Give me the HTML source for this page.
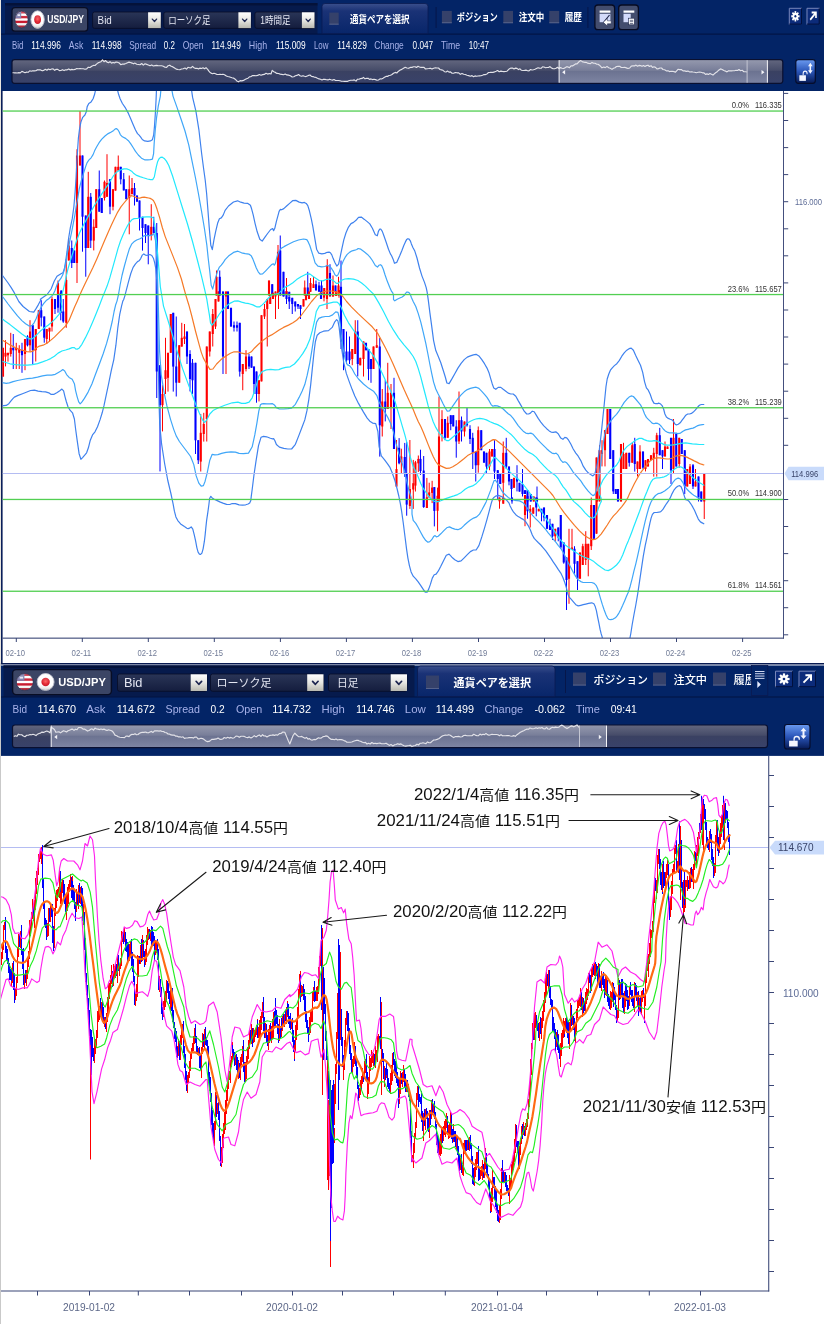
<!DOCTYPE html><html lang="ja"><head><meta charset="utf-8"><title>USD/JPY chart</title>
<style>html,body{margin:0;padding:0;background:#fff}body{width:824px;height:1324px;overflow:hidden}svg{display:block;font-family:"Liberation Sans","Noto Sans CJK JP",sans-serif}</style>
</head><body>
<svg width="824" height="1324" viewBox="0 0 824 1324">
<defs>
<linearGradient id="gNav" x1="0" y1="0" x2="0" y2="1"><stop offset="0" stop-color="#63677f"/><stop offset="0.45" stop-color="#464c69"/><stop offset="0.5" stop-color="#3a4162"/><stop offset="1" stop-color="#39426a"/></linearGradient>
<linearGradient id="gSel" x1="0" y1="0" x2="0" y2="1"><stop offset="0" stop-color="#9498ad"/><stop offset="0.45" stop-color="#787e99"/><stop offset="0.5" stop-color="#6c7391"/><stop offset="1" stop-color="#7d84a2"/></linearGradient>
<linearGradient id="gDD" x1="0" y1="0" x2="0" y2="1"><stop offset="0" stop-color="#2a3557"/><stop offset="1" stop-color="#141d3e"/></linearGradient>
<linearGradient id="gArr" x1="0" y1="0" x2="0" y2="1"><stop offset="0" stop-color="#ffffff"/><stop offset="0.5" stop-color="#e6e6e2"/><stop offset="1" stop-color="#b9b9b0"/></linearGradient>
<linearGradient id="gTab" x1="0" y1="0" x2="0" y2="1"><stop offset="0" stop-color="#3a4f8c"/><stop offset="0.25" stop-color="#1a3276"/><stop offset="1" stop-color="#08266a"/></linearGradient>
<linearGradient id="gLock" x1="0" y1="0" x2="0" y2="1"><stop offset="0" stop-color="#6a9af0"/><stop offset="0.5" stop-color="#2a55b8"/><stop offset="1" stop-color="#061a55"/></linearGradient>
<linearGradient id="gBtn" x1="0" y1="0" x2="0" y2="1"><stop offset="0" stop-color="#4a5578"/><stop offset="1" stop-color="#38425f"/></linearGradient>
<linearGradient id="gShade" x1="0" y1="0" x2="0" y2="1"><stop offset="0" stop-color="#fff" stop-opacity="0.25"/><stop offset="0.6" stop-color="#fff" stop-opacity="0"/><stop offset="1" stop-color="#444" stop-opacity="0.28"/></linearGradient>
<radialGradient id="gJP" cx="0.5" cy="0.45" r="0.5"><stop offset="0" stop-color="#ff5a5a"/><stop offset="1" stop-color="#d01020"/></radialGradient>
<clipPath id="clipTop"><rect x="2.5" y="91" width="781" height="547"/></clipPath>
<clipPath id="clipBot"><rect x="1" y="756" width="767.5" height="535"/></clipPath>
</defs>
<rect width="824" height="1324" fill="#fff"/>
<g id="top-header">
<rect x="0" y="0" width="1" height="663" fill="#e9e6df"/>
<rect x="1" y="0" width="823" height="91" fill="#032466"/>
<rect x="1" y="91" width="1.6" height="572" fill="#0a1f5a"/>
<rect x="5" y="3" width="312.5" height="31" fill="#061a4c"/>
<rect x="5" y="3" width="312.5" height="2.5" fill="#04123a"/>
<rect x="1" y="33.6" width="823" height="1" fill="#021240"/>
<rect x="12" y="7.6" width="75.7" height="23.6" rx="3" fill="#3b4565" stroke="#080d24" stroke-width="1.2"/>
<clipPath id="cfu1"><ellipse cx="21.5" cy="19.5" rx="6.6" ry="8.4"/></clipPath>
<g clip-path="url(#cfu1)">
<rect x="14.9" y="11.1" width="13.2" height="16.8" fill="#fff"/>
<rect x="14.9" y="11.10" width="13.2" height="2.40" fill="#c8152a"/>
<rect x="14.9" y="15.90" width="13.2" height="2.40" fill="#c8152a"/>
<rect x="14.9" y="20.70" width="13.2" height="2.40" fill="#c8152a"/>
<rect x="14.9" y="25.50" width="13.2" height="2.40" fill="#c8152a"/>
<rect x="14.9" y="11.1" width="6.3" height="7.2" fill="#7474a6"/>
<rect x="17.5" y="14.3" width="2.6" height="1.8" fill="#e8e8f4"/>
<rect x="14.9" y="11.1" width="13.2" height="16.8" fill="url(#gShade)"/>
</g>
<ellipse cx="21.5" cy="19.5" rx="6.6" ry="8.4" fill="none" stroke="#2a3150" stroke-width="0.8"/>
<ellipse cx="37.6" cy="19.6" rx="6.7" ry="8.8" fill="#fff" stroke="#b9bccb" stroke-width="0.9"/>
<ellipse cx="37.6" cy="19.6" rx="3.4" ry="4.4" fill="url(#gJP)"/>
<ellipse cx="37.6" cy="19.6" rx="6.7" ry="8.8" fill="url(#gShade)"/>
<text x="47.3" y="23.3" font-size="10.6" fill="#fff" font-weight="bold" text-anchor="start" textLength="36.6" lengthAdjust="spacingAndGlyphs" >USD/JPY</text>
<rect x="92.6" y="12.0" width="68.2" height="16.4" rx="2" fill="url(#gDD)" stroke="#070d26" stroke-width="0.8"/>
<rect x="148.1" y="12.3" width="12.7" height="15.8" fill="url(#gArr)"/>
<path d="M152.3 19.1 L154.5 21.5 L156.6 19.1" fill="none" stroke="#1c2550" stroke-width="1.3" stroke-linecap="round" stroke-linejoin="round"/>
<text x="97.6" y="24.4" font-size="11.6" fill="#e4e6f2" font-weight="normal" text-anchor="start" textLength="14.2" lengthAdjust="spacingAndGlyphs" >Bid</text>
<rect x="163.8" y="12.0" width="87.1" height="16.4" rx="2" fill="url(#gDD)" stroke="#070d26" stroke-width="0.8"/>
<rect x="238.4" y="12.3" width="12.5" height="15.8" fill="url(#gArr)"/>
<path d="M242.5 19.1 L244.7 21.5 L246.8 19.1" fill="none" stroke="#1c2550" stroke-width="1.3" stroke-linecap="round" stroke-linejoin="round"/>
<text x="168.2" y="23.9" font-size="10.4" fill="#e4e6f2" font-weight="normal" text-anchor="start" textLength="42.3" lengthAdjust="spacingAndGlyphs" >ローソク足</text>
<rect x="254.9" y="12.0" width="59.6" height="16.4" rx="2" fill="url(#gDD)" stroke="#070d26" stroke-width="0.8"/>
<rect x="301.9" y="12.3" width="12.6" height="15.8" fill="url(#gArr)"/>
<path d="M306.1 19.1 L308.2 21.5 L310.3 19.1" fill="none" stroke="#1c2550" stroke-width="1.3" stroke-linecap="round" stroke-linejoin="round"/>
<text x="260.2" y="23.9" font-size="10.4" fill="#e4e6f2" font-weight="normal" text-anchor="start" textLength="30.3" lengthAdjust="spacingAndGlyphs" >1時間足</text>
<path d="M322 33.6 V6.5 Q322 3.5 325 3.5 H425 Q428 3.5 428 6.5 V33.6 Z" fill="url(#gTab)" stroke="#0a1a50" stroke-width="0.8"/>
<rect x="329.3" y="12.6" width="9.4" height="12.0" fill="#35416a"/>
<rect x="329.3" y="23.7" width="9.4" height="0.9" fill="#5a678f"/>
<text x="350.1" y="22.5" font-size="10.4" fill="#fff" font-weight="bold" text-anchor="start" textLength="59.3" lengthAdjust="spacingAndGlyphs" >通貨ペアを選択</text>
<rect x="435.6" y="7" width="1" height="21" fill="#06164a"/>
<rect x="441.9" y="10.9" width="9.9" height="12.3" fill="#35416a"/>
<rect x="441.9" y="22.3" width="9.9" height="0.9" fill="#5a678f"/>
<text x="456.8" y="21.0" font-size="10.4" fill="#fff" font-weight="bold" text-anchor="start" textLength="41.0" lengthAdjust="spacingAndGlyphs" >ポジション</text>
<rect x="503.3" y="10.9" width="9.7" height="12.3" fill="#35416a"/>
<rect x="503.3" y="22.3" width="9.7" height="0.9" fill="#5a678f"/>
<text x="518.8" y="21.0" font-size="10.4" fill="#fff" font-weight="bold" text-anchor="start" textLength="25.5" lengthAdjust="spacingAndGlyphs" >注文中</text>
<rect x="549.3" y="10.9" width="9.9" height="12.3" fill="#35416a"/>
<rect x="549.3" y="22.3" width="9.9" height="0.9" fill="#5a678f"/>
<text x="564.7" y="21.0" font-size="10.4" fill="#fff" font-weight="bold" text-anchor="start" textLength="17.2" lengthAdjust="spacingAndGlyphs" >履歴</text>
<rect x="587.4" y="7" width="1" height="21" fill="#06164a"/>
<rect x="594.9" y="5" width="19.7" height="24.7" rx="3" fill="#434d6e" stroke="#070b22" stroke-width="1.3"/>
<rect x="618.7" y="5" width="19.7" height="24.7" rx="3" fill="#434d6e" stroke="#070b22" stroke-width="1.3"/>
<rect x="599.6" y="10.5" width="10.8" height="2.2" fill="#fff"/>
<rect x="599.6" y="13.8" width="10.8" height="8.4" fill="#d3dafa"/>
<path d="M609.5 15 L603.5 22.5" stroke="#1b2348" stroke-width="1.2"/>
<path d="M603.2 22.3 l4.2 -3.8 v2.3 h3.8 v3 h-3.8 v2.3 Z" fill="#fff" stroke="#1b2348" stroke-width="0.5"/>
<rect x="623.5" y="10.5" width="10.8" height="2.2" fill="#fff"/>
<rect x="623.5" y="13.8" width="7.2" height="8.4" fill="#d3dafa"/>
<rect x="628.6" y="18.2" width="5.8" height="6.6" fill="#fff" stroke="#1b2348" stroke-width="0.6"/>
<rect x="629.8" y="19.9" width="3.4" height="0.6" fill="#1b2348"/>
<rect x="629.8" y="21.5" width="3.4" height="0.6" fill="#1b2348"/>
<rect x="629.8" y="23.1" width="3.4" height="0.6" fill="#1b2348"/>
<rect x="788.8" y="7.8" width="13.2" height="16.8" fill="#0c2b7a"/>
<path d="M789.3 24.6 v-16.3 h12.7" fill="none" stroke="#7786b8" stroke-width="1"/>
<path d="M801.5 8.3 v15.8 h-12.2" fill="none" stroke="#02103c" stroke-width="1"/>
<g transform="translate(795.4 16.3) scale(0.8 1)">
<g fill="#fff">
<rect x="-1.04" y="-5.20" width="2.08" height="10.40" transform="rotate(0 0.00 0.00)"/>
<rect x="-1.04" y="-5.20" width="2.08" height="10.40" transform="rotate(45 0.00 0.00)"/>
<rect x="-1.04" y="-5.20" width="2.08" height="10.40" transform="rotate(90 0.00 0.00)"/>
<rect x="-1.04" y="-5.20" width="2.08" height="10.40" transform="rotate(135 0.00 0.00)"/>
<circle cx="0.00" cy="0.00" r="3.43"/>
<circle cx="0.00" cy="0.00" r="1.25" fill="#0b2a78"/>
</g>
</g>
<rect x="806.5" y="7.8" width="13.2" height="16.8" fill="#0c2b7a"/>
<path d="M807.0 24.6 v-16.3 h12.7" fill="none" stroke="#7786b8" stroke-width="1"/>
<path d="M819.2 8.3 v15.8 h-12.2" fill="none" stroke="#02103c" stroke-width="1"/>
<g transform="translate(813.1 16.2) scale(0.8 1)">
<path d="M-3.6 3.6 L2.9 -2.9 M-1.8 -3.6 h5.4 v5.4" fill="none" stroke="#fff" stroke-width="2.0"/>
</g>
<text x="12.0" y="49.2" font-size="10.3" fill="#a8b2ea" font-weight="normal" text-anchor="start" textLength="11.4" lengthAdjust="spacingAndGlyphs" >Bid</text>
<text x="31.3" y="49.2" font-size="10.3" fill="#fff" font-weight="normal" text-anchor="start" textLength="29.6" lengthAdjust="spacingAndGlyphs" >114.996</text>
<text x="68.8" y="49.2" font-size="10.3" fill="#a8b2ea" font-weight="normal" text-anchor="start" textLength="14.5" lengthAdjust="spacingAndGlyphs" >Ask</text>
<text x="91.8" y="49.2" font-size="10.3" fill="#fff" font-weight="normal" text-anchor="start" textLength="29.8" lengthAdjust="spacingAndGlyphs" >114.998</text>
<text x="129.2" y="49.2" font-size="10.3" fill="#a8b2ea" font-weight="normal" text-anchor="start" textLength="27.0" lengthAdjust="spacingAndGlyphs" >Spread</text>
<text x="163.8" y="49.2" font-size="10.3" fill="#fff" font-weight="normal" text-anchor="start" textLength="11.1" lengthAdjust="spacingAndGlyphs" >0.2</text>
<text x="182.7" y="49.2" font-size="10.3" fill="#a8b2ea" font-weight="normal" text-anchor="start" textLength="20.9" lengthAdjust="spacingAndGlyphs" >Open</text>
<text x="211.5" y="49.2" font-size="10.3" fill="#fff" font-weight="normal" text-anchor="start" textLength="29.3" lengthAdjust="spacingAndGlyphs" >114.949</text>
<text x="248.8" y="49.2" font-size="10.3" fill="#a8b2ea" font-weight="normal" text-anchor="start" textLength="18.3" lengthAdjust="spacingAndGlyphs" >High</text>
<text x="276.0" y="49.2" font-size="10.3" fill="#fff" font-weight="normal" text-anchor="start" textLength="29.7" lengthAdjust="spacingAndGlyphs" >115.009</text>
<text x="313.9" y="49.2" font-size="10.3" fill="#a8b2ea" font-weight="normal" text-anchor="start" textLength="14.5" lengthAdjust="spacingAndGlyphs" >Low</text>
<text x="337.2" y="49.2" font-size="10.3" fill="#fff" font-weight="normal" text-anchor="start" textLength="29.6" lengthAdjust="spacingAndGlyphs" >114.829</text>
<text x="374.3" y="49.2" font-size="10.3" fill="#a8b2ea" font-weight="normal" text-anchor="start" textLength="29.5" lengthAdjust="spacingAndGlyphs" >Change</text>
<text x="412.6" y="49.2" font-size="10.3" fill="#fff" font-weight="normal" text-anchor="start" textLength="20.5" lengthAdjust="spacingAndGlyphs" >0.047</text>
<text x="441.0" y="49.2" font-size="10.3" fill="#a8b2ea" font-weight="normal" text-anchor="start" textLength="19.0" lengthAdjust="spacingAndGlyphs" >Time</text>
<text x="468.8" y="49.2" font-size="10.3" fill="#fff" font-weight="normal" text-anchor="start" textLength="20.2" lengthAdjust="spacingAndGlyphs" >10:47</text>
<rect x="12.0" y="59.6" width="770.8" height="23.7" rx="2.5" fill="url(#gNav)" stroke="#0a1030" stroke-width="1.2"/>
<rect x="559.1" y="60.2" width="208.3" height="22.5" fill="url(#gSel)"/>
<path d="M12.5 72.7 L14.1 72.8 L15.6 72.8 L17.2 73.0 L18.8 72.6 L20.3 72.9 L21.9 71.4 L23.4 72.0 L25.0 72.7 L26.6 72.1 L28.1 72.3 L29.7 70.8 L31.2 71.2 L32.8 70.7 L34.4 70.9 L35.9 70.8 L37.5 69.7 L39.1 69.9 L40.6 69.9 L42.2 70.8 L43.8 70.4 L45.3 69.3 L46.9 70.2 L48.4 69.0 L50.0 69.7 L51.6 69.0 L53.1 68.8 L54.7 70.3 L56.2 69.3 L57.8 69.4 L59.4 70.6 L60.9 70.5 L62.5 69.7 L64.1 70.6 L65.6 69.8 L67.2 69.8 L68.8 68.9 L70.3 69.9 L71.9 69.4 L73.4 69.7 L75.0 69.4 L76.7 68.6 L78.3 68.8 L80.0 68.6 L81.7 68.7 L83.3 68.7 L85.0 69.2 L86.7 68.9 L88.3 67.2 L90.0 67.5 L91.7 66.2 L93.3 65.4 L95.0 65.5 L96.5 64.1 L98.0 62.9 L99.5 62.3 L101.0 61.7 L102.5 59.8 L104.0 61.7 L105.5 60.5 L107.0 62.1 L108.5 62.7 L110.0 61.7 L111.5 63.1 L113.0 62.5 L114.5 62.9 L116.0 62.1 L117.5 62.3 L119.2 63.0 L120.8 64.7 L122.5 64.0 L124.2 64.1 L125.8 63.5 L127.5 62.7 L129.0 62.1 L130.5 62.5 L132.0 63.1 L133.5 63.8 L135.0 63.1 L136.7 64.3 L138.3 64.5 L140.0 64.7 L141.7 63.5 L143.3 65.1 L145.0 63.8 L146.7 64.4 L148.3 65.0 L150.0 65.7 L151.7 64.9 L153.3 66.0 L155.0 65.6 L156.7 65.4 L158.3 65.7 L160.0 65.7 L161.7 65.8 L163.3 66.2 L165.0 67.3 L166.6 67.4 L168.1 65.7 L169.7 65.2 L171.2 66.3 L172.9 66.9 L174.6 68.0 L176.2 69.1 L178.0 69.5 L179.8 69.7 L181.5 69.0 L183.2 68.8 L185.0 68.0 L186.5 69.1 L188.0 67.3 L189.5 67.7 L191.0 67.9 L192.5 66.4 L194.0 67.7 L195.5 68.4 L197.0 68.3 L198.5 68.9 L200.0 68.1 L201.5 68.5 L203.0 67.8 L204.5 68.7 L206.0 67.7 L207.7 69.4 L209.3 71.8 L211.0 73.1 L212.5 73.7 L214.0 73.2 L215.5 73.7 L217.0 74.5 L218.5 74.5 L220.0 74.3 L221.5 74.5 L223.0 74.2 L224.5 74.7 L226.0 75.8 L227.5 76.5 L229.0 76.7 L230.5 77.2 L232.0 77.7 L233.5 78.1 L235.2 79.2 L236.8 80.9 L238.5 81.8 L240.2 80.6 L241.8 80.9 L243.5 80.4 L245.0 79.6 L246.5 78.8 L248.0 78.2 L249.5 76.8 L251.0 76.6 L252.7 75.6 L254.3 75.6 L256.0 75.8 L257.7 75.4 L259.3 74.5 L261.0 75.2 L262.7 74.6 L264.3 74.4 L266.0 73.3 L267.7 74.1 L269.3 73.5 L271.0 74.0 L272.2 70.4 L273.8 71.8 L275.4 72.4 L276.9 73.4 L278.5 73.5 L280.2 74.1 L281.8 74.4 L283.5 74.7 L285.2 74.0 L286.8 74.9 L288.5 75.1 L290.4 75.7 L292.2 77.0 L293.8 76.7 L295.4 75.7 L296.9 75.4 L298.5 74.5 L300.0 75.8 L301.5 76.2 L303.0 75.7 L304.5 76.3 L306.0 76.6 L308.5 75.4 L310.0 75.0 L311.5 76.4 L313.0 76.6 L314.5 77.3 L316.0 77.4 L317.5 78.2 L319.0 78.9 L320.5 79.2 L322.0 79.9 L323.5 79.2 L325.0 79.4 L326.5 79.7 L328.0 79.9 L329.5 79.2 L331.0 79.8 L332.5 80.1 L334.0 79.5 L335.5 80.5 L337.0 80.5 L338.5 80.5 L340.0 80.8 L341.5 81.3 L343.0 81.2 L344.5 81.4 L346.0 81.3 L347.7 81.3 L349.3 80.5 L351.0 80.2 L352.7 80.3 L354.3 79.9 L356.0 81.1 L357.5 79.2 L359.0 79.3 L360.5 78.6 L362.0 78.4 L363.5 77.4 L365.0 78.8 L366.5 78.4 L368.0 78.2 L369.5 79.4 L371.0 78.9 L372.5 79.6 L374.0 79.2 L375.5 79.6 L377.0 80.2 L378.5 80.0 L380.0 78.9 L381.5 79.0 L383.0 78.2 L384.5 77.3 L386.0 76.4 L387.5 76.4 L389.0 75.5 L390.5 75.3 L392.0 74.5 L393.5 73.2 L395.2 72.4 L396.8 73.0 L398.5 71.2 L400.2 70.0 L401.8 69.4 L403.5 68.2 L405.2 67.3 L406.9 68.0 L408.6 68.3 L410.3 67.4 L412.0 67.4 L413.5 66.8 L415.0 66.7 L416.5 67.5 L418.0 66.3 L419.5 67.0 L421.0 67.4 L422.5 67.4 L424.0 67.4 L425.5 69.0 L427.0 68.7 L428.7 68.5 L430.3 68.2 L432.0 69.1 L433.7 68.2 L435.3 67.8 L437.0 68.0 L438.5 68.0 L440.0 69.5 L441.5 69.9 L443.0 70.3 L444.5 71.7 L446.0 72.0 L447.5 71.0 L449.0 72.1 L450.5 71.9 L452.0 73.2 L453.7 73.2 L455.3 72.5 L457.0 72.8 L458.7 72.8 L460.3 74.3 L462.0 73.4 L463.7 74.3 L465.3 74.5 L467.0 75.2 L468.7 75.6 L470.3 76.2 L472.0 75.6 L473.5 76.7 L475.0 75.9 L476.5 76.3 L478.0 76.0 L479.5 75.9 L481.0 75.8 L482.5 75.2 L484.0 74.5 L485.5 74.6 L487.0 73.9 L488.5 72.5 L490.0 72.4 L491.5 72.2 L493.0 72.4 L494.5 71.9 L496.1 71.3 L497.6 70.5 L499.2 71.7 L500.8 71.1 L502.3 71.4 L503.9 71.6 L505.4 71.5 L507.0 71.2 L509.5 68.7 L511.0 68.0 L512.5 68.1 L514.0 69.0 L515.5 68.1 L517.0 68.4 L518.5 69.6 L520.0 68.8 L521.5 70.3 L523.0 70.5 L524.5 70.4 L526.0 70.1 L527.5 70.7 L529.0 70.9 L530.5 69.5 L532.0 70.0 L533.5 69.7 L535.0 69.2 L536.5 68.5 L538.0 67.8 L539.5 68.1 L541.0 68.3 L542.5 66.9 L544.0 67.0 L545.5 67.7 L547.0 67.5 L548.5 67.5 L550.0 66.6 L551.5 68.0 L553.0 68.6 L554.5 68.8 L556.0 68.3 L557.5 67.3 L559.0 68.5 L560.5 67.6 L562.0 68.2 L563.5 68.5 L565.0 67.9 L566.5 66.8 L568.0 66.9 L569.5 67.7 L571.0 65.8 L572.5 65.9 L574.0 64.9 L575.5 63.9 L577.0 63.9 L578.9 61.8 L580.8 60.6 L582.6 61.9 L584.5 62.3 L586.0 62.3 L587.5 63.1 L589.0 63.4 L590.5 63.6 L592.0 62.4 L593.5 63.2 L595.0 63.3 L596.5 64.1 L598.0 64.2 L599.5 65.2 L602.0 67.8 L603.7 67.0 L605.3 67.6 L607.0 66.4 L608.7 67.8 L610.3 68.2 L612.0 69.4 L613.5 68.2 L615.0 67.7 L616.5 66.5 L618.0 66.3 L619.7 66.3 L621.3 67.5 L623.0 67.5 L624.7 67.3 L626.3 67.9 L628.0 68.5 L629.7 68.0 L631.3 66.1 L633.0 65.8 L634.5 65.9 L636.0 65.1 L637.5 66.2 L639.0 65.4 L640.5 65.6 L642.0 66.3 L643.5 65.5 L645.0 66.4 L646.5 65.6 L648.0 65.2 L649.5 66.5 L651.0 65.7 L652.5 67.4 L654.0 66.8 L655.5 67.4 L657.0 68.9 L658.5 68.6 L660.0 68.0 L661.5 68.0 L663.0 69.5 L664.7 69.8 L666.3 70.9 L668.0 70.7 L669.5 71.6 L671.0 71.3 L672.5 71.3 L674.0 71.6 L675.5 72.2 L678.0 69.3 L679.7 69.6 L681.3 69.5 L683.0 70.9 L684.7 70.9 L686.3 71.4 L688.0 71.1 L689.7 72.0 L691.3 71.7 L693.0 72.0 L694.7 72.2 L696.3 72.7 L698.0 72.3 L699.5 72.1 L701.0 72.3 L702.5 72.8 L704.0 72.8 L705.5 74.4 L707.0 73.9 L708.5 74.5 L710.0 73.4 L711.5 74.3 L713.0 75.1 L714.5 73.7 L716.0 72.4 L717.5 71.4 L719.0 69.9 L720.5 68.9 L722.2 69.5 L723.8 70.5 L725.5 71.1 L727.0 71.9 L728.5 70.7 L730.0 70.9 L731.5 70.9 L733.0 70.7 L734.5 70.7 L736.0 70.3 L737.5 70.5 L739.0 69.5 L740.5 70.7 L742.2 70.3 L743.9 71.7 L745.6 71.8 L747.2 72.0" fill="none" stroke="#e2e2e8" stroke-width="1.15" stroke-linejoin="round"/>
<rect x="558.6" y="60.2" width="1" height="22.5" fill="#f4f4f8"/>
<rect x="766.9" y="60.2" width="1" height="22.5" fill="#f4f4f8"/>
<rect x="746.6" y="60.2" width="1" height="22.5" fill="#c4c6d2"/>
<path d="M562.1 72.2 L565.1 69.9 L565.1 74.5 Z" fill="#f4f4f8"/>
<path d="M764.5 72.2 L761.5 69.9 L761.5 74.5 Z" fill="#f4f4f8"/>
<rect x="795.8" y="59.6" width="19.5" height="23.7" rx="2.5" fill="url(#gLock)" stroke="#050d2c" stroke-width="1.2"/>
<g transform="translate(795.80 59.60) scale(0.765 0.967)">
<rect x="4.6" y="16.2" width="8.6" height="5.8" fill="#f4f6ff"/>
<path d="M9.6 16.2 v-1.6 a2.6 2.6 0 0 1 5.2 0 v0.6" fill="none" stroke="#f4f6ff" stroke-width="1.3"/>
<path d="M19 3.2 l3 3.6 h-2 v4.2 h2 l-3 3.6 l-3 -3.6 h2 v-4.2 h-2 Z" fill="#f4f6ff"/>
</g>
</g>
<g id="top-chart">
<g clip-path="url(#clipTop)">
<rect x="2.50" y="347.8" width="1" height="28.8" fill="#ff0000"/>
<rect x="1.95" y="347.8" width="2.1" height="28.8" fill="#ff0000"/>
<rect x="5.00" y="340.2" width="1" height="26.2" fill="#ff0000"/>
<rect x="4.45" y="352.8" width="2.1" height="3.8" fill="#ff0000"/>
<rect x="7.50" y="352.8" width="1" height="8.8" fill="#ff0000"/>
<rect x="6.95" y="352.8" width="2.1" height="2.5" fill="#ff0000"/>
<rect x="10.25" y="332.8" width="1" height="23.8" fill="#ff0000"/>
<rect x="9.70" y="347.8" width="2.1" height="6.2" fill="#ff0000"/>
<rect x="12.75" y="334.0" width="1" height="35.0" fill="#0000ff"/>
<rect x="12.20" y="347.8" width="2.1" height="2.5" fill="#0000ff"/>
<rect x="15.75" y="342.8" width="1" height="26.2" fill="#ff0000"/>
<rect x="15.20" y="347.8" width="2.1" height="2.5" fill="#ff0000"/>
<rect x="18.75" y="345.2" width="1" height="23.8" fill="#ff0000"/>
<rect x="18.20" y="349.0" width="2.1" height="3.8" fill="#ff0000"/>
<rect x="21.50" y="342.8" width="1" height="30.0" fill="#0000ff"/>
<rect x="20.95" y="350.2" width="2.1" height="5.0" fill="#0000ff"/>
<rect x="24.50" y="339.0" width="1" height="31.2" fill="#ff0000"/>
<rect x="23.95" y="339.0" width="2.1" height="15.0" fill="#ff0000"/>
<rect x="27.00" y="335.2" width="1" height="11.2" fill="#0000ff"/>
<rect x="26.45" y="336.5" width="2.1" height="8.8" fill="#0000ff"/>
<rect x="29.50" y="320.2" width="1" height="31.2" fill="#ff0000"/>
<rect x="28.95" y="331.5" width="2.1" height="13.8" fill="#ff0000"/>
<rect x="32.25" y="325.2" width="1" height="38.8" fill="#0000ff"/>
<rect x="31.70" y="325.2" width="2.1" height="25.0" fill="#0000ff"/>
<rect x="35.25" y="329.0" width="1" height="32.5" fill="#ff0000"/>
<rect x="34.70" y="329.0" width="2.1" height="21.2" fill="#ff0000"/>
<rect x="38.25" y="310.2" width="1" height="18.8" fill="#ff0000"/>
<rect x="37.70" y="310.2" width="2.1" height="18.8" fill="#ff0000"/>
<rect x="40.75" y="300.2" width="1" height="26.2" fill="#0000ff"/>
<rect x="40.20" y="310.2" width="2.1" height="7.5" fill="#0000ff"/>
<rect x="43.75" y="316.5" width="1" height="26.2" fill="#0000ff"/>
<rect x="43.20" y="316.5" width="2.1" height="21.2" fill="#0000ff"/>
<rect x="46.25" y="329.0" width="1" height="15.0" fill="#ff0000"/>
<rect x="45.70" y="329.0" width="2.1" height="10.0" fill="#ff0000"/>
<rect x="49.00" y="327.8" width="1" height="13.8" fill="#ff0000"/>
<rect x="48.45" y="327.8" width="2.1" height="3.8" fill="#ff0000"/>
<rect x="51.50" y="296.5" width="1" height="35.0" fill="#ff0000"/>
<rect x="50.95" y="299.0" width="2.1" height="27.5" fill="#ff0000"/>
<rect x="54.50" y="299.0" width="1" height="15.0" fill="#0000ff"/>
<rect x="53.95" y="299.0" width="2.1" height="10.0" fill="#0000ff"/>
<rect x="57.50" y="291.5" width="1" height="21.2" fill="#0000ff"/>
<rect x="56.95" y="291.5" width="2.1" height="16.2" fill="#0000ff"/>
<rect x="57.50" y="280.5" width="1" height="13.5" fill="#ff0000"/>
<rect x="56.95" y="283.0" width="2.1" height="11.0" fill="#ff0000"/>
<rect x="60.25" y="292.8" width="1" height="27.5" fill="#0000ff"/>
<rect x="59.70" y="292.8" width="2.1" height="20.0" fill="#0000ff"/>
<rect x="60.75" y="290.5" width="1" height="5.0" fill="#0000ff"/>
<rect x="60.20" y="290.5" width="2.1" height="5.0" fill="#0000ff"/>
<rect x="62.75" y="299.0" width="1" height="23.8" fill="#0000ff"/>
<rect x="62.20" y="311.5" width="2.1" height="10.0" fill="#0000ff"/>
<rect x="65.75" y="259.0" width="1" height="68.8" fill="#ff0000"/>
<rect x="65.20" y="280.0" width="2.1" height="42.8" fill="#ff0000"/>
<rect x="68.25" y="238.0" width="1" height="22.5" fill="#ff0000"/>
<rect x="67.70" y="245.5" width="2.1" height="15.0" fill="#ff0000"/>
<rect x="71.25" y="240.5" width="1" height="27.5" fill="#0000ff"/>
<rect x="70.70" y="248.0" width="2.1" height="15.0" fill="#0000ff"/>
<rect x="73.75" y="250.5" width="1" height="12.5" fill="#0000ff"/>
<rect x="73.20" y="250.5" width="2.1" height="12.5" fill="#0000ff"/>
<rect x="76.50" y="149.2" width="1" height="133.8" fill="#ff0000"/>
<rect x="75.95" y="155.5" width="2.1" height="107.5" fill="#ff0000"/>
<rect x="79.50" y="111.0" width="1" height="54.5" fill="#ff0000"/>
<rect x="78.95" y="155.5" width="2.1" height="10.0" fill="#ff0000"/>
<rect x="82.00" y="155.5" width="1" height="96.2" fill="#0000ff"/>
<rect x="81.45" y="155.5" width="2.1" height="61.2" fill="#0000ff"/>
<rect x="85.25" y="215.5" width="1" height="61.2" fill="#0000ff"/>
<rect x="84.70" y="215.5" width="2.1" height="32.5" fill="#0000ff"/>
<rect x="87.75" y="171.8" width="1" height="76.2" fill="#ff0000"/>
<rect x="87.20" y="196.8" width="2.1" height="51.2" fill="#ff0000"/>
<rect x="90.25" y="193.0" width="1" height="55.0" fill="#0000ff"/>
<rect x="89.70" y="196.8" width="2.1" height="43.8" fill="#0000ff"/>
<rect x="93.25" y="219.2" width="1" height="31.2" fill="#ff0000"/>
<rect x="92.70" y="226.8" width="2.1" height="13.8" fill="#ff0000"/>
<rect x="95.75" y="189.2" width="1" height="38.8" fill="#ff0000"/>
<rect x="95.20" y="189.2" width="2.1" height="38.8" fill="#ff0000"/>
<rect x="98.75" y="170.5" width="1" height="41.2" fill="#0000ff"/>
<rect x="98.20" y="189.2" width="2.1" height="22.5" fill="#0000ff"/>
<rect x="101.25" y="198.0" width="1" height="15.0" fill="#0000ff"/>
<rect x="100.70" y="198.0" width="2.1" height="15.0" fill="#0000ff"/>
<rect x="104.00" y="180.5" width="1" height="20.0" fill="#ff0000"/>
<rect x="103.45" y="181.8" width="2.1" height="16.2" fill="#ff0000"/>
<rect x="106.50" y="154.2" width="1" height="42.5" fill="#ff0000"/>
<rect x="105.95" y="183.0" width="2.1" height="13.8" fill="#ff0000"/>
<rect x="109.50" y="179.2" width="1" height="35.0" fill="#0000ff"/>
<rect x="108.95" y="179.2" width="2.1" height="27.5" fill="#0000ff"/>
<rect x="112.50" y="189.2" width="1" height="21.2" fill="#ff0000"/>
<rect x="111.95" y="189.2" width="2.1" height="17.5" fill="#ff0000"/>
<rect x="115.00" y="166.8" width="1" height="23.8" fill="#ff0000"/>
<rect x="114.45" y="166.8" width="2.1" height="23.8" fill="#ff0000"/>
<rect x="117.75" y="155.5" width="1" height="15.0" fill="#ff0000"/>
<rect x="117.20" y="166.8" width="2.1" height="3.8" fill="#ff0000"/>
<rect x="120.25" y="166.8" width="1" height="17.5" fill="#0000ff"/>
<rect x="119.70" y="166.8" width="2.1" height="12.5" fill="#0000ff"/>
<rect x="123.25" y="173.0" width="1" height="17.5" fill="#0000ff"/>
<rect x="122.70" y="179.2" width="2.1" height="11.2" fill="#0000ff"/>
<rect x="125.75" y="189.2" width="1" height="10.0" fill="#0000ff"/>
<rect x="125.20" y="189.2" width="2.1" height="10.0" fill="#0000ff"/>
<rect x="128.75" y="175.5" width="1" height="58.8" fill="#ff0000"/>
<rect x="128.20" y="189.2" width="2.1" height="8.8" fill="#ff0000"/>
<rect x="131.50" y="178.0" width="1" height="16.2" fill="#ff0000"/>
<rect x="130.95" y="188.0" width="2.1" height="6.2" fill="#ff0000"/>
<rect x="134.00" y="183.0" width="1" height="22.5" fill="#0000ff"/>
<rect x="133.45" y="188.0" width="2.1" height="7.5" fill="#0000ff"/>
<rect x="136.50" y="195.5" width="1" height="6.2" fill="#0000ff"/>
<rect x="135.95" y="195.5" width="2.1" height="6.2" fill="#0000ff"/>
<rect x="139.00" y="200.5" width="1" height="30.0" fill="#0000ff"/>
<rect x="138.45" y="200.5" width="2.1" height="17.5" fill="#0000ff"/>
<rect x="142.00" y="216.8" width="1" height="33.8" fill="#0000ff"/>
<rect x="141.45" y="216.8" width="2.1" height="11.2" fill="#0000ff"/>
<rect x="145.00" y="224.2" width="1" height="18.8" fill="#0000ff"/>
<rect x="144.45" y="224.2" width="2.1" height="8.8" fill="#0000ff"/>
<rect x="147.75" y="225.5" width="1" height="38.8" fill="#0000ff"/>
<rect x="147.20" y="225.5" width="2.1" height="10.0" fill="#0000ff"/>
<rect x="150.75" y="204.2" width="1" height="36.2" fill="#ff0000"/>
<rect x="150.20" y="226.8" width="2.1" height="8.8" fill="#ff0000"/>
<rect x="153.25" y="216.8" width="1" height="16.2" fill="#0000ff"/>
<rect x="152.70" y="226.8" width="2.1" height="6.2" fill="#0000ff"/>
<rect x="156.25" y="223.0" width="1" height="175.0" fill="#0000ff"/>
<rect x="155.70" y="233.0" width="2.1" height="138.5" fill="#0000ff"/>
<rect x="159.50" y="365.2" width="1" height="106.2" fill="#0000ff"/>
<rect x="158.95" y="365.2" width="2.1" height="40.0" fill="#0000ff"/>
<rect x="162.00" y="385.2" width="1" height="46.2" fill="#ff0000"/>
<rect x="161.45" y="394.0" width="2.1" height="11.2" fill="#ff0000"/>
<rect x="165.00" y="337.8" width="1" height="56.2" fill="#ff0000"/>
<rect x="164.45" y="370.2" width="2.1" height="8.8" fill="#ff0000"/>
<rect x="167.50" y="352.8" width="1" height="38.8" fill="#ff0000"/>
<rect x="166.95" y="352.8" width="2.1" height="25.0" fill="#ff0000"/>
<rect x="170.25" y="314.0" width="1" height="38.8" fill="#ff0000"/>
<rect x="169.70" y="314.0" width="2.1" height="38.8" fill="#ff0000"/>
<rect x="172.75" y="312.8" width="1" height="78.8" fill="#0000ff"/>
<rect x="172.20" y="312.8" width="2.1" height="53.8" fill="#0000ff"/>
<rect x="175.75" y="316.5" width="1" height="80.0" fill="#0000ff"/>
<rect x="175.20" y="366.5" width="2.1" height="16.2" fill="#0000ff"/>
<rect x="178.75" y="345.2" width="1" height="37.5" fill="#ff0000"/>
<rect x="178.20" y="345.2" width="2.1" height="37.5" fill="#ff0000"/>
<rect x="181.25" y="322.8" width="1" height="23.8" fill="#ff0000"/>
<rect x="180.70" y="337.8" width="2.1" height="8.8" fill="#ff0000"/>
<rect x="184.00" y="324.0" width="1" height="20.0" fill="#ff0000"/>
<rect x="183.45" y="336.5" width="2.1" height="2.5" fill="#ff0000"/>
<rect x="186.50" y="331.5" width="1" height="32.5" fill="#0000ff"/>
<rect x="185.95" y="331.5" width="2.1" height="25.0" fill="#0000ff"/>
<rect x="189.50" y="350.2" width="1" height="41.2" fill="#0000ff"/>
<rect x="188.95" y="354.0" width="2.1" height="25.0" fill="#0000ff"/>
<rect x="192.00" y="359.0" width="1" height="35.0" fill="#0000ff"/>
<rect x="191.45" y="362.8" width="2.1" height="17.5" fill="#0000ff"/>
<rect x="195.00" y="362.8" width="1" height="91.2" fill="#0000ff"/>
<rect x="194.45" y="362.8" width="2.1" height="77.5" fill="#0000ff"/>
<rect x="197.75" y="440.2" width="1" height="23.8" fill="#0000ff"/>
<rect x="197.20" y="440.2" width="2.1" height="20.0" fill="#0000ff"/>
<rect x="200.25" y="414.0" width="1" height="57.5" fill="#ff0000"/>
<rect x="199.70" y="432.8" width="2.1" height="28.8" fill="#ff0000"/>
<rect x="203.25" y="412.8" width="1" height="28.8" fill="#ff0000"/>
<rect x="202.70" y="424.0" width="2.1" height="10.0" fill="#ff0000"/>
<rect x="206.25" y="346.5" width="1" height="95.0" fill="#ff0000"/>
<rect x="205.70" y="346.5" width="2.1" height="72.5" fill="#ff0000"/>
<rect x="209.25" y="331.5" width="1" height="25.0" fill="#ff0000"/>
<rect x="208.70" y="331.5" width="2.1" height="20.0" fill="#ff0000"/>
<rect x="212.25" y="309.0" width="1" height="37.5" fill="#ff0000"/>
<rect x="211.70" y="314.0" width="2.1" height="20.0" fill="#ff0000"/>
<rect x="215.00" y="299.0" width="1" height="30.0" fill="#ff0000"/>
<rect x="214.45" y="299.0" width="2.1" height="27.5" fill="#ff0000"/>
<rect x="216.00" y="270.5" width="1" height="25.0" fill="#ff0000"/>
<rect x="215.45" y="276.8" width="2.1" height="18.8" fill="#ff0000"/>
<rect x="218.00" y="291.5" width="1" height="10.0" fill="#ff0000"/>
<rect x="217.45" y="291.5" width="2.1" height="10.0" fill="#ff0000"/>
<rect x="219.25" y="270.5" width="1" height="25.0" fill="#0000ff"/>
<rect x="218.70" y="276.8" width="2.1" height="18.8" fill="#0000ff"/>
<rect x="222.50" y="291.5" width="1" height="82.5" fill="#0000ff"/>
<rect x="221.95" y="291.5" width="2.1" height="65.0" fill="#0000ff"/>
<rect x="225.50" y="291.5" width="1" height="82.5" fill="#ff0000"/>
<rect x="224.95" y="291.5" width="2.1" height="5.0" fill="#ff0000"/>
<rect x="225.50" y="292.5" width="1" height="1.5" fill="#ff0000"/>
<rect x="224.95" y="292.5" width="2.1" height="1.5" fill="#ff0000"/>
<rect x="227.50" y="291.5" width="1" height="17.5" fill="#0000ff"/>
<rect x="226.95" y="291.5" width="2.1" height="17.5" fill="#0000ff"/>
<rect x="230.50" y="307.8" width="1" height="18.8" fill="#0000ff"/>
<rect x="229.95" y="307.8" width="2.1" height="18.8" fill="#0000ff"/>
<rect x="233.50" y="321.5" width="1" height="10.0" fill="#0000ff"/>
<rect x="232.95" y="325.2" width="2.1" height="2.5" fill="#0000ff"/>
<rect x="236.50" y="321.5" width="1" height="10.0" fill="#0000ff"/>
<rect x="235.95" y="325.2" width="2.1" height="2.5" fill="#0000ff"/>
<rect x="239.25" y="322.8" width="1" height="53.8" fill="#0000ff"/>
<rect x="238.70" y="322.8" width="2.1" height="48.8" fill="#0000ff"/>
<rect x="242.25" y="364.0" width="1" height="26.2" fill="#ff0000"/>
<rect x="241.70" y="364.0" width="2.1" height="10.0" fill="#ff0000"/>
<rect x="245.50" y="350.2" width="1" height="21.2" fill="#ff0000"/>
<rect x="244.95" y="356.5" width="2.1" height="12.5" fill="#ff0000"/>
<rect x="248.50" y="354.0" width="1" height="15.0" fill="#0000ff"/>
<rect x="247.95" y="356.5" width="2.1" height="10.0" fill="#0000ff"/>
<rect x="251.00" y="356.5" width="1" height="11.2" fill="#0000ff"/>
<rect x="250.45" y="356.5" width="2.1" height="11.2" fill="#0000ff"/>
<rect x="253.50" y="366.5" width="1" height="27.5" fill="#0000ff"/>
<rect x="252.95" y="366.5" width="2.1" height="17.5" fill="#0000ff"/>
<rect x="256.00" y="371.5" width="1" height="31.2" fill="#0000ff"/>
<rect x="255.45" y="371.5" width="2.1" height="22.5" fill="#0000ff"/>
<rect x="258.50" y="380.2" width="1" height="21.2" fill="#ff0000"/>
<rect x="257.95" y="380.2" width="2.1" height="13.8" fill="#ff0000"/>
<rect x="261.00" y="315.2" width="1" height="66.2" fill="#ff0000"/>
<rect x="260.45" y="315.2" width="2.1" height="66.2" fill="#ff0000"/>
<rect x="264.00" y="304.0" width="1" height="15.0" fill="#ff0000"/>
<rect x="263.45" y="309.0" width="2.1" height="7.5" fill="#ff0000"/>
<rect x="266.75" y="299.0" width="1" height="47.5" fill="#ff0000"/>
<rect x="266.20" y="299.0" width="2.1" height="10.0" fill="#ff0000"/>
<rect x="268.50" y="280.5" width="1" height="15.0" fill="#ff0000"/>
<rect x="267.95" y="280.5" width="2.1" height="15.0" fill="#ff0000"/>
<rect x="269.75" y="294.0" width="1" height="10.0" fill="#ff0000"/>
<rect x="269.20" y="294.0" width="2.1" height="10.0" fill="#ff0000"/>
<rect x="271.75" y="284.2" width="1" height="11.2" fill="#0000ff"/>
<rect x="271.20" y="284.2" width="2.1" height="11.2" fill="#0000ff"/>
<rect x="272.50" y="292.8" width="1" height="6.2" fill="#ff0000"/>
<rect x="271.95" y="292.8" width="2.1" height="6.2" fill="#ff0000"/>
<rect x="275.00" y="291.5" width="1" height="27.5" fill="#ff0000"/>
<rect x="274.45" y="291.5" width="2.1" height="5.0" fill="#ff0000"/>
<rect x="277.50" y="245.0" width="1" height="49.0" fill="#ff0000"/>
<rect x="276.95" y="251.8" width="2.1" height="42.2" fill="#ff0000"/>
<rect x="278.00" y="289.0" width="1" height="20.0" fill="#ff0000"/>
<rect x="277.45" y="289.0" width="2.1" height="5.0" fill="#ff0000"/>
<rect x="279.75" y="235.5" width="1" height="60.0" fill="#0000ff"/>
<rect x="279.20" y="250.5" width="2.1" height="45.0" fill="#0000ff"/>
<rect x="283.00" y="291.5" width="1" height="5.0" fill="#0000ff"/>
<rect x="282.45" y="291.5" width="2.1" height="5.0" fill="#0000ff"/>
<rect x="283.00" y="271.8" width="1" height="23.8" fill="#0000ff"/>
<rect x="282.45" y="271.8" width="2.1" height="23.8" fill="#0000ff"/>
<rect x="286.00" y="291.5" width="1" height="12.5" fill="#0000ff"/>
<rect x="285.45" y="291.5" width="2.1" height="7.5" fill="#0000ff"/>
<rect x="286.00" y="278.0" width="1" height="16.0" fill="#ff0000"/>
<rect x="285.45" y="291.0" width="2.1" height="3.0" fill="#ff0000"/>
<rect x="288.75" y="296.5" width="1" height="12.5" fill="#0000ff"/>
<rect x="288.20" y="296.5" width="2.1" height="5.0" fill="#0000ff"/>
<rect x="288.75" y="291.8" width="1" height="3.8" fill="#0000ff"/>
<rect x="288.20" y="291.8" width="2.1" height="3.8" fill="#0000ff"/>
<rect x="291.75" y="297.8" width="1" height="16.2" fill="#0000ff"/>
<rect x="291.20" y="297.8" width="2.1" height="6.2" fill="#0000ff"/>
<rect x="294.75" y="301.5" width="1" height="10.0" fill="#0000ff"/>
<rect x="294.20" y="301.5" width="2.1" height="5.0" fill="#0000ff"/>
<rect x="297.50" y="304.0" width="1" height="5.0" fill="#0000ff"/>
<rect x="296.95" y="304.0" width="2.1" height="2.5" fill="#0000ff"/>
<rect x="300.00" y="305.2" width="1" height="13.8" fill="#0000ff"/>
<rect x="299.45" y="305.2" width="2.1" height="3.8" fill="#0000ff"/>
<rect x="303.00" y="299.0" width="1" height="7.5" fill="#ff0000"/>
<rect x="302.45" y="299.0" width="2.1" height="7.5" fill="#ff0000"/>
<rect x="304.25" y="280.5" width="1" height="15.0" fill="#ff0000"/>
<rect x="303.70" y="287.5" width="2.1" height="8.0" fill="#ff0000"/>
<rect x="305.50" y="294.0" width="1" height="6.2" fill="#ff0000"/>
<rect x="304.95" y="294.0" width="2.1" height="6.2" fill="#ff0000"/>
<rect x="307.25" y="271.8" width="1" height="23.8" fill="#0000ff"/>
<rect x="306.70" y="287.5" width="2.1" height="8.0" fill="#0000ff"/>
<rect x="308.50" y="291.5" width="1" height="7.5" fill="#ff0000"/>
<rect x="307.95" y="291.5" width="2.1" height="7.5" fill="#ff0000"/>
<rect x="310.00" y="278.0" width="1" height="13.8" fill="#ff0000"/>
<rect x="309.45" y="283.0" width="2.1" height="8.8" fill="#ff0000"/>
<rect x="313.00" y="276.8" width="1" height="11.2" fill="#ff0000"/>
<rect x="312.45" y="284.2" width="2.1" height="3.8" fill="#ff0000"/>
<rect x="315.50" y="280.5" width="1" height="10.0" fill="#0000ff"/>
<rect x="314.95" y="284.2" width="2.1" height="6.2" fill="#0000ff"/>
<rect x="318.50" y="281.8" width="1" height="10.0" fill="#0000ff"/>
<rect x="317.95" y="285.5" width="2.1" height="6.2" fill="#0000ff"/>
<rect x="320.50" y="291.5" width="1" height="7.5" fill="#0000ff"/>
<rect x="319.95" y="291.5" width="2.1" height="7.5" fill="#0000ff"/>
<rect x="321.00" y="280.5" width="1" height="13.5" fill="#0000ff"/>
<rect x="320.45" y="285.5" width="2.1" height="8.5" fill="#0000ff"/>
<rect x="323.50" y="295.2" width="1" height="6.2" fill="#ff0000"/>
<rect x="322.95" y="295.2" width="2.1" height="2.5" fill="#ff0000"/>
<rect x="323.75" y="288.0" width="1" height="7.5" fill="#ff0000"/>
<rect x="323.20" y="288.0" width="2.1" height="7.5" fill="#ff0000"/>
<rect x="326.50" y="292.8" width="1" height="16.2" fill="#ff0000"/>
<rect x="325.95" y="292.8" width="2.1" height="6.2" fill="#ff0000"/>
<rect x="326.75" y="259.2" width="1" height="34.8" fill="#ff0000"/>
<rect x="326.20" y="265.5" width="2.1" height="28.5" fill="#ff0000"/>
<rect x="329.50" y="294.0" width="1" height="2.5" fill="#ff0000"/>
<rect x="328.95" y="294.0" width="2.1" height="2.5" fill="#ff0000"/>
<rect x="329.50" y="264.2" width="1" height="31.2" fill="#0000ff"/>
<rect x="328.95" y="273.0" width="2.1" height="22.5" fill="#0000ff"/>
<rect x="332.50" y="292.8" width="1" height="3.8" fill="#ff0000"/>
<rect x="331.95" y="292.8" width="2.1" height="3.8" fill="#ff0000"/>
<rect x="332.50" y="275.5" width="1" height="20.0" fill="#ff0000"/>
<rect x="331.95" y="285.5" width="2.1" height="10.0" fill="#ff0000"/>
<rect x="335.00" y="285.5" width="1" height="6.2" fill="#0000ff"/>
<rect x="334.45" y="285.5" width="2.1" height="6.2" fill="#0000ff"/>
<rect x="335.50" y="291.5" width="1" height="4.5" fill="#ff0000"/>
<rect x="334.95" y="291.5" width="2.1" height="4.5" fill="#ff0000"/>
<rect x="338.00" y="276.8" width="1" height="18.8" fill="#ff0000"/>
<rect x="337.45" y="285.5" width="2.1" height="10.0" fill="#ff0000"/>
<rect x="338.50" y="290.2" width="1" height="7.5" fill="#ff0000"/>
<rect x="337.95" y="290.2" width="2.1" height="3.8" fill="#ff0000"/>
<rect x="340.50" y="294.0" width="1" height="55.0" fill="#0000ff"/>
<rect x="339.95" y="294.0" width="2.1" height="47.5" fill="#0000ff"/>
<rect x="340.50" y="260.5" width="1" height="35.0" fill="#0000ff"/>
<rect x="339.95" y="286.8" width="2.1" height="8.8" fill="#0000ff"/>
<rect x="343.00" y="329.0" width="1" height="41.2" fill="#0000ff"/>
<rect x="342.45" y="329.0" width="2.1" height="25.0" fill="#0000ff"/>
<rect x="346.00" y="331.5" width="1" height="32.5" fill="#0000ff"/>
<rect x="345.45" y="351.5" width="2.1" height="8.8" fill="#0000ff"/>
<rect x="349.00" y="336.5" width="1" height="27.5" fill="#0000ff"/>
<rect x="348.45" y="351.5" width="2.1" height="8.8" fill="#0000ff"/>
<rect x="351.75" y="349.0" width="1" height="16.2" fill="#ff0000"/>
<rect x="351.20" y="349.0" width="2.1" height="10.0" fill="#ff0000"/>
<rect x="354.75" y="320.2" width="1" height="33.8" fill="#ff0000"/>
<rect x="354.20" y="331.5" width="2.1" height="22.5" fill="#ff0000"/>
<rect x="357.25" y="320.2" width="1" height="56.2" fill="#0000ff"/>
<rect x="356.70" y="331.5" width="2.1" height="32.5" fill="#0000ff"/>
<rect x="359.75" y="357.8" width="1" height="7.5" fill="#ff0000"/>
<rect x="359.20" y="357.8" width="2.1" height="7.5" fill="#ff0000"/>
<rect x="363.00" y="341.5" width="1" height="35.0" fill="#ff0000"/>
<rect x="362.45" y="341.5" width="2.1" height="17.5" fill="#ff0000"/>
<rect x="365.50" y="342.8" width="1" height="7.5" fill="#0000ff"/>
<rect x="364.95" y="342.8" width="2.1" height="7.5" fill="#0000ff"/>
<rect x="368.00" y="349.0" width="1" height="31.2" fill="#0000ff"/>
<rect x="367.45" y="349.0" width="2.1" height="20.0" fill="#0000ff"/>
<rect x="370.50" y="359.0" width="1" height="23.8" fill="#0000ff"/>
<rect x="369.95" y="359.0" width="2.1" height="10.0" fill="#0000ff"/>
<rect x="373.00" y="346.5" width="1" height="22.5" fill="#ff0000"/>
<rect x="372.45" y="346.5" width="2.1" height="22.5" fill="#ff0000"/>
<rect x="376.25" y="329.0" width="1" height="18.8" fill="#ff0000"/>
<rect x="375.70" y="345.2" width="2.1" height="2.5" fill="#ff0000"/>
<rect x="379.25" y="337.8" width="1" height="118.8" fill="#0000ff"/>
<rect x="378.70" y="346.5" width="2.1" height="78.8" fill="#0000ff"/>
<rect x="381.75" y="389.0" width="1" height="47.5" fill="#ff0000"/>
<rect x="381.20" y="401.5" width="2.1" height="25.0" fill="#ff0000"/>
<rect x="384.75" y="380.2" width="1" height="41.2" fill="#0000ff"/>
<rect x="384.20" y="401.5" width="2.1" height="7.5" fill="#0000ff"/>
<rect x="387.25" y="362.8" width="1" height="46.2" fill="#ff0000"/>
<rect x="386.70" y="392.8" width="2.1" height="16.2" fill="#ff0000"/>
<rect x="390.50" y="384.0" width="1" height="45.0" fill="#ff0000"/>
<rect x="389.95" y="392.8" width="2.1" height="15.0" fill="#ff0000"/>
<rect x="393.50" y="377.8" width="1" height="71.2" fill="#0000ff"/>
<rect x="392.95" y="392.8" width="2.1" height="56.2" fill="#0000ff"/>
<rect x="395.99" y="440.0" width="1" height="46.6" fill="#ff0000"/>
<rect x="395.44" y="469.1" width="2.1" height="17.5" fill="#ff0000"/>
<rect x="398.61" y="438.1" width="1" height="26.2" fill="#0000ff"/>
<rect x="398.06" y="447.8" width="2.1" height="15.5" fill="#0000ff"/>
<rect x="400.84" y="448.7" width="1" height="24.3" fill="#ff0000"/>
<rect x="400.29" y="456.5" width="2.1" height="5.8" fill="#ff0000"/>
<rect x="404.24" y="442.9" width="1" height="34.0" fill="#0000ff"/>
<rect x="403.69" y="457.0" width="2.1" height="16.0" fill="#0000ff"/>
<rect x="406.18" y="441.9" width="1" height="73.8" fill="#0000ff"/>
<rect x="405.63" y="473.0" width="2.1" height="31.6" fill="#0000ff"/>
<rect x="409.38" y="440.0" width="1" height="68.9" fill="#ff0000"/>
<rect x="408.83" y="489.0" width="2.1" height="17.0" fill="#ff0000"/>
<rect x="412.78" y="459.9" width="1" height="49.0" fill="#ff0000"/>
<rect x="412.23" y="483.2" width="2.1" height="6.3" fill="#ff0000"/>
<rect x="414.92" y="460.9" width="1" height="30.6" fill="#ff0000"/>
<rect x="414.37" y="462.3" width="2.1" height="23.3" fill="#ff0000"/>
<rect x="417.83" y="455.5" width="1" height="16.5" fill="#ff0000"/>
<rect x="417.28" y="458.9" width="2.1" height="4.4" fill="#ff0000"/>
<rect x="419.97" y="449.7" width="1" height="25.2" fill="#0000ff"/>
<rect x="419.42" y="458.9" width="2.1" height="12.1" fill="#0000ff"/>
<rect x="423.17" y="456.0" width="1" height="51.9" fill="#0000ff"/>
<rect x="422.62" y="470.6" width="2.1" height="36.4" fill="#0000ff"/>
<rect x="426.37" y="477.9" width="1" height="30.1" fill="#ff0000"/>
<rect x="425.82" y="497.3" width="2.1" height="10.7" fill="#ff0000"/>
<rect x="428.70" y="482.7" width="1" height="15.5" fill="#ff0000"/>
<rect x="428.15" y="492.4" width="2.1" height="4.9" fill="#ff0000"/>
<rect x="431.62" y="480.8" width="1" height="22.3" fill="#ff0000"/>
<rect x="431.07" y="487.6" width="2.1" height="5.3" fill="#ff0000"/>
<rect x="433.85" y="487.1" width="1" height="39.3" fill="#0000ff"/>
<rect x="433.30" y="487.1" width="2.1" height="23.8" fill="#0000ff"/>
<rect x="437.05" y="487.6" width="1" height="43.7" fill="#ff0000"/>
<rect x="436.50" y="495.8" width="2.1" height="15.0" fill="#ff0000"/>
<rect x="438.50" y="396.5" width="1" height="105.0" fill="#ff0000"/>
<rect x="437.95" y="436.5" width="2.1" height="65.0" fill="#ff0000"/>
<rect x="441.50" y="410.2" width="1" height="31.2" fill="#ff0000"/>
<rect x="440.95" y="419.0" width="2.1" height="15.0" fill="#ff0000"/>
<rect x="444.50" y="419.0" width="1" height="21.2" fill="#0000ff"/>
<rect x="443.95" y="419.0" width="2.1" height="18.8" fill="#0000ff"/>
<rect x="447.25" y="416.5" width="1" height="21.2" fill="#ff0000"/>
<rect x="446.70" y="422.8" width="2.1" height="15.0" fill="#ff0000"/>
<rect x="450.25" y="415.2" width="1" height="15.0" fill="#0000ff"/>
<rect x="449.70" y="415.2" width="2.1" height="8.8" fill="#0000ff"/>
<rect x="452.75" y="415.2" width="1" height="11.2" fill="#0000ff"/>
<rect x="452.20" y="415.2" width="2.1" height="11.2" fill="#0000ff"/>
<rect x="455.75" y="420.2" width="1" height="37.5" fill="#0000ff"/>
<rect x="455.20" y="426.5" width="2.1" height="15.0" fill="#0000ff"/>
<rect x="458.50" y="391.5" width="1" height="52.5" fill="#ff0000"/>
<rect x="457.95" y="420.2" width="2.1" height="21.2" fill="#ff0000"/>
<rect x="461.00" y="416.5" width="1" height="25.0" fill="#0000ff"/>
<rect x="460.45" y="420.2" width="2.1" height="11.2" fill="#0000ff"/>
<rect x="464.00" y="421.5" width="1" height="15.0" fill="#ff0000"/>
<rect x="463.45" y="421.5" width="2.1" height="10.0" fill="#ff0000"/>
<rect x="466.50" y="407.8" width="1" height="18.8" fill="#0000ff"/>
<rect x="465.95" y="422.8" width="2.1" height="2.5" fill="#0000ff"/>
<rect x="469.50" y="425.2" width="1" height="18.8" fill="#0000ff"/>
<rect x="468.95" y="429.0" width="2.1" height="10.0" fill="#0000ff"/>
<rect x="472.25" y="432.8" width="1" height="36.2" fill="#0000ff"/>
<rect x="471.70" y="437.8" width="2.1" height="15.0" fill="#0000ff"/>
<rect x="475.25" y="451.5" width="1" height="30.0" fill="#0000ff"/>
<rect x="474.70" y="451.5" width="2.1" height="13.8" fill="#0000ff"/>
<rect x="477.75" y="426.5" width="1" height="46.2" fill="#ff0000"/>
<rect x="477.20" y="430.2" width="2.1" height="35.0" fill="#ff0000"/>
<rect x="480.75" y="430.2" width="1" height="20.0" fill="#0000ff"/>
<rect x="480.20" y="430.2" width="2.1" height="20.0" fill="#0000ff"/>
<rect x="483.50" y="451.5" width="1" height="11.2" fill="#0000ff"/>
<rect x="482.95" y="451.5" width="2.1" height="11.2" fill="#0000ff"/>
<rect x="486.00" y="452.8" width="1" height="20.0" fill="#0000ff"/>
<rect x="485.45" y="452.8" width="2.1" height="13.8" fill="#0000ff"/>
<rect x="489.00" y="449.0" width="1" height="21.2" fill="#ff0000"/>
<rect x="488.45" y="451.5" width="2.1" height="15.0" fill="#ff0000"/>
<rect x="491.50" y="449.0" width="1" height="7.5" fill="#ff0000"/>
<rect x="490.95" y="449.0" width="2.1" height="7.5" fill="#ff0000"/>
<rect x="494.00" y="440.2" width="1" height="38.8" fill="#0000ff"/>
<rect x="493.45" y="449.0" width="2.1" height="22.5" fill="#0000ff"/>
<rect x="497.25" y="470.2" width="1" height="29.8" fill="#0000ff"/>
<rect x="496.70" y="470.2" width="2.1" height="8.8" fill="#0000ff"/>
<rect x="499.00" y="497.5" width="1" height="11.2" fill="#ff0000"/>
<rect x="498.45" y="497.5" width="2.1" height="3.8" fill="#ff0000"/>
<rect x="499.75" y="474.0" width="1" height="10.0" fill="#0000ff"/>
<rect x="499.20" y="474.0" width="2.1" height="10.0" fill="#0000ff"/>
<rect x="502.75" y="441.5" width="1" height="58.5" fill="#ff0000"/>
<rect x="502.20" y="452.8" width="2.1" height="30.0" fill="#ff0000"/>
<rect x="502.75" y="497.5" width="1" height="6.2" fill="#ff0000"/>
<rect x="502.20" y="497.5" width="2.1" height="6.2" fill="#ff0000"/>
<rect x="505.75" y="437.8" width="1" height="31.2" fill="#0000ff"/>
<rect x="505.20" y="452.8" width="2.1" height="13.8" fill="#0000ff"/>
<rect x="508.50" y="466.5" width="1" height="18.8" fill="#0000ff"/>
<rect x="507.95" y="466.5" width="2.1" height="15.0" fill="#0000ff"/>
<rect x="511.00" y="479.0" width="1" height="21.0" fill="#0000ff"/>
<rect x="510.45" y="479.0" width="2.1" height="10.0" fill="#0000ff"/>
<rect x="511.50" y="497.5" width="1" height="6.2" fill="#0000ff"/>
<rect x="510.95" y="497.5" width="2.1" height="3.8" fill="#0000ff"/>
<rect x="513.50" y="477.8" width="1" height="10.0" fill="#ff0000"/>
<rect x="512.95" y="477.8" width="2.1" height="10.0" fill="#ff0000"/>
<rect x="516.50" y="465.2" width="1" height="26.2" fill="#0000ff"/>
<rect x="515.95" y="477.8" width="2.1" height="3.8" fill="#0000ff"/>
<rect x="519.00" y="482.8" width="1" height="8.8" fill="#0000ff"/>
<rect x="518.45" y="482.8" width="2.1" height="8.8" fill="#0000ff"/>
<rect x="522.00" y="469.0" width="1" height="27.5" fill="#0000ff"/>
<rect x="521.45" y="484.0" width="2.1" height="10.0" fill="#0000ff"/>
<rect x="524.50" y="490.2" width="1" height="3.8" fill="#0000ff"/>
<rect x="523.95" y="490.2" width="2.1" height="3.8" fill="#0000ff"/>
<rect x="524.50" y="495.0" width="1" height="31.2" fill="#ff0000"/>
<rect x="523.95" y="495.0" width="2.1" height="20.0" fill="#ff0000"/>
<rect x="527.00" y="490.2" width="1" height="11.2" fill="#0000ff"/>
<rect x="526.45" y="490.2" width="2.1" height="11.2" fill="#0000ff"/>
<rect x="527.00" y="496.2" width="1" height="22.5" fill="#0000ff"/>
<rect x="526.45" y="496.2" width="2.1" height="15.0" fill="#0000ff"/>
<rect x="529.75" y="505.0" width="1" height="22.5" fill="#ff0000"/>
<rect x="529.20" y="508.8" width="2.1" height="3.8" fill="#ff0000"/>
<rect x="530.25" y="494.0" width="1" height="7.5" fill="#0000ff"/>
<rect x="529.70" y="494.0" width="2.1" height="7.5" fill="#0000ff"/>
<rect x="532.75" y="507.5" width="1" height="6.2" fill="#ff0000"/>
<rect x="532.20" y="507.5" width="2.1" height="6.2" fill="#ff0000"/>
<rect x="533.25" y="496.5" width="1" height="5.0" fill="#ff0000"/>
<rect x="532.70" y="496.5" width="2.1" height="5.0" fill="#ff0000"/>
<rect x="535.75" y="497.5" width="1" height="18.8" fill="#0000ff"/>
<rect x="535.20" y="497.5" width="2.1" height="10.0" fill="#0000ff"/>
<rect x="536.50" y="486.5" width="1" height="15.0" fill="#0000ff"/>
<rect x="535.95" y="497.8" width="2.1" height="3.8" fill="#0000ff"/>
<rect x="538.25" y="508.8" width="1" height="2.5" fill="#ff0000"/>
<rect x="537.70" y="508.8" width="2.1" height="2.5" fill="#ff0000"/>
<rect x="541.00" y="508.8" width="1" height="12.5" fill="#0000ff"/>
<rect x="540.45" y="508.8" width="2.1" height="3.8" fill="#0000ff"/>
<rect x="543.50" y="507.5" width="1" height="13.8" fill="#0000ff"/>
<rect x="542.95" y="507.5" width="2.1" height="10.0" fill="#0000ff"/>
<rect x="546.50" y="515.0" width="1" height="13.8" fill="#0000ff"/>
<rect x="545.95" y="515.0" width="2.1" height="13.8" fill="#0000ff"/>
<rect x="549.50" y="518.8" width="1" height="11.2" fill="#0000ff"/>
<rect x="548.95" y="523.8" width="2.1" height="6.2" fill="#0000ff"/>
<rect x="552.00" y="523.8" width="1" height="16.2" fill="#0000ff"/>
<rect x="551.45" y="523.8" width="2.1" height="12.5" fill="#0000ff"/>
<rect x="554.75" y="528.8" width="1" height="12.5" fill="#ff0000"/>
<rect x="554.20" y="528.8" width="2.1" height="7.5" fill="#ff0000"/>
<rect x="557.75" y="527.5" width="1" height="13.8" fill="#0000ff"/>
<rect x="557.20" y="527.5" width="2.1" height="10.0" fill="#0000ff"/>
<rect x="560.25" y="515.0" width="1" height="33.8" fill="#0000ff"/>
<rect x="559.70" y="515.0" width="2.1" height="32.5" fill="#0000ff"/>
<rect x="563.25" y="542.5" width="1" height="21.2" fill="#0000ff"/>
<rect x="562.70" y="542.5" width="2.1" height="20.0" fill="#0000ff"/>
<rect x="566.00" y="557.5" width="1" height="52.5" fill="#0000ff"/>
<rect x="565.45" y="557.5" width="2.1" height="22.5" fill="#0000ff"/>
<rect x="568.50" y="528.8" width="1" height="75.0" fill="#ff0000"/>
<rect x="567.95" y="548.8" width="2.1" height="30.0" fill="#ff0000"/>
<rect x="571.50" y="528.8" width="1" height="21.2" fill="#ff0000"/>
<rect x="570.95" y="547.5" width="2.1" height="2.5" fill="#ff0000"/>
<rect x="574.00" y="546.2" width="1" height="27.5" fill="#0000ff"/>
<rect x="573.45" y="548.8" width="2.1" height="15.0" fill="#0000ff"/>
<rect x="577.00" y="561.2" width="1" height="28.8" fill="#0000ff"/>
<rect x="576.45" y="561.2" width="2.1" height="17.5" fill="#0000ff"/>
<rect x="579.50" y="552.5" width="1" height="26.2" fill="#ff0000"/>
<rect x="578.95" y="552.5" width="2.1" height="26.2" fill="#ff0000"/>
<rect x="582.25" y="543.8" width="1" height="21.2" fill="#ff0000"/>
<rect x="581.70" y="546.2" width="2.1" height="18.8" fill="#ff0000"/>
<rect x="585.25" y="531.2" width="1" height="33.8" fill="#ff0000"/>
<rect x="584.70" y="543.8" width="2.1" height="16.2" fill="#ff0000"/>
<rect x="587.75" y="543.8" width="1" height="32.5" fill="#ff0000"/>
<rect x="587.20" y="543.8" width="2.1" height="15.0" fill="#ff0000"/>
<rect x="590.75" y="497.5" width="1" height="52.5" fill="#ff0000"/>
<rect x="590.20" y="505.0" width="2.1" height="41.2" fill="#ff0000"/>
<rect x="593.50" y="505.0" width="1" height="33.8" fill="#0000ff"/>
<rect x="592.95" y="505.0" width="2.1" height="33.8" fill="#0000ff"/>
<rect x="596.00" y="457.5" width="1" height="76.2" fill="#ff0000"/>
<rect x="595.45" y="457.5" width="2.1" height="76.2" fill="#ff0000"/>
<rect x="596.50" y="491.5" width="1" height="10.0" fill="#ff0000"/>
<rect x="595.95" y="491.5" width="2.1" height="10.0" fill="#ff0000"/>
<rect x="599.00" y="445.2" width="1" height="56.2" fill="#ff0000"/>
<rect x="598.45" y="450.2" width="2.1" height="51.2" fill="#ff0000"/>
<rect x="601.50" y="440.2" width="1" height="26.2" fill="#ff0000"/>
<rect x="600.95" y="450.2" width="2.1" height="3.8" fill="#ff0000"/>
<rect x="604.50" y="430.2" width="1" height="36.2" fill="#ff0000"/>
<rect x="603.95" y="430.2" width="2.1" height="20.0" fill="#ff0000"/>
<rect x="607.00" y="409.0" width="1" height="25.0" fill="#ff0000"/>
<rect x="606.45" y="409.0" width="2.1" height="25.0" fill="#ff0000"/>
<rect x="609.75" y="409.0" width="1" height="50.0" fill="#0000ff"/>
<rect x="609.20" y="409.0" width="2.1" height="50.0" fill="#0000ff"/>
<rect x="612.75" y="450.2" width="1" height="43.8" fill="#0000ff"/>
<rect x="612.20" y="450.2" width="2.1" height="41.2" fill="#0000ff"/>
<rect x="615.25" y="489.0" width="1" height="5.0" fill="#0000ff"/>
<rect x="614.70" y="489.0" width="2.1" height="5.0" fill="#0000ff"/>
<rect x="617.50" y="489.0" width="1" height="12.5" fill="#0000ff"/>
<rect x="616.95" y="489.0" width="2.1" height="12.5" fill="#0000ff"/>
<rect x="620.50" y="444.0" width="1" height="57.5" fill="#ff0000"/>
<rect x="619.95" y="444.0" width="2.1" height="57.5" fill="#ff0000"/>
<rect x="623.00" y="442.8" width="1" height="26.2" fill="#ff0000"/>
<rect x="622.45" y="454.0" width="2.1" height="15.0" fill="#ff0000"/>
<rect x="625.75" y="452.8" width="1" height="16.2" fill="#ff0000"/>
<rect x="625.20" y="452.8" width="2.1" height="16.2" fill="#ff0000"/>
<rect x="628.75" y="452.8" width="1" height="13.8" fill="#0000ff"/>
<rect x="628.20" y="452.8" width="2.1" height="10.0" fill="#0000ff"/>
<rect x="631.75" y="442.8" width="1" height="20.0" fill="#ff0000"/>
<rect x="631.20" y="445.2" width="2.1" height="17.5" fill="#ff0000"/>
<rect x="634.25" y="437.8" width="1" height="33.8" fill="#0000ff"/>
<rect x="633.70" y="444.0" width="2.1" height="20.0" fill="#0000ff"/>
<rect x="637.00" y="461.5" width="1" height="15.0" fill="#ff0000"/>
<rect x="636.45" y="461.5" width="2.1" height="7.5" fill="#ff0000"/>
<rect x="639.50" y="445.2" width="1" height="23.8" fill="#ff0000"/>
<rect x="638.95" y="451.5" width="2.1" height="17.5" fill="#ff0000"/>
<rect x="642.50" y="451.5" width="1" height="17.5" fill="#0000ff"/>
<rect x="641.95" y="451.5" width="2.1" height="16.2" fill="#0000ff"/>
<rect x="645.00" y="460.2" width="1" height="11.2" fill="#ff0000"/>
<rect x="644.45" y="460.2" width="2.1" height="8.8" fill="#ff0000"/>
<rect x="647.50" y="459.0" width="1" height="7.5" fill="#ff0000"/>
<rect x="646.95" y="459.0" width="2.1" height="7.5" fill="#ff0000"/>
<rect x="650.50" y="455.2" width="1" height="5.0" fill="#ff0000"/>
<rect x="649.95" y="455.2" width="2.1" height="5.0" fill="#ff0000"/>
<rect x="653.25" y="447.8" width="1" height="28.8" fill="#ff0000"/>
<rect x="652.70" y="452.8" width="2.1" height="6.2" fill="#ff0000"/>
<rect x="656.25" y="432.8" width="1" height="43.8" fill="#ff0000"/>
<rect x="655.70" y="435.2" width="2.1" height="18.8" fill="#ff0000"/>
<rect x="659.25" y="427.8" width="1" height="27.5" fill="#0000ff"/>
<rect x="658.70" y="435.2" width="2.1" height="20.0" fill="#0000ff"/>
<rect x="662.00" y="450.2" width="1" height="18.8" fill="#0000ff"/>
<rect x="661.45" y="450.2" width="2.1" height="6.2" fill="#0000ff"/>
<rect x="664.50" y="441.5" width="1" height="15.0" fill="#ff0000"/>
<rect x="663.95" y="446.5" width="2.1" height="10.0" fill="#ff0000"/>
<rect x="667.00" y="446.5" width="1" height="2.5" fill="#ff0000"/>
<rect x="666.45" y="446.5" width="2.1" height="2.5" fill="#ff0000"/>
<rect x="670.50" y="437.8" width="1" height="46.2" fill="#0000ff"/>
<rect x="669.95" y="437.8" width="2.1" height="32.5" fill="#0000ff"/>
<rect x="673.00" y="419.0" width="1" height="55.0" fill="#ff0000"/>
<rect x="672.45" y="437.8" width="2.1" height="31.2" fill="#ff0000"/>
<rect x="675.75" y="432.8" width="1" height="33.8" fill="#0000ff"/>
<rect x="675.20" y="434.0" width="2.1" height="32.5" fill="#0000ff"/>
<rect x="678.75" y="437.8" width="1" height="30.0" fill="#ff0000"/>
<rect x="678.20" y="437.8" width="2.1" height="26.2" fill="#ff0000"/>
<rect x="681.25" y="439.0" width="1" height="15.0" fill="#0000ff"/>
<rect x="680.70" y="439.0" width="2.1" height="15.0" fill="#0000ff"/>
<rect x="684.25" y="450.2" width="1" height="43.8" fill="#0000ff"/>
<rect x="683.70" y="450.2" width="2.1" height="36.2" fill="#0000ff"/>
<rect x="686.75" y="469.0" width="1" height="17.5" fill="#ff0000"/>
<rect x="686.20" y="469.0" width="2.1" height="17.5" fill="#ff0000"/>
<rect x="689.50" y="464.0" width="1" height="20.0" fill="#ff0000"/>
<rect x="688.95" y="466.5" width="2.1" height="17.5" fill="#ff0000"/>
<rect x="692.50" y="464.0" width="1" height="25.0" fill="#0000ff"/>
<rect x="691.95" y="465.2" width="2.1" height="21.2" fill="#0000ff"/>
<rect x="695.00" y="469.0" width="1" height="17.5" fill="#ff0000"/>
<rect x="694.45" y="481.5" width="2.1" height="5.0" fill="#ff0000"/>
<rect x="698.00" y="476.5" width="1" height="25.0" fill="#0000ff"/>
<rect x="697.45" y="476.5" width="2.1" height="21.2" fill="#0000ff"/>
<rect x="700.75" y="491.5" width="1" height="10.0" fill="#0000ff"/>
<rect x="700.20" y="491.5" width="2.1" height="10.0" fill="#0000ff"/>
<rect x="703.75" y="474.0" width="1" height="45.0" fill="#ff0000"/>
<rect x="703.20" y="474.0" width="2.1" height="27.5" fill="#ff0000"/>
<path d="M2.5 275.5 L4.4 278.0 L8.1 283.0 L11.2 287.6 L13.8 291.9 L16.2 296.5 L18.8 301.5 L23.1 306.5 L29.4 311.5 L33.8 312.1 L36.2 308.4 L38.4 304.6 L40.3 300.9 L40.9 299.1 L40.3 299.2 L42.4 297.7 L47.1 294.5 L51.1 289.0 L54.3 281.0 L57.0 276.3 L59.4 274.7 L61.4 273.5 L63.0 272.7 L64.4 268.8 L65.6 261.6 L67.0 251.7 L68.5 239.0 L70.3 227.9 L72.3 218.4 L73.9 206.5 L75.1 192.3 L76.1 177.2 L76.9 161.3 L77.7 148.3 L78.4 138.0 L79.5 129.2 L80.9 122.1 L82.7 117.3 L84.9 115.0 L86.4 111.4 L87.2 106.6 L88.8 103.5 L91.1 101.9 L93.1 98.7 L94.7 94.0 L96.1 87.4 L97.4 79.1 L99.5 71.8 L102.5 65.2 L105.5 62.0 L108.5 62.0 L111.0 65.2 L113.0 71.8 L114.9 79.1 L116.8 87.4 L118.5 94.0 L120.1 98.7 L122.4 103.5 L125.6 108.2 L128.4 113.4 L130.8 118.9 L133.1 124.5 L135.5 130.0 L137.5 133.6 L139.1 135.2 L140.7 137.2 L142.3 139.5 L144.6 140.9 L147.8 141.3 L150.4 140.9 L152.4 139.7 L153.7 134.8 L154.5 126.1 L155.3 114.2 L156.1 99.1 L156.9 78.7 L157.6 52.9 L162.2 35.0 L170.8 25.0 L178.2 27.5 L184.8 42.5 L188.8 60.1 L190.2 80.4 L192.6 97.4 L195.9 111.1 L198.9 129.8 L201.6 153.2 L203.8 170.0 L205.2 180.0 L206.6 193.2 L207.9 209.8 L209.2 227.1 L210.8 245.2 L212.3 249.6 L213.9 240.2 L215.7 231.4 L217.6 223.3 L219.4 218.8 L221.3 217.9 L223.2 215.1 L225.1 210.4 L228.5 206.0 L233.5 202.0 L237.6 200.8 L240.7 202.2 L244.1 203.1 L247.9 203.4 L250.4 205.2 L251.6 208.8 L253.2 214.9 L255.1 223.6 L257.2 231.8 L259.8 239.2 L262.2 241.1 L264.8 237.4 L267.6 233.5 L270.7 229.5 L272.7 228.6 L273.6 230.7 L274.8 228.3 L276.4 221.4 L277.9 215.8 L279.1 211.4 L280.4 209.4 L281.6 209.8 L283.8 208.6 L286.9 205.7 L289.9 203.1 L292.6 200.7 L295.8 200.4 L299.2 202.1 L302.1 202.8 L304.4 202.4 L306.2 203.4 L307.8 205.6 L309.4 210.8 L311.3 218.9 L312.9 226.8 L314.1 234.2 L315.4 241.8 L316.6 249.2 L318.8 253.2 L321.9 253.8 L324.8 253.4 L327.2 252.3 L329.1 252.1 L330.4 252.7 L331.8 254.9 L333.2 258.6 L334.9 262.4 L336.8 266.1 L338.6 264.2 L340.2 256.8 L341.9 248.6 L343.8 239.9 L346.0 232.7 L348.5 227.1 L351.0 223.6 L353.5 222.4 L356.0 220.3 L358.5 217.4 L361.3 217.1 L364.4 219.4 L367.2 221.6 L369.8 223.9 L372.4 228.2 L375.3 234.8 L377.3 235.8 L378.4 231.4 L379.6 229.2 L380.9 229.2 L382.3 231.4 L383.9 235.8 L386.0 241.8 L388.5 249.2 L390.4 253.9 L391.6 255.8 L393.0 258.9 L394.5 263.3 L396.7 262.4 L399.6 256.1 L401.9 250.5 L403.8 245.5 L405.4 241.9 L406.6 239.6 L407.9 238.7 L409.1 239.1 L410.3 240.8 L411.4 243.9 L412.9 247.4 L414.8 251.1 L417.0 258.0 L419.5 268.0 L422.0 276.1 L424.5 282.4 L426.2 287.6 L427.1 291.9 L428.3 300.2 L429.9 312.8 L431.7 326.2 L433.6 340.6 L435.8 350.6 L438.2 356.2 L440.8 362.8 L443.2 370.2 L445.3 377.0 L446.9 383.0 L449.1 383.6 L451.9 378.9 L454.8 373.7 L457.9 368.1 L461.1 363.4 L464.2 359.6 L467.3 357.1 L470.4 355.9 L473.4 354.9 L476.1 354.3 L478.9 355.9 L481.8 359.6 L484.5 363.7 L487.0 368.1 L489.1 373.1 L490.7 378.7 L492.2 383.7 L493.8 388.1 L495.8 389.3 L498.2 387.4 L500.8 387.4 L503.2 389.3 L505.8 391.2 L508.2 393.1 L510.8 394.0 L513.2 394.0 L515.8 396.2 L518.2 400.6 L521.1 405.6 L524.2 411.2 L526.7 414.0 L528.6 414.0 L530.4 413.1 L532.3 411.2 L534.2 411.8 L536.1 414.9 L538.2 418.4 L540.8 422.1 L543.6 425.6 L546.7 428.7 L549.2 430.9 L551.1 432.1 L553.2 432.4 L555.8 431.8 L558.2 433.7 L560.8 438.1 L562.9 439.3 L564.8 437.4 L566.7 437.8 L568.6 440.2 L570.8 444.0 L573.2 449.0 L575.8 453.1 L578.2 456.2 L580.8 460.6 L583.2 466.2 L585.8 470.2 L588.2 472.8 L590.6 474.6 L592.9 475.9 L594.8 474.0 L596.2 469.0 L597.6 462.1 L598.9 453.4 L600.1 443.4 L601.4 432.1 L602.6 420.2 L603.9 407.8 L605.0 396.5 L606.0 386.5 L607.2 379.0 L608.8 374.0 L610.4 370.2 L612.3 367.8 L614.4 365.6 L616.8 363.7 L619.2 360.6 L621.8 356.2 L624.2 352.8 L626.8 350.2 L629.1 348.7 L631.2 348.1 L633.4 350.2 L635.6 355.2 L638.0 360.2 L640.5 365.2 L642.7 372.4 L644.6 381.8 L646.4 387.8 L648.3 390.2 L650.2 394.3 L652.1 399.9 L653.9 403.1 L655.8 403.7 L657.4 403.7 L658.6 403.1 L660.2 403.7 L662.1 405.6 L663.6 409.0 L664.9 414.0 L666.4 417.1 L668.3 418.4 L670.2 419.3 L672.1 419.9 L673.6 421.5 L674.9 424.0 L676.4 424.9 L678.3 424.3 L680.2 422.8 L682.1 420.2 L683.9 417.8 L685.8 415.2 L687.7 414.0 L689.6 414.0 L691.4 413.4 L693.3 412.1 L695.2 410.2 L697.1 407.8 L698.6 406.0 L699.9 405.0 L701.3 404.5 L702.9 404.5 L703.8 404.5" fill="none" stroke="#3f82ee" stroke-width="1.2" stroke-linejoin="round" stroke-linecap="round" />
<path d="M2.5 405.8 L3.8 405.6 L6.2 405.4 L8.8 403.7 L11.2 400.6 L13.1 398.4 L14.4 397.1 L17.5 395.6 L22.5 393.7 L26.9 392.0 L30.6 390.5 L34.4 390.2 L38.1 391.1 L41.9 391.6 L45.6 391.9 L48.8 392.8 L51.2 394.4 L54.1 394.3 L57.2 392.4 L59.8 390.7 L61.9 389.1 L63.6 390.9 L64.9 396.3 L66.3 401.5 L67.9 406.5 L70.0 410.2 L72.5 412.8 L74.4 419.0 L75.6 429.0 L77.2 440.6 L79.1 453.7 L80.9 459.3 L82.8 457.4 L84.7 455.2 L86.6 452.8 L88.4 447.8 L90.3 440.2 L92.5 434.9 L95.0 431.8 L97.5 426.8 L100.0 419.9 L102.2 412.8 L104.1 405.2 L106.2 395.2 L108.8 382.8 L111.2 370.9 L113.8 359.6 L115.9 345.2 L117.8 327.8 L119.7 314.6 L121.6 305.9 L122.9 300.9 L123.6 299.8 L124.8 296.1 L126.4 289.8 L128.4 282.2 L130.8 273.5 L133.1 267.4 L135.5 263.8 L137.5 261.6 L139.1 260.8 L140.7 258.6 L142.3 255.1 L143.8 253.9 L145.4 255.1 L147.4 255.3 L149.8 254.5 L151.8 255.5 L153.4 258.2 L154.7 262.8 L155.9 269.1 L156.7 279.1 L157.1 292.5 L157.7 323.0 L158.4 370.3 L159.1 404.0 L159.7 424.0 L161.6 444.0 L164.7 464.0 L167.8 480.5 L170.9 493.5 L173.1 503.8 L174.4 511.2 L175.9 516.9 L177.8 520.6 L180.6 523.9 L184.4 526.6 L186.9 528.2 L188.1 528.6 L189.6 528.1 L191.2 526.9 L192.8 529.1 L194.2 534.7 L195.6 540.9 L196.9 547.8 L198.1 552.2 L199.4 554.1 L200.6 554.4 L201.9 553.1 L203.1 548.8 L204.4 541.2 L205.2 534.4 L205.8 528.1 L206.6 520.6 L207.9 511.9 L208.9 504.5 L209.6 498.5 L210.8 496.3 L212.2 497.9 L213.8 499.1 L215.2 499.7 L217.2 500.6 L219.8 501.9 L222.9 503.1 L226.6 504.4 L229.8 504.5 L232.2 503.5 L235.4 503.6 L239.1 504.9 L242.6 505.2 L245.7 504.8 L248.1 504.0 L249.7 503.0 L250.8 500.6 L251.2 496.9 L252.3 488.5 L253.9 475.5 L256.0 461.2 L258.5 445.6 L261.0 437.3 L263.5 436.4 L266.6 436.8 L270.4 438.2 L272.7 438.9 L273.6 438.6 L274.8 440.5 L276.4 444.5 L279.4 447.1 L283.8 448.4 L287.9 449.0 L291.6 449.0 L295.4 444.3 L299.1 434.9 L302.2 426.8 L304.8 419.9 L306.9 410.9 L308.8 399.6 L310.7 384.6 L312.6 365.9 L314.1 351.5 L315.4 341.5 L317.2 335.2 L319.8 332.8 L323.5 331.2 L328.5 330.6 L332.2 327.4 L334.8 321.8 L336.6 319.6 L337.9 320.9 L339.1 327.1 L340.4 338.4 L341.9 350.2 L343.8 362.8 L346.3 373.4 L349.4 382.1 L352.2 389.6 L354.8 395.9 L358.5 403.4 L363.5 412.1 L367.2 418.1 L369.8 421.2 L372.6 423.1 L375.7 423.7 L377.9 431.5 L379.1 446.5 L381.3 455.9 L384.4 459.6 L387.2 463.4 L389.8 467.1 L392.2 472.8 L394.8 480.2 L396.9 488.0 L398.8 496.0 L400.4 503.8 L401.6 511.2 L403.2 522.5 L405.1 537.5 L406.6 549.4 L407.9 558.1 L409.4 565.6 L411.1 571.9 L413.2 576.2 L415.8 578.8 L418.2 581.9 L420.8 585.6 L423.1 589.1 L425.2 592.2 L427.1 592.2 L428.7 589.1 L430.4 584.4 L432.3 578.1 L434.2 574.7 L436.1 574.1 L438.2 571.2 L440.8 566.2 L443.4 560.9 L446.3 555.3 L449.1 554.1 L451.9 557.2 L454.8 559.7 L457.9 561.6 L461.1 560.9 L464.2 557.8 L467.3 554.7 L470.4 551.6 L473.4 550.0 L476.1 550.0 L478.9 545.6 L481.8 536.9 L484.5 528.1 L487.0 519.4 L489.2 511.2 L491.1 503.8 L492.6 499.1 L493.9 497.4 L495.8 496.1 L498.2 495.4 L501.7 496.6 L506.1 499.7 L508.9 502.8 L510.1 505.9 L511.7 509.1 L513.6 512.2 L515.8 514.7 L518.2 516.6 L520.8 518.1 L523.2 519.4 L525.8 521.9 L528.2 525.6 L530.4 530.0 L532.3 535.0 L534.2 538.4 L536.1 540.3 L538.2 542.5 L540.8 545.0 L543.2 547.8 L545.8 550.9 L548.2 554.4 L550.8 558.1 L553.2 561.9 L555.8 565.6 L558.2 569.4 L560.8 573.1 L562.9 577.5 L564.8 582.5 L566.4 587.8 L567.6 593.4 L569.2 597.2 L571.1 599.1 L573.2 601.6 L575.8 604.7 L578.2 605.9 L580.8 605.3 L583.2 604.7 L585.8 604.1 L588.6 603.4 L591.7 602.8 L593.9 603.8 L595.1 606.2 L596.4 610.6 L597.6 616.9 L598.9 623.1 L600.1 629.4 L601.2 633.9 L602.1 636.6 L603.3 643.5 L604.9 654.5 L606.7 663.8 L608.6 671.2 L610.8 675.0 L613.2 675.0 L617.2 671.2 L622.8 663.8 L626.6 654.5 L628.9 643.5 L630.8 633.5 L632.2 624.5 L633.9 615.0 L635.8 605.0 L637.7 593.8 L639.6 581.2 L641.4 568.8 L643.3 556.2 L645.2 545.6 L647.1 536.9 L648.6 529.4 L649.9 523.1 L651.1 518.1 L652.4 514.4 L654.2 512.5 L656.8 512.5 L658.9 512.2 L660.8 511.6 L662.7 509.7 L664.6 506.6 L666.4 503.8 L668.3 501.2 L670.2 497.9 L672.1 493.6 L673.9 490.2 L675.8 487.8 L677.7 486.2 L679.6 485.6 L681.1 486.8 L682.4 489.9 L683.6 493.6 L684.9 497.9 L686.1 500.0 L687.4 500.0 L688.9 501.2 L690.8 503.8 L692.7 506.9 L694.6 510.6 L696.4 514.7 L698.3 519.1 L700.4 521.9 L702.6 523.1 L703.8 523.8" fill="none" stroke="#3f82ee" stroke-width="1.2" stroke-linejoin="round" stroke-linecap="round" />
<path d="M2.5 296.5 L4.4 299.0 L8.1 304.0 L12.5 309.6 L17.5 315.9 L21.9 320.6 L25.6 323.7 L28.4 325.6 L30.3 326.2 L32.2 325.2 L34.1 322.8 L36.2 318.4 L38.8 312.1 L41.2 307.1 L43.8 303.4 L46.2 300.6 L48.8 298.7 L50.9 296.8 L52.8 294.9 L54.8 291.0 L56.9 285.0 L59.0 280.8 L61.0 278.2 L62.8 274.8 L64.2 270.2 L65.8 263.5 L67.2 254.5 L68.8 246.2 L70.2 238.8 L71.8 231.2 L73.2 223.8 L74.8 215.5 L76.2 206.5 L77.8 197.8 L79.2 189.2 L81.3 180.7 L83.9 172.0 L85.8 166.1 L87.0 162.9 L88.8 160.2 L91.1 157.8 L93.1 154.6 L94.7 150.6 L96.7 146.7 L99.1 142.7 L101.8 139.1 L105.0 136.0 L108.2 133.6 L111.3 132.0 L113.7 130.4 L115.3 128.8 L116.7 128.6 L117.9 129.8 L119.1 131.8 L120.3 134.6 L122.4 136.8 L125.6 138.4 L128.4 140.7 L130.8 143.9 L133.1 147.5 L135.5 151.4 L138.3 155.0 L141.5 158.2 L144.6 159.8 L147.8 159.8 L150.4 159.6 L152.4 159.2 L153.6 153.6 L154.2 142.9 L155.2 130.8 L156.6 117.3 L158.3 105.9 L160.3 96.3 L161.7 81.2 L162.6 60.4 L164.0 47.5 L166.0 42.5 L167.5 45.0 L168.5 55.0 L169.5 67.6 L170.5 82.9 L173.0 96.1 L177.0 107.4 L181.0 119.0 L185.0 131.0 L188.8 145.2 L192.2 161.8 L195.5 178.0 L198.5 194.0 L201.5 211.0 L204.5 229.0 L206.8 244.8 L208.2 258.2 L209.8 271.8 L211.2 285.2 L212.7 289.1 L214.1 283.4 L215.7 277.4 L217.6 271.1 L219.4 267.1 L221.3 265.2 L223.2 262.7 L225.1 259.6 L228.5 256.1 L233.5 252.4 L237.9 251.2 L241.6 252.8 L245.2 253.7 L248.8 254.1 L251.2 255.8 L252.8 258.9 L254.4 263.0 L256.3 268.0 L258.2 271.8 L260.1 274.2 L262.6 273.9 L265.7 270.8 L268.7 267.7 L271.6 264.6 L273.4 263.8 L274.3 265.2 L275.4 263.4 L276.6 258.1 L277.9 253.9 L279.1 250.8 L281.3 248.3 L284.4 246.4 L288.5 244.2 L293.5 241.8 L298.5 240.0 L303.5 239.0 L306.8 239.6 L308.2 241.9 L309.8 245.5 L311.4 250.5 L313.2 256.2 L315.1 262.8 L317.9 266.2 L321.6 266.8 L324.8 266.5 L327.2 265.5 L329.4 266.1 L331.3 268.2 L333.2 271.1 L335.1 274.9 L336.6 276.1 L337.9 274.9 L339.4 271.4 L341.3 265.8 L343.2 261.1 L345.1 257.4 L347.2 254.4 L349.8 252.1 L352.2 250.8 L354.8 250.2 L356.8 249.5 L358.2 248.5 L360.8 249.2 L364.2 251.8 L367.2 254.2 L369.8 256.8 L372.4 260.5 L375.3 265.5 L377.5 267.1 L379.0 265.2 L380.4 264.7 L381.6 265.6 L383.2 269.0 L385.1 275.0 L387.2 281.1 L389.8 287.4 L391.6 291.4 L392.9 293.1 L393.5 295.9 L393.5 299.6 L394.8 300.8 L397.2 299.2 L399.8 298.0 L402.2 297.0 L404.1 295.6 L405.4 293.7 L406.3 292.5 L406.9 292.0 L407.9 292.1 L409.1 292.7 L410.3 294.5 L411.4 297.5 L413.2 301.5 L415.8 306.5 L418.2 313.4 L420.8 322.1 L423.2 332.1 L425.8 343.4 L427.9 354.0 L429.8 364.0 L431.7 373.4 L433.6 382.1 L435.8 389.0 L438.2 394.0 L440.8 399.0 L443.2 404.0 L445.4 408.1 L447.3 411.2 L449.5 410.9 L452.0 407.1 L454.8 403.1 L457.9 398.7 L461.1 394.9 L464.2 391.8 L467.3 389.6 L470.4 388.4 L473.4 387.6 L476.1 387.2 L478.9 388.4 L481.8 391.3 L484.5 394.3 L487.0 397.4 L489.2 400.9 L491.1 404.6 L492.9 406.2 L494.8 405.6 L497.3 405.9 L500.4 407.1 L503.2 409.0 L505.8 411.5 L508.2 413.7 L510.8 415.6 L513.2 418.4 L515.8 422.1 L518.2 425.6 L520.8 428.7 L523.2 431.2 L525.8 433.1 L528.2 433.7 L530.8 433.1 L533.2 434.3 L535.8 437.4 L538.2 440.2 L540.8 442.8 L543.6 445.6 L546.7 448.7 L549.5 451.2 L552.0 453.1 L554.2 453.7 L556.1 453.1 L558.2 455.2 L560.8 460.2 L562.9 462.4 L564.8 461.8 L566.7 462.8 L568.6 465.2 L570.8 468.4 L573.2 472.1 L575.8 475.2 L578.2 477.8 L580.8 480.9 L583.2 484.6 L585.8 488.1 L588.2 491.2 L590.6 493.7 L592.9 495.6 L594.8 494.6 L596.2 490.9 L597.6 485.2 L598.9 477.8 L600.1 469.0 L601.4 459.0 L602.6 449.0 L603.9 439.0 L605.1 432.1 L606.4 428.4 L608.2 424.6 L610.8 420.9 L613.5 417.4 L616.5 414.3 L619.2 410.6 L621.8 406.2 L624.2 402.4 L626.8 399.3 L629.1 397.1 L631.2 395.9 L633.4 396.5 L635.6 399.0 L638.0 401.8 L640.5 404.9 L642.7 409.0 L644.6 414.0 L646.4 417.4 L648.3 419.3 L650.2 421.2 L652.1 423.1 L653.9 423.7 L655.8 423.1 L657.7 423.4 L659.6 424.6 L661.4 426.5 L663.3 429.0 L665.2 430.9 L667.1 432.1 L669.6 432.8 L672.7 432.8 L675.5 433.1 L678.0 433.7 L680.5 433.1 L683.0 431.2 L685.5 429.9 L688.0 429.3 L690.5 428.7 L693.0 428.1 L695.2 427.1 L697.1 425.9 L699.4 425.1 L702.3 424.7 L703.8 424.5" fill="none" stroke="#3fa6f8" stroke-width="1.2" stroke-linejoin="round" stroke-linecap="round" />
<path d="M2.5 382.8 L3.8 382.9 L6.2 383.3 L9.4 382.9 L13.1 381.6 L17.5 380.5 L22.5 379.5 L27.5 378.7 L32.5 378.1 L37.5 377.1 L42.5 375.9 L47.2 375.2 L51.6 375.2 L55.3 374.3 L58.4 372.4 L60.9 370.9 L62.8 369.6 L64.7 370.9 L66.6 374.6 L69.1 377.4 L72.2 379.3 L74.4 383.7 L75.6 390.6 L77.1 396.6 L78.7 401.9 L80.2 403.8 L81.8 402.2 L84.4 398.4 L88.1 392.1 L91.9 384.0 L95.6 374.0 L99.4 364.0 L103.1 354.0 L106.6 343.4 L109.7 332.1 L112.2 321.5 L114.1 311.5 L115.7 304.7 L117.0 301.1 L118.5 294.5 L120.1 285.0 L122.0 275.5 L124.4 266.0 L126.8 257.3 L129.2 249.3 L131.6 244.2 L133.9 241.8 L136.7 240.0 L139.9 238.8 L142.3 237.4 L143.8 235.9 L146.2 235.3 L149.4 235.7 L152.0 235.1 L153.9 233.5 L155.5 240.6 L156.7 256.5 L157.5 273.1 L157.9 290.5 L158.6 316.1 L159.5 349.7 L161.2 374.6 L163.8 390.9 L166.9 405.9 L170.6 419.6 L173.8 429.6 L176.2 435.9 L179.4 441.5 L183.1 446.5 L186.9 451.5 L190.6 456.5 L193.8 464.6 L196.2 475.9 L198.8 483.1 L201.2 486.2 L203.4 485.6 L205.1 481.2 L207.2 472.8 L209.8 460.2 L212.2 454.3 L214.8 454.9 L217.9 454.6 L221.6 453.4 L226.0 452.4 L231.0 451.8 L235.4 452.1 L239.1 453.4 L243.5 453.7 L248.5 453.1 L252.2 446.8 L254.8 434.9 L256.9 423.1 L258.8 411.2 L260.4 404.8 L261.6 403.9 L263.8 403.6 L266.9 403.9 L269.8 403.9 L272.2 403.6 L274.4 404.9 L276.3 407.6 L279.4 409.0 L283.8 409.0 L287.9 408.7 L291.6 408.1 L295.4 404.3 L299.1 397.4 L302.2 390.9 L304.8 384.6 L307.2 375.2 L309.8 362.8 L311.9 350.2 L313.8 337.8 L315.4 328.4 L316.6 322.1 L318.8 318.4 L321.9 317.1 L325.4 316.5 L329.1 316.5 L332.6 314.9 L335.7 311.8 L337.9 312.4 L339.1 316.8 L340.4 325.2 L341.6 337.8 L343.2 349.0 L345.1 359.0 L347.2 364.6 L349.8 365.9 L352.2 369.0 L354.8 374.0 L358.5 379.0 L363.5 384.0 L368.5 388.1 L373.5 391.2 L376.9 395.6 L378.8 401.2 L381.3 406.5 L384.4 411.5 L387.6 417.1 L390.7 423.4 L393.5 432.1 L396.0 443.4 L398.8 453.4 L401.9 462.1 L404.8 472.1 L407.2 483.4 L409.4 491.8 L411.1 497.2 L412.0 504.7 L412.0 514.1 L413.2 520.3 L415.8 523.4 L418.2 527.5 L420.8 532.5 L423.2 536.9 L425.8 540.6 L427.9 542.2 L429.8 541.6 L431.7 539.7 L433.6 536.6 L435.1 535.6 L436.4 536.9 L438.2 536.2 L440.8 533.8 L443.6 530.9 L446.7 527.8 L449.5 526.9 L452.0 528.1 L454.8 529.1 L457.9 529.7 L461.1 528.4 L464.2 525.3 L467.3 522.5 L470.4 520.0 L473.6 518.1 L476.7 516.9 L479.5 514.1 L482.0 509.7 L484.2 505.6 L486.1 501.9 L488.2 496.6 L490.8 489.9 L492.6 484.6 L493.9 480.9 L495.4 480.2 L497.3 482.8 L499.2 485.9 L501.1 489.6 L503.2 492.8 L505.8 495.2 L508.2 497.4 L510.8 499.1 L514.5 500.3 L519.5 500.9 L523.2 502.8 L525.8 505.9 L528.2 509.4 L530.8 513.1 L533.2 516.2 L535.8 518.8 L538.2 521.2 L540.8 523.8 L543.2 526.6 L545.8 529.7 L548.2 532.8 L550.8 535.9 L553.2 539.1 L555.8 542.2 L558.2 545.3 L560.8 548.4 L563.2 552.5 L565.8 557.5 L568.2 562.5 L570.8 567.5 L573.2 572.2 L575.8 576.6 L578.2 579.7 L580.8 581.6 L583.2 582.5 L585.8 582.5 L588.6 582.5 L591.7 582.5 L594.2 583.4 L596.1 585.3 L597.6 588.4 L598.9 592.8 L600.4 598.1 L602.3 604.4 L604.2 610.0 L606.1 615.0 L607.6 618.1 L608.9 619.4 L610.8 619.7 L613.2 619.1 L615.4 617.8 L617.1 615.9 L618.9 613.1 L620.8 609.4 L622.7 605.3 L624.6 600.9 L626.4 596.6 L628.3 592.2 L630.2 586.2 L632.1 578.8 L633.9 571.2 L635.8 563.8 L637.7 555.6 L639.6 546.9 L641.4 538.1 L643.3 529.4 L645.2 521.2 L647.1 513.8 L648.9 507.5 L650.8 502.5 L653.0 498.5 L655.5 495.5 L658.0 493.7 L660.5 493.1 L662.7 492.1 L664.6 490.9 L666.8 489.3 L669.2 487.4 L671.4 484.9 L673.3 481.8 L675.2 479.6 L677.1 478.4 L678.6 478.1 L679.9 478.7 L681.1 479.9 L682.4 481.8 L683.6 484.0 L684.9 486.5 L686.8 489.0 L689.2 491.5 L691.8 493.7 L694.2 495.6 L696.8 497.1 L699.2 498.4 L700.5 499.0" fill="none" stroke="#3fa6f8" stroke-width="1.2" stroke-linejoin="round" stroke-linecap="round" />
<path d="M2.5 319.0 L5.0 320.9 L10.0 324.6 L15.6 329.0 L21.9 334.0 L26.6 337.3 L29.7 338.9 L32.2 338.9 L34.1 337.3 L36.9 334.6 L40.6 330.9 L44.4 327.8 L48.1 325.2 L51.9 322.1 L55.6 318.4 L58.8 314.6 L61.2 310.9 L62.0 306.6 L61.1 301.7 L61.4 296.5 L63.0 290.9 L64.6 284.2 L66.2 276.3 L68.1 268.4 L70.5 260.4 L73.3 251.3 L76.5 241.0 L79.6 232.7 L82.8 226.3 L86.0 220.4 L89.1 214.8 L92.3 209.3 L95.5 203.8 L98.7 198.6 L101.8 193.8 L105.0 189.1 L108.2 184.3 L110.9 180.0 L113.3 176.0 L115.7 173.0 L118.1 171.1 L120.9 169.7 L124.0 168.9 L126.8 168.9 L129.2 169.7 L131.6 171.2 L133.9 173.6 L136.7 175.4 L139.9 176.6 L143.4 177.8 L147.4 179.0 L150.5 179.6 L152.7 179.6 L154.3 177.0 L155.3 171.8 L156.3 166.9 L157.5 162.1 L158.9 159.0 L160.5 157.4 L162.3 157.2 L164.2 158.4 L166.4 161.1 L168.8 165.5 L172.5 175.8 L177.5 191.9 L182.5 208.0 L187.5 224.0 L192.5 241.5 L197.5 260.5 L201.5 276.2 L204.5 288.8 L206.8 299.2 L208.2 307.8 L209.5 315.6 L210.5 322.9 L211.9 325.2 L213.8 322.8 L216.3 319.0 L219.4 314.0 L222.9 309.6 L226.6 305.9 L230.4 303.1 L234.1 301.2 L237.9 300.9 L241.6 302.1 L245.4 303.1 L249.1 303.7 L252.9 304.9 L256.6 306.8 L259.8 306.8 L262.2 304.9 L264.8 302.4 L267.2 299.3 L269.8 296.8 L272.2 294.9 L274.8 294.0 L277.2 294.0 L279.8 292.5 L282.2 289.5 L285.4 287.1 L289.1 285.2 L292.9 282.7 L296.6 279.6 L301.0 276.8 L306.0 274.2 L309.8 273.9 L312.2 275.8 L315.4 278.0 L319.1 280.5 L322.9 280.9 L326.6 279.3 L329.8 279.0 L332.2 280.0 L334.4 281.4 L336.3 283.3 L338.2 283.3 L340.1 281.4 L342.2 280.0 L344.8 279.0 L348.5 278.7 L353.5 279.1 L357.9 280.5 L361.6 283.0 L365.4 286.1 L369.1 289.9 L371.6 292.3 L372.9 293.4 L375.4 297.1 L379.1 303.4 L383.5 311.5 L388.5 321.5 L393.5 330.2 L398.5 337.8 L403.8 344.6 L409.2 350.9 L413.2 356.5 L415.8 361.5 L418.2 368.4 L420.8 377.1 L423.2 386.5 L425.8 396.5 L428.2 405.9 L430.8 414.6 L433.2 421.8 L435.8 427.4 L438.6 432.1 L441.7 435.9 L444.4 438.7 L446.6 440.6 L448.8 440.6 L450.9 438.7 L453.9 436.2 L457.6 433.1 L461.1 429.6 L464.2 425.9 L467.3 423.1 L470.4 421.2 L473.6 419.8 L476.7 418.8 L479.8 418.4 L482.9 418.8 L486.4 419.9 L490.1 421.8 L493.9 423.4 L497.6 424.6 L501.4 426.7 L505.1 429.6 L508.2 432.1 L510.8 434.2 L513.9 437.4 L517.6 441.8 L521.4 445.9 L525.1 449.6 L528.9 452.4 L532.6 454.3 L536.4 457.4 L540.1 461.8 L543.9 465.9 L547.6 469.6 L551.4 472.8 L555.1 475.2 L558.2 478.7 L560.8 483.1 L563.2 486.8 L565.8 489.9 L568.2 493.6 L570.8 497.9 L573.9 501.6 L577.6 504.7 L581.4 508.4 L585.1 512.8 L588.2 515.9 L590.8 517.8 L592.9 518.1 L594.8 516.9 L596.7 513.4 L598.6 507.8 L600.1 503.8 L601.4 501.2 L601.1 497.9 L599.2 493.6 L599.2 489.0 L601.1 484.0 L603.2 479.6 L605.8 475.9 L608.2 472.8 L610.8 470.2 L613.5 467.8 L616.5 465.2 L618.9 461.5 L620.8 456.5 L622.7 452.4 L624.6 449.3 L626.8 446.8 L629.2 444.9 L631.8 443.1 L634.2 441.2 L636.8 439.6 L639.2 438.4 L641.8 438.4 L644.2 439.6 L646.8 440.6 L649.2 441.2 L651.8 441.2 L654.2 440.6 L656.8 440.9 L659.2 442.1 L661.8 443.4 L664.2 444.6 L667.1 445.2 L670.2 445.2 L673.3 444.9 L676.4 444.3 L679.6 443.7 L682.7 443.1 L685.8 442.9 L688.9 443.3 L692.4 443.8 L696.1 444.2 L699.4 444.5 L702.3 444.5 L703.8 444.5" fill="none" stroke="#22e8fc" stroke-width="1.2" stroke-linejoin="round" stroke-linecap="round" />
<path d="M2.5 361.5 L5.0 362.2 L10.0 363.8 L15.6 364.7 L21.9 365.1 L27.5 365.1 L32.5 364.7 L37.5 363.6 L42.5 361.9 L46.9 360.2 L50.6 358.6 L54.4 356.2 L58.1 353.1 L61.9 351.0 L65.6 350.0 L69.1 348.9 L72.2 347.6 L74.4 347.6 L75.6 348.9 L77.2 349.1 L79.1 348.2 L81.9 344.3 L85.6 337.4 L89.4 329.6 L93.1 320.9 L96.2 313.4 L98.8 307.1 L100.9 301.5 L102.8 296.5 L104.9 291.4 L107.1 286.1 L109.8 277.9 L112.9 266.8 L115.7 256.9 L118.1 248.1 L120.5 241.0 L122.8 235.5 L125.2 230.3 L127.6 225.5 L129.8 222.1 L131.8 219.8 L134.1 218.6 L136.9 218.5 L139.9 218.0 L143.0 217.2 L146.2 216.8 L149.4 216.8 L151.8 217.2 L153.4 218.0 L154.9 225.9 L156.5 241.0 L158.3 261.2 L160.3 286.6 L163.5 306.1 L167.8 319.7 L172.5 335.2 L177.5 352.8 L182.5 368.4 L187.5 382.1 L191.9 394.0 L195.6 404.0 L199.1 412.4 L202.2 419.3 L204.3 422.4 L205.4 421.8 L207.2 419.0 L209.8 414.0 L213.5 410.2 L218.5 407.8 L224.8 405.2 L232.2 402.8 L237.9 402.1 L241.6 403.4 L245.4 403.4 L249.1 402.1 L252.2 397.8 L254.8 390.2 L256.9 383.1 L258.8 376.2 L261.9 371.8 L266.3 369.9 L270.7 369.3 L275.1 369.9 L278.8 369.6 L281.9 368.4 L285.7 367.4 L290.1 366.8 L294.4 364.0 L298.8 359.0 L302.9 353.4 L306.6 347.1 L309.8 339.6 L312.2 330.9 L314.4 321.5 L316.3 311.5 L319.4 305.9 L323.8 304.6 L328.5 303.4 L333.5 302.1 L336.9 302.1 L338.8 303.4 L341.3 307.8 L344.4 315.2 L348.5 322.8 L353.5 330.2 L358.5 337.1 L363.5 343.4 L368.5 349.6 L373.5 355.9 L377.9 363.4 L381.6 372.1 L386.0 381.5 L391.0 391.5 L395.4 402.8 L399.1 415.2 L402.2 425.9 L404.8 434.6 L407.5 445.2 L410.5 457.8 L413.2 466.5 L415.8 471.5 L418.2 477.1 L420.8 483.4 L423.2 488.4 L425.8 492.1 L428.2 495.5 L430.8 498.5 L432.9 500.5 L434.8 501.5 L436.7 501.8 L438.6 501.4 L440.8 500.7 L443.2 499.6 L446.4 498.4 L450.1 497.1 L453.9 495.9 L457.6 494.6 L461.4 492.4 L465.1 489.3 L468.9 487.1 L472.6 485.9 L476.4 483.4 L480.1 479.6 L483.2 475.6 L485.8 471.2 L488.2 467.1 L490.8 463.4 L492.6 460.2 L493.9 457.8 L495.4 457.4 L497.3 459.3 L499.8 461.8 L502.9 464.9 L506.4 468.4 L510.1 472.1 L513.9 475.6 L517.6 478.7 L521.4 482.4 L525.1 486.8 L528.2 490.9 L530.8 494.6 L532.9 497.4 L534.8 499.1 L537.3 503.1 L540.4 509.4 L544.5 516.2 L549.5 523.8 L554.5 531.2 L559.5 538.8 L564.5 544.4 L569.5 548.1 L574.5 551.6 L579.5 554.7 L584.5 557.2 L589.5 559.1 L593.9 561.6 L597.6 564.7 L601.4 567.5 L605.1 570.0 L608.2 570.6 L610.8 569.4 L613.5 567.5 L616.5 565.0 L618.9 562.2 L620.8 559.1 L622.7 555.0 L624.6 550.0 L626.4 545.3 L628.3 540.9 L630.2 536.2 L632.1 531.2 L633.9 526.2 L635.8 521.2 L637.7 516.2 L639.6 511.2 L641.2 506.6 L642.8 502.2 L644.6 497.2 L646.9 491.8 L648.9 486.8 L650.8 482.4 L652.7 479.6 L654.6 478.4 L656.8 477.8 L659.2 477.8 L661.8 477.4 L664.2 476.8 L666.8 475.6 L669.2 473.7 L671.4 471.8 L673.3 469.9 L675.5 468.4 L678.0 467.1 L680.2 466.8 L682.1 467.4 L683.9 468.7 L685.8 470.6 L688.3 473.1 L691.4 476.2 L694.2 478.7 L696.8 480.6 L699.4 482.4 L702.3 484.3 L703.8 485.2" fill="none" stroke="#22e8fc" stroke-width="1.2" stroke-linejoin="round" stroke-linecap="round" />
<path d="M2.5 340.2 L5.0 341.8 L10.0 344.9 L15.6 347.8 L21.9 350.2 L26.9 351.6 L30.6 351.9 L33.8 350.6 L36.2 347.9 L39.4 346.1 L43.1 345.2 L46.9 343.3 L50.6 340.4 L54.4 337.1 L58.1 333.4 L61.9 329.6 L65.6 325.9 L69.1 320.2 L72.2 312.8 L74.8 306.6 L77.0 301.7 L79.2 296.5 L81.6 290.9 L84.8 284.2 L88.7 276.3 L92.7 268.0 L96.7 259.2 L100.6 250.1 L104.6 240.6 L108.2 232.3 L111.3 225.2 L114.5 218.4 L117.7 212.1 L120.9 206.9 L124.0 203.0 L126.8 199.6 L129.2 196.8 L131.2 195.6 L132.7 196.0 L134.7 196.8 L137.1 198.0 L139.5 198.2 L141.9 197.4 L144.2 197.2 L146.6 197.6 L148.6 198.0 L150.2 198.4 L151.8 199.2 L153.4 200.4 L155.1 203.8 L157.1 209.3 L159.5 217.2 L162.3 227.5 L165.2 236.6 L168.4 244.6 L172.5 254.9 L177.5 267.6 L181.4 279.0 L184.1 289.0 L186.6 297.8 L188.9 305.2 L191.9 316.5 L195.6 331.5 L198.8 343.4 L201.2 352.1 L203.4 358.1 L205.1 361.2 L207.2 364.9 L209.8 369.3 L212.9 369.0 L216.6 364.0 L221.0 359.6 L226.0 355.9 L230.4 353.2 L234.1 351.8 L237.9 351.8 L241.6 353.2 L245.1 353.9 L248.2 353.6 L251.3 351.8 L254.4 348.2 L258.5 344.3 L263.5 339.9 L267.9 336.8 L271.6 334.9 L275.4 332.6 L279.1 329.9 L283.5 327.4 L288.5 325.1 L292.9 322.8 L296.6 320.2 L300.4 316.5 L304.1 311.5 L307.9 306.5 L311.6 301.5 L314.8 297.8 L317.2 295.2 L320.1 293.2 L323.2 291.8 L326.9 291.0 L331.3 291.0 L335.4 291.8 L339.1 293.2 L342.9 296.5 L346.6 301.5 L351.6 307.1 L357.9 313.4 L364.8 319.9 L372.2 326.8 L377.9 333.7 L381.6 340.6 L385.4 347.8 L389.1 355.2 L392.9 363.4 L396.6 372.1 L400.4 380.9 L404.1 389.6 L407.5 397.1 L410.5 403.4 L413.2 409.6 L415.8 415.9 L418.2 421.5 L420.8 426.5 L423.2 432.1 L425.8 438.4 L428.2 444.6 L430.8 450.9 L433.2 456.5 L435.8 461.5 L438.2 464.6 L440.8 465.9 L443.4 467.1 L446.3 468.4 L449.4 468.2 L452.8 466.8 L456.4 464.6 L460.1 461.7 L463.9 458.7 L467.6 455.6 L471.4 453.4 L475.1 452.1 L478.9 449.9 L482.6 446.8 L485.8 444.3 L488.2 442.4 L490.8 440.9 L493.2 439.6 L495.8 439.9 L498.2 441.8 L501.4 444.3 L505.1 447.4 L508.9 450.9 L512.6 454.6 L516.4 458.4 L520.1 462.1 L523.9 465.9 L527.6 469.6 L531.4 473.4 L535.1 477.1 L538.9 480.9 L542.6 484.6 L546.4 488.4 L550.1 492.1 L552.9 495.5 L554.8 498.5 L557.3 502.5 L560.4 507.5 L564.5 513.1 L569.5 519.4 L574.5 525.3 L579.5 530.9 L583.9 535.0 L587.6 537.5 L590.8 539.1 L593.2 539.7 L595.8 539.1 L598.2 537.2 L601.1 534.1 L604.2 529.7 L607.3 525.0 L610.4 520.0 L613.5 515.9 L616.5 512.8 L619.2 509.7 L621.8 506.6 L623.9 503.8 L625.8 501.2 L627.7 497.9 L629.6 493.6 L631.8 489.0 L634.2 484.0 L636.8 479.3 L639.2 474.9 L641.8 471.2 L644.2 468.1 L646.8 464.9 L649.2 461.8 L651.8 459.6 L654.2 458.4 L656.8 457.8 L659.2 457.8 L661.8 458.1 L664.2 458.7 L666.8 459.0 L669.2 459.0 L671.8 458.2 L674.2 456.8 L676.8 455.8 L679.2 455.4 L681.8 455.6 L684.2 456.2 L686.8 457.1 L689.2 458.4 L691.8 459.6 L694.2 460.9 L696.8 462.1 L699.2 463.4 L701.3 464.2 L702.9 464.6 L703.8 464.8" fill="none" stroke="#f57a28" stroke-width="1.2" stroke-linejoin="round" stroke-linecap="round" />
<rect x="2.5" y="110.4" width="781" height="1.3" fill="#52cf52"/>
<rect x="2.5" y="293.9" width="781" height="1.3" fill="#52cf52"/>
<rect x="2.5" y="407.1" width="781" height="1.3" fill="#52cf52"/>
<rect x="2.5" y="498.8" width="781" height="1.3" fill="#52cf52"/>
<rect x="2.5" y="590.6" width="781" height="1.3" fill="#52cf52"/>
<rect x="2.5" y="473" width="781" height="1" fill="#b4bcf2"/>
</g>
<text x="731.7" y="107.9" font-size="8.7" fill="#333" font-weight="normal" text-anchor="start" textLength="17.5" lengthAdjust="spacingAndGlyphs" >0.0%</text>
<text x="755.0" y="107.9" font-size="8.7" fill="#333" font-weight="normal" text-anchor="start" textLength="26.8" lengthAdjust="spacingAndGlyphs" >116.335</text>
<text x="727.7" y="291.5" font-size="8.7" fill="#333" font-weight="normal" text-anchor="start" textLength="21.5" lengthAdjust="spacingAndGlyphs" >23.6%</text>
<text x="755.0" y="291.5" font-size="8.7" fill="#333" font-weight="normal" text-anchor="start" textLength="26.8" lengthAdjust="spacingAndGlyphs" >115.657</text>
<text x="727.7" y="404.6" font-size="8.7" fill="#333" font-weight="normal" text-anchor="start" textLength="21.5" lengthAdjust="spacingAndGlyphs" >38.2%</text>
<text x="755.0" y="404.6" font-size="8.7" fill="#333" font-weight="normal" text-anchor="start" textLength="26.8" lengthAdjust="spacingAndGlyphs" >115.239</text>
<text x="727.7" y="496.4" font-size="8.7" fill="#333" font-weight="normal" text-anchor="start" textLength="21.5" lengthAdjust="spacingAndGlyphs" >50.0%</text>
<text x="755.0" y="496.4" font-size="8.7" fill="#333" font-weight="normal" text-anchor="start" textLength="26.8" lengthAdjust="spacingAndGlyphs" >114.900</text>
<text x="727.7" y="588.1" font-size="8.7" fill="#333" font-weight="normal" text-anchor="start" textLength="21.5" lengthAdjust="spacingAndGlyphs" >61.8%</text>
<text x="755.0" y="588.1" font-size="8.7" fill="#333" font-weight="normal" text-anchor="start" textLength="26.8" lengthAdjust="spacingAndGlyphs" >114.561</text>
<rect x="783.05" y="91" width="0.95" height="547.5" fill="#3a4676"/>
<rect x="2.5" y="637.6" width="781.5" height="1.1" fill="#3a4676"/>
<rect x="784" y="92.9" width="4.2" height="1" fill="#3a4676"/>
<rect x="784" y="120.0" width="4.2" height="1" fill="#3a4676"/>
<rect x="784" y="147.1" width="4.2" height="1" fill="#3a4676"/>
<rect x="784" y="174.1" width="4.2" height="1" fill="#3a4676"/>
<rect x="784" y="201.2" width="4.2" height="1" fill="#3a4676"/>
<rect x="784" y="228.3" width="4.2" height="1" fill="#3a4676"/>
<rect x="784" y="255.3" width="4.2" height="1" fill="#3a4676"/>
<rect x="784" y="282.4" width="4.2" height="1" fill="#3a4676"/>
<rect x="784" y="309.5" width="4.2" height="1" fill="#3a4676"/>
<rect x="784" y="336.5" width="4.2" height="1" fill="#3a4676"/>
<rect x="784" y="363.6" width="4.2" height="1" fill="#3a4676"/>
<rect x="784" y="390.7" width="4.2" height="1" fill="#3a4676"/>
<rect x="784" y="417.8" width="4.2" height="1" fill="#3a4676"/>
<rect x="784" y="444.8" width="4.2" height="1" fill="#3a4676"/>
<rect x="784" y="499.0" width="4.2" height="1" fill="#3a4676"/>
<rect x="784" y="526.0" width="4.2" height="1" fill="#3a4676"/>
<rect x="784" y="553.1" width="4.2" height="1" fill="#3a4676"/>
<rect x="784" y="580.2" width="4.2" height="1" fill="#3a4676"/>
<rect x="784" y="607.2" width="4.2" height="1" fill="#3a4676"/>
<rect x="784" y="634.3" width="4.2" height="1" fill="#3a4676"/>
<text x="795.0" y="205.0" font-size="8.7" fill="#5c6b96" font-weight="normal" text-anchor="start" textLength="27.0" lengthAdjust="spacingAndGlyphs" >116.000</text>
<rect x="15.8" y="638" width="1" height="4" fill="#3a4676"/>
<text x="5.6" y="656.3" font-size="8.7" fill="#6f7a96" font-weight="normal" text-anchor="start" textLength="19.5" lengthAdjust="spacingAndGlyphs" >02-10</text>
<rect x="81.8" y="638" width="1" height="4" fill="#3a4676"/>
<text x="71.6" y="656.3" font-size="8.7" fill="#6f7a96" font-weight="normal" text-anchor="start" textLength="19.5" lengthAdjust="spacingAndGlyphs" >02-11</text>
<rect x="147.8" y="638" width="1" height="4" fill="#3a4676"/>
<text x="137.6" y="656.3" font-size="8.7" fill="#6f7a96" font-weight="normal" text-anchor="start" textLength="19.5" lengthAdjust="spacingAndGlyphs" >02-12</text>
<rect x="213.8" y="638" width="1" height="4" fill="#3a4676"/>
<text x="203.6" y="656.3" font-size="8.7" fill="#6f7a96" font-weight="normal" text-anchor="start" textLength="19.5" lengthAdjust="spacingAndGlyphs" >02-15</text>
<rect x="279.9" y="638" width="1" height="4" fill="#3a4676"/>
<text x="269.7" y="656.3" font-size="8.7" fill="#6f7a96" font-weight="normal" text-anchor="start" textLength="19.5" lengthAdjust="spacingAndGlyphs" >02-16</text>
<rect x="345.9" y="638" width="1" height="4" fill="#3a4676"/>
<text x="335.7" y="656.3" font-size="8.7" fill="#6f7a96" font-weight="normal" text-anchor="start" textLength="19.5" lengthAdjust="spacingAndGlyphs" >02-17</text>
<rect x="411.9" y="638" width="1" height="4" fill="#3a4676"/>
<text x="401.7" y="656.3" font-size="8.7" fill="#6f7a96" font-weight="normal" text-anchor="start" textLength="19.5" lengthAdjust="spacingAndGlyphs" >02-18</text>
<rect x="478.0" y="638" width="1" height="4" fill="#3a4676"/>
<text x="467.8" y="656.3" font-size="8.7" fill="#6f7a96" font-weight="normal" text-anchor="start" textLength="19.5" lengthAdjust="spacingAndGlyphs" >02-19</text>
<rect x="544.0" y="638" width="1" height="4" fill="#3a4676"/>
<text x="533.8" y="656.3" font-size="8.7" fill="#6f7a96" font-weight="normal" text-anchor="start" textLength="19.5" lengthAdjust="spacingAndGlyphs" >02-22</text>
<rect x="610.0" y="638" width="1" height="4" fill="#3a4676"/>
<text x="599.8" y="656.3" font-size="8.7" fill="#6f7a96" font-weight="normal" text-anchor="start" textLength="19.5" lengthAdjust="spacingAndGlyphs" >02-23</text>
<rect x="676.0" y="638" width="1" height="4" fill="#3a4676"/>
<text x="665.8" y="656.3" font-size="8.7" fill="#6f7a96" font-weight="normal" text-anchor="start" textLength="19.5" lengthAdjust="spacingAndGlyphs" >02-24</text>
<rect x="742.1" y="638" width="1" height="4" fill="#3a4676"/>
<text x="731.9" y="656.3" font-size="8.7" fill="#6f7a96" font-weight="normal" text-anchor="start" textLength="19.5" lengthAdjust="spacingAndGlyphs" >02-25</text>
<path d="M784.5 473.5 L788.5 466.8 H824 V480.2 H788.5 Z" fill="#c9dbfb"/>
<text x="791.2" y="476.7" font-size="8.8" fill="#39446a" font-weight="normal" text-anchor="start" textLength="27.0" lengthAdjust="spacingAndGlyphs" >114.996</text>
</g>
<g id="bot-header">
<rect x="0" y="663" width="1" height="661" fill="#c9c9c9"/>
<rect x="1" y="663" width="823" height="1.7" fill="#081a52"/>
<rect x="1" y="664.7" width="823" height="0.9" fill="#dfe3f2"/>
<rect x="1" y="665.5" width="823" height="90.4" fill="#032466"/>
<rect x="3.5" y="665.5" width="411" height="31.5" fill="#061a4c"/>
<rect x="3.5" y="665.5" width="411" height="2.5" fill="#04123a"/>
<rect x="1" y="696.5" width="823" height="1" fill="#021240"/>
<rect x="12.6" y="669.6" width="98.8" height="25" rx="3.5" fill="#3b4565" stroke="#080d24" stroke-width="1.4"/>
<clipPath id="cfu2"><ellipse cx="24.8" cy="682.0" rx="8.5" ry="8.5"/></clipPath>
<g clip-path="url(#cfu2)">
<rect x="16.3" y="673.5" width="17.0" height="17.0" fill="#fff"/>
<rect x="16.3" y="673.50" width="17.0" height="2.43" fill="#c8152a"/>
<rect x="16.3" y="678.36" width="17.0" height="2.43" fill="#c8152a"/>
<rect x="16.3" y="683.21" width="17.0" height="2.43" fill="#c8152a"/>
<rect x="16.3" y="688.07" width="17.0" height="2.43" fill="#c8152a"/>
<rect x="16.3" y="673.5" width="8.1" height="7.3" fill="#7474a6"/>
<rect x="19.7" y="676.7" width="3.4" height="1.9" fill="#e8e8f4"/>
<rect x="16.3" y="673.5" width="17.0" height="17.0" fill="url(#gShade)"/>
</g>
<ellipse cx="24.8" cy="682.0" rx="8.5" ry="8.5" fill="none" stroke="#2a3150" stroke-width="0.8"/>
<ellipse cx="45.6" cy="682.0" rx="8.5" ry="8.5" fill="#fff" stroke="#b9bccb" stroke-width="0.9"/>
<ellipse cx="45.6" cy="682.0" rx="4.2" ry="4.2" fill="url(#gJP)"/>
<ellipse cx="45.6" cy="682.0" rx="8.5" ry="8.5" fill="url(#gShade)"/>
<text x="58.3" y="686.3" font-size="11.2" fill="#fff" font-weight="bold" text-anchor="start" textLength="47.6" lengthAdjust="spacingAndGlyphs" >USD/JPY</text>
<rect x="117.5" y="674.0" width="89.5" height="17.3" rx="2" fill="url(#gDD)" stroke="#070d26" stroke-width="0.8"/>
<rect x="190.7" y="674.3" width="16.3" height="16.7" fill="url(#gArr)"/>
<path d="M196.1 681.3 L198.8 684.3 L201.6 681.3" fill="none" stroke="#1c2550" stroke-width="1.7" stroke-linecap="round" stroke-linejoin="round"/>
<text x="124.0" y="687.0" font-size="12.2" fill="#e4e6f2" font-weight="normal" text-anchor="start" textLength="18.5" lengthAdjust="spacingAndGlyphs" >Bid</text>
<rect x="210.5" y="674.0" width="113.0" height="17.3" rx="2" fill="url(#gDD)" stroke="#070d26" stroke-width="0.8"/>
<rect x="307.2" y="674.3" width="16.3" height="16.7" fill="url(#gArr)"/>
<path d="M312.6 681.3 L315.4 684.3 L318.1 681.3" fill="none" stroke="#1c2550" stroke-width="1.7" stroke-linecap="round" stroke-linejoin="round"/>
<text x="216.5" y="686.6" font-size="11" fill="#e4e6f2" font-weight="normal" text-anchor="start" textLength="55.0" lengthAdjust="spacingAndGlyphs" >ローソク足</text>
<rect x="328.5" y="674.0" width="78.5" height="17.3" rx="2" fill="url(#gDD)" stroke="#070d26" stroke-width="0.8"/>
<rect x="390.7" y="674.3" width="16.3" height="16.7" fill="url(#gArr)"/>
<path d="M396.1 681.3 L398.9 684.3 L401.6 681.3" fill="none" stroke="#1c2550" stroke-width="1.7" stroke-linecap="round" stroke-linejoin="round"/>
<text x="337.0" y="686.6" font-size="11" fill="#e4e6f2" font-weight="normal" text-anchor="start" textLength="21.5" lengthAdjust="spacingAndGlyphs" >日足</text>
<path d="M417.5 696.5 V669 Q417.5 666 420.5 666 H552 Q555 666 555 669 V696.5 Z" fill="url(#gTab)" stroke="#0a1a50" stroke-width="0.8"/>
<rect x="426.0" y="675.5" width="13.0" height="13.5" fill="#35416a"/>
<rect x="426.0" y="688.1" width="13.0" height="0.9" fill="#5a678f"/>
<text x="453.5" y="686.5" font-size="11" fill="#fff" font-weight="bold" text-anchor="start" textLength="77.5" lengthAdjust="spacingAndGlyphs" >通貨ペアを選択</text>
<rect x="565" y="670" width="1" height="23" fill="#06164a"/>
<rect x="573.0" y="672.5" width="13.0" height="13.0" fill="#35416a"/>
<rect x="573.0" y="684.6" width="13.0" height="0.9" fill="#5a678f"/>
<text x="593.5" y="684.3" font-size="11" fill="#fff" font-weight="500" text-anchor="start" textLength="54.5" lengthAdjust="spacingAndGlyphs" >ポジション</text>
<rect x="653.0" y="672.5" width="13.0" height="13.0" fill="#35416a"/>
<rect x="653.0" y="684.6" width="13.0" height="0.9" fill="#5a678f"/>
<text x="673.5" y="684.3" font-size="11" fill="#fff" font-weight="500" text-anchor="start" textLength="33.5" lengthAdjust="spacingAndGlyphs" >注文中</text>
<rect x="713.0" y="672.5" width="13.0" height="13.0" fill="#35416a"/>
<rect x="713.0" y="684.6" width="13.0" height="0.9" fill="#5a678f"/>
<text x="733.5" y="684.3" font-size="11" fill="#fff" font-weight="500" text-anchor="start" textLength="22.5" lengthAdjust="spacingAndGlyphs" >履歴</text>
<rect x="751.5" y="665.5" width="16.3" height="30" fill="#032466" stroke="#0a1a50" stroke-width="0.8"/>
<rect x="755" y="671.0" width="9.5" height="0.9" fill="#e8ecff"/>
<rect x="755" y="673.3" width="9.5" height="0.9" fill="#e8ecff"/>
<rect x="755" y="675.6" width="9.5" height="0.9" fill="#e8ecff"/>
<rect x="755" y="677.9" width="9.5" height="0.9" fill="#e8ecff"/>
<path d="M757.3 681 v7 l3.6 -3.5 Z" fill="#e8ecff"/>
<rect x="775.0" y="670.7" width="18.0" height="16.5" fill="#0c2b7a"/>
<path d="M775.5 687.2 v-16.0 h17.5" fill="none" stroke="#7786b8" stroke-width="1"/>
<path d="M792.5 671.2 v15.5 h-17.0" fill="none" stroke="#02103c" stroke-width="1"/>
<g fill="#fff">
<rect x="782.88" y="673.40" width="2.24" height="11.20" transform="rotate(0 784.00 679.00)"/>
<rect x="782.88" y="673.40" width="2.24" height="11.20" transform="rotate(45 784.00 679.00)"/>
<rect x="782.88" y="673.40" width="2.24" height="11.20" transform="rotate(90 784.00 679.00)"/>
<rect x="782.88" y="673.40" width="2.24" height="11.20" transform="rotate(135 784.00 679.00)"/>
<circle cx="784.00" cy="679.00" r="3.70"/>
<circle cx="784.00" cy="679.00" r="1.34" fill="#0b2a78"/>
</g>
<rect x="798.5" y="670.7" width="17.5" height="16.5" fill="#0c2b7a"/>
<path d="M799.0 687.2 v-16.0 h17.0" fill="none" stroke="#7786b8" stroke-width="1"/>
<path d="M815.5 671.2 v15.5 h-16.5" fill="none" stroke="#02103c" stroke-width="1"/>
<path d="M803.5 682.6 L810.2 675.9 M805.4 675.2 h5.6 v5.6" fill="none" stroke="#fff" stroke-width="2.0"/>
<text x="12.5" y="713.0" font-size="10.8" fill="#a8b2ea" font-weight="normal" text-anchor="start" textLength="14.5" lengthAdjust="spacingAndGlyphs" >Bid</text>
<text x="37.5" y="713.0" font-size="10.8" fill="#fff" font-weight="normal" text-anchor="start" textLength="38.7" lengthAdjust="spacingAndGlyphs" >114.670</text>
<text x="86.3" y="713.0" font-size="10.8" fill="#a8b2ea" font-weight="normal" text-anchor="start" textLength="19.2" lengthAdjust="spacingAndGlyphs" >Ask</text>
<text x="116.7" y="713.0" font-size="10.8" fill="#fff" font-weight="normal" text-anchor="start" textLength="38.3" lengthAdjust="spacingAndGlyphs" >114.672</text>
<text x="165.5" y="713.0" font-size="10.8" fill="#a8b2ea" font-weight="normal" text-anchor="start" textLength="34.5" lengthAdjust="spacingAndGlyphs" >Spread</text>
<text x="210.5" y="713.0" font-size="10.8" fill="#fff" font-weight="normal" text-anchor="start" textLength="14.2" lengthAdjust="spacingAndGlyphs" >0.2</text>
<text x="236.0" y="713.0" font-size="10.8" fill="#a8b2ea" font-weight="normal" text-anchor="start" textLength="26.3" lengthAdjust="spacingAndGlyphs" >Open</text>
<text x="272.3" y="713.0" font-size="10.8" fill="#fff" font-weight="normal" text-anchor="start" textLength="38.7" lengthAdjust="spacingAndGlyphs" >114.732</text>
<text x="321.5" y="713.0" font-size="10.8" fill="#a8b2ea" font-weight="normal" text-anchor="start" textLength="23.3" lengthAdjust="spacingAndGlyphs" >High</text>
<text x="356.0" y="713.0" font-size="10.8" fill="#fff" font-weight="normal" text-anchor="start" textLength="38.7" lengthAdjust="spacingAndGlyphs" >114.746</text>
<text x="404.8" y="713.0" font-size="10.8" fill="#a8b2ea" font-weight="normal" text-anchor="start" textLength="21.0" lengthAdjust="spacingAndGlyphs" >Low</text>
<text x="435.8" y="713.0" font-size="10.8" fill="#fff" font-weight="normal" text-anchor="start" textLength="38.2" lengthAdjust="spacingAndGlyphs" >114.499</text>
<text x="484.5" y="713.0" font-size="10.8" fill="#a8b2ea" font-weight="normal" text-anchor="start" textLength="38.7" lengthAdjust="spacingAndGlyphs" >Change</text>
<text x="534.5" y="713.0" font-size="10.8" fill="#fff" font-weight="normal" text-anchor="start" textLength="30.5" lengthAdjust="spacingAndGlyphs" >-0.062</text>
<text x="575.8" y="713.0" font-size="10.8" fill="#a8b2ea" font-weight="normal" text-anchor="start" textLength="24.2" lengthAdjust="spacingAndGlyphs" >Time</text>
<text x="610.8" y="713.0" font-size="10.8" fill="#fff" font-weight="normal" text-anchor="start" textLength="26.0" lengthAdjust="spacingAndGlyphs" >09:41</text>
<rect x="12.5" y="725.0" width="755.0" height="22.6" rx="2.5" fill="url(#gNav)" stroke="#0a1030" stroke-width="1.2"/>
<rect x="51.2" y="725.6" width="555.3" height="21.4" fill="url(#gSel)"/>
<path d="M13.8 736.6 L15.3 735.8 L16.9 736.3 L18.4 734.2 L20.0 734.8 L21.7 734.7 L23.3 736.0 L25.0 736.7 L26.7 735.3 L28.3 735.2 L30.0 734.5 L31.5 734.8 L33.0 734.3 L34.5 734.7 L36.0 735.6 L37.5 734.2 L39.0 733.5 L40.5 733.1 L42.0 732.1 L43.5 732.4 L45.0 731.7 L46.7 731.0 L48.3 731.6 L50.0 732.8 L51.2 727.1 L52.8 728.2 L54.4 729.5 L55.9 732.3 L57.5 732.0 L59.0 731.8 L60.5 732.9 L62.0 731.8 L63.5 730.7 L65.0 731.3 L66.5 732.0 L68.0 730.8 L69.5 730.2 L71.0 729.4 L72.5 729.1 L74.0 730.4 L75.5 729.2 L77.0 729.7 L78.5 727.5 L80.0 727.5 L81.5 727.8 L83.0 729.1 L84.5 729.1 L86.0 730.1 L87.5 731.1 L89.0 730.4 L90.5 729.4 L92.0 728.8 L93.5 730.2 L95.0 728.1 L96.5 729.0 L98.0 729.1 L99.5 729.6 L101.0 728.9 L102.5 729.6 L104.0 729.1 L105.5 729.9 L107.0 730.5 L108.5 729.8 L110.0 730.2 L111.7 730.8 L113.3 732.2 L115.0 735.1 L116.7 735.8 L118.3 736.8 L120.0 737.3 L121.5 737.5 L123.0 737.5 L124.5 737.6 L126.0 736.1 L127.5 736.1 L129.0 736.6 L130.5 735.0 L132.0 734.4 L133.5 734.5 L135.0 733.7 L136.5 734.7 L138.0 734.5 L139.5 733.2 L141.0 732.6 L142.5 732.2 L144.0 732.4 L145.5 732.0 L147.0 732.6 L148.5 732.8 L150.0 732.0 L151.5 731.4 L153.0 732.4 L154.5 730.8 L156.0 730.9 L157.5 730.8 L159.0 731.1 L160.5 730.7 L162.0 731.5 L163.5 731.5 L165.0 732.5 L166.5 732.7 L168.0 734.0 L169.5 734.1 L171.0 734.9 L172.5 735.1 L174.0 735.1 L175.5 736.1 L177.0 736.1 L178.5 736.9 L180.0 736.7 L181.5 737.2 L183.0 736.8 L184.5 738.4 L186.0 738.0 L187.5 738.0 L189.0 737.6 L190.5 737.6 L192.0 737.5 L193.5 738.1 L195.0 737.1 L196.5 737.0 L198.0 738.8 L199.5 738.8 L201.0 738.2 L202.5 738.6 L204.2 739.6 L206.0 741.0 L207.5 741.6 L209.0 741.4 L210.5 740.4 L212.0 739.3 L213.5 739.4 L215.0 739.1 L216.5 738.9 L218.0 738.1 L219.5 739.1 L221.0 739.4 L222.7 739.0 L224.3 737.5 L226.0 738.2 L227.7 737.3 L229.3 738.1 L231.0 737.4 L232.7 738.2 L234.3 737.7 L236.0 736.1 L237.7 736.3 L239.3 737.3 L241.0 736.2 L242.7 736.2 L244.3 736.4 L246.0 737.2 L247.7 737.6 L249.3 736.9 L251.0 737.9 L252.7 736.9 L254.3 735.7 L256.0 736.9 L257.7 735.8 L259.3 734.9 L261.0 736.5 L262.5 734.7 L264.0 736.0 L265.5 735.9 L267.0 736.9 L268.5 736.0 L270.0 735.4 L271.5 735.3 L273.0 734.9 L274.5 735.4 L276.0 734.7 L277.7 735.1 L279.3 733.6 L281.0 733.5 L282.9 732.0 L284.8 732.2 L286.4 736.1 L288.1 740.3 L289.8 744.0 L291.4 739.8 L293.1 735.5 L294.8 733.2 L296.6 735.0 L298.5 736.6 L300.2 736.7 L301.8 736.4 L303.5 737.4 L305.0 738.3 L306.5 737.4 L308.0 739.1 L309.5 738.6 L311.0 739.9 L312.5 740.1 L314.0 739.4 L315.5 739.7 L317.0 738.7 L318.5 737.8 L320.0 738.3 L321.5 737.9 L323.0 736.6 L324.5 736.5 L326.0 735.9 L327.7 736.4 L329.3 738.0 L331.0 739.3 L332.7 739.3 L334.3 739.7 L336.0 738.9 L337.7 740.0 L339.3 739.5 L341.0 739.6 L342.5 739.9 L344.0 740.6 L345.5 741.1 L347.0 742.3 L348.5 742.2 L350.2 742.3 L351.8 742.0 L353.5 741.3 L355.0 740.8 L356.5 740.4 L358.0 740.4 L359.5 741.0 L361.0 741.4 L362.5 742.3 L364.0 742.7 L365.5 742.4 L367.0 744.1 L368.5 743.3 L370.2 744.0 L371.8 742.5 L373.5 743.6 L375.2 743.3 L376.8 743.6 L378.5 743.3 L380.0 743.1 L381.5 743.7 L383.0 743.7 L384.5 743.7 L386.0 743.2 L387.7 744.2 L389.3 745.4 L391.0 744.5 L392.7 745.9 L394.3 744.9 L396.0 744.5 L397.7 743.7 L399.3 744.4 L401.0 743.9 L402.6 745.1 L404.1 745.8 L405.7 746.1 L407.3 745.7 L408.9 745.5 L410.4 745.2 L412.0 746.6 L413.7 745.8 L415.3 745.5 L417.0 744.2 L418.5 745.0 L420.0 743.3 L421.5 743.2 L423.0 742.8 L424.5 743.2 L426.0 743.6 L427.5 741.9 L429.0 742.7 L430.5 742.7 L432.0 741.4 L433.7 740.0 L435.3 740.0 L437.0 739.4 L438.7 738.7 L440.3 737.5 L442.0 736.1 L443.7 735.5 L445.3 735.1 L447.0 735.3 L448.7 734.7 L450.3 735.2 L452.0 736.5 L453.7 737.6 L455.3 736.5 L457.0 736.6 L458.7 736.4 L460.3 737.0 L462.0 736.7 L463.7 735.5 L465.3 735.2 L467.0 735.7 L468.7 735.7 L470.3 735.7 L472.0 735.7 L473.7 734.3 L475.3 735.1 L477.0 735.7 L478.5 735.7 L480.0 734.1 L481.5 735.0 L483.0 734.3 L484.5 734.6 L486.0 733.5 L487.5 734.6 L489.0 735.2 L490.5 734.7 L492.0 734.2 L493.5 734.5 L495.0 734.5 L496.5 734.5 L498.0 734.7 L499.5 735.7 L501.0 734.6 L502.5 735.8 L504.0 735.7 L505.5 735.7 L507.0 735.6 L508.7 735.5 L510.3 736.0 L512.0 736.2 L513.7 735.6 L515.3 736.3 L517.0 734.7 L518.7 733.5 L520.3 732.3 L522.0 731.4 L523.7 730.7 L525.3 729.8 L527.0 729.1 L528.5 729.2 L530.0 727.9 L531.5 728.6 L533.0 728.8 L534.5 728.5 L536.0 727.7 L537.5 728.4 L539.0 727.7 L540.5 728.1 L542.0 727.5 L543.5 728.7 L545.0 728.9 L546.5 727.4 L548.0 729.0 L549.5 729.2 L551.0 728.0 L552.5 727.3 L554.0 727.7 L555.5 727.1 L557.0 727.5 L558.7 727.3 L560.3 725.8 L562.0 725.1 L563.7 726.3 L565.3 727.6 L567.0 728.6 L568.7 727.6 L570.3 726.4 L572.0 725.9 L573.7 726.8 L575.3 726.0 L577.0 724.9 L579.0 727.5" fill="none" stroke="#e2e2e8" stroke-width="1.15" stroke-linejoin="round"/>
<rect x="50.7" y="725.6" width="1" height="21.4" fill="#f4f4f8"/>
<rect x="606.0" y="725.6" width="1" height="21.4" fill="#f4f4f8"/>
<rect x="579.0" y="725.6" width="1" height="21.4" fill="#c4c6d2"/>
<path d="M54.2 737.0 L57.2 734.7 L57.2 739.3 Z" fill="#f4f4f8"/>
<path d="M601.8 737.0 L598.8 734.7 L598.8 739.3 Z" fill="#f4f4f8"/>
<rect x="784.5" y="724.5" width="25.5" height="24.5" rx="2.5" fill="url(#gLock)" stroke="#050d2c" stroke-width="1.2"/>
<g transform="translate(784.50 724.50) scale(1.000 1.000)">
<rect x="4.6" y="16.2" width="8.6" height="5.8" fill="#f4f6ff"/>
<path d="M9.6 16.2 v-1.6 a2.6 2.6 0 0 1 5.2 0 v0.6" fill="none" stroke="#f4f6ff" stroke-width="1.3"/>
<path d="M19 3.2 l3 3.6 h-2 v4.2 h2 l-3 3.6 l-3 -3.6 h2 v-4.2 h-2 Z" fill="#f4f6ff"/>
</g>
</g>
<g id="bot-chart">
<g clip-path="url(#clipBot)">
<rect x="1" y="847" width="768" height="1" fill="#b4bcf2"/>
<rect x="1" y="952" width="1" height="13" fill="#ff0000"/>
<rect x="2" y="943" width="1" height="16" fill="#ff0000"/>
<rect x="3" y="925" width="1" height="25" fill="#ff0000"/>
<rect x="4" y="922" width="1" height="8" fill="#ff0000"/>
<rect x="5" y="917" width="1" height="32" fill="#0000ff"/>
<rect x="5" y="931" width="1" height="22" fill="#0000ff"/>
<rect x="6" y="946" width="1" height="14" fill="#0000ff"/>
<rect x="7" y="949" width="1" height="15" fill="#0000ff"/>
<rect x="8" y="958" width="1" height="15" fill="#0000ff"/>
<rect x="9" y="963" width="1" height="17" fill="#0000ff"/>
<rect x="10" y="969" width="1" height="11" fill="#0000ff"/>
<rect x="11" y="968" width="1" height="19" fill="#ff0000"/>
<rect x="11" y="970" width="1" height="11" fill="#0000ff"/>
<rect x="12" y="963" width="1" height="20" fill="#ff0000"/>
<rect x="13" y="961" width="1" height="29" fill="#0000ff"/>
<rect x="14" y="973" width="1" height="30" fill="#0000ff"/>
<rect x="15" y="988" width="1" height="12" fill="#ff0000"/>
<rect x="16" y="977" width="1" height="19" fill="#ff0000"/>
<rect x="17" y="959" width="1" height="24" fill="#ff0000"/>
<rect x="17" y="948" width="1" height="16" fill="#ff0000"/>
<rect x="18" y="934" width="1" height="23" fill="#ff0000"/>
<rect x="19" y="934" width="1" height="13" fill="#0000ff"/>
<rect x="20" y="931" width="1" height="17" fill="#ff0000"/>
<rect x="21" y="925" width="1" height="30" fill="#0000ff"/>
<rect x="22" y="949" width="1" height="20" fill="#0000ff"/>
<rect x="23" y="948" width="1" height="29" fill="#0000ff"/>
<rect x="23" y="973" width="1" height="12" fill="#0000ff"/>
<rect x="24" y="974" width="1" height="15" fill="#ff0000"/>
<rect x="25" y="970" width="1" height="13" fill="#0000ff"/>
<rect x="26" y="970" width="1" height="16" fill="#ff0000"/>
<rect x="27" y="957" width="1" height="22" fill="#ff0000"/>
<rect x="28" y="951" width="1" height="16" fill="#ff0000"/>
<rect x="29" y="933" width="1" height="26" fill="#ff0000"/>
<rect x="29" y="920" width="1" height="24" fill="#ff0000"/>
<rect x="30" y="920" width="1" height="16" fill="#ff0000"/>
<rect x="31" y="912" width="1" height="17" fill="#ff0000"/>
<rect x="32" y="899" width="1" height="20" fill="#ff0000"/>
<rect x="33" y="904" width="1" height="17" fill="#0000ff"/>
<rect x="34" y="900" width="1" height="28" fill="#ff0000"/>
<rect x="35" y="894" width="1" height="16" fill="#ff0000"/>
<rect x="35" y="878" width="1" height="23" fill="#ff0000"/>
<rect x="36" y="871" width="1" height="23" fill="#ff0000"/>
<rect x="37" y="868" width="1" height="17" fill="#ff0000"/>
<rect x="38" y="854" width="1" height="21" fill="#ff0000"/>
<rect x="39" y="853" width="1" height="9" fill="#ff0000"/>
<rect x="40" y="848" width="1" height="11" fill="#ff0000"/>
<rect x="41" y="847" width="1" height="17" fill="#ff0000"/>
<rect x="42" y="845" width="1" height="30" fill="#0000ff"/>
<rect x="42" y="865" width="1" height="23" fill="#0000ff"/>
<rect x="43" y="879" width="1" height="30" fill="#0000ff"/>
<rect x="44" y="901" width="1" height="24" fill="#0000ff"/>
<rect x="45" y="918" width="1" height="10" fill="#0000ff"/>
<rect x="46" y="920" width="1" height="20" fill="#0000ff"/>
<rect x="47" y="923" width="1" height="14" fill="#ff0000"/>
<rect x="48" y="913" width="1" height="23" fill="#ff0000"/>
<rect x="48" y="908" width="1" height="23" fill="#ff0000"/>
<rect x="49" y="908" width="1" height="14" fill="#0000ff"/>
<rect x="50" y="904" width="1" height="18" fill="#ff0000"/>
<rect x="51" y="905" width="1" height="12" fill="#0000ff"/>
<rect x="52" y="904" width="1" height="39" fill="#0000ff"/>
<rect x="53" y="926" width="1" height="25" fill="#0000ff"/>
<rect x="54" y="925" width="1" height="23" fill="#ff0000"/>
<rect x="54" y="908" width="1" height="25" fill="#ff0000"/>
<rect x="55" y="895" width="1" height="21" fill="#ff0000"/>
<rect x="56" y="890" width="1" height="18" fill="#ff0000"/>
<rect x="57" y="889" width="1" height="12" fill="#ff0000"/>
<rect x="58" y="887" width="1" height="10" fill="#ff0000"/>
<rect x="59" y="870" width="1" height="28" fill="#ff0000"/>
<rect x="60" y="871" width="1" height="33" fill="#0000ff"/>
<rect x="60" y="892" width="1" height="12" fill="#ff0000"/>
<rect x="61" y="882" width="1" height="22" fill="#ff0000"/>
<rect x="62" y="879" width="1" height="14" fill="#ff0000"/>
<rect x="63" y="880" width="1" height="18" fill="#0000ff"/>
<rect x="64" y="884" width="1" height="20" fill="#0000ff"/>
<rect x="65" y="895" width="1" height="17" fill="#0000ff"/>
<rect x="66" y="905" width="1" height="15" fill="#0000ff"/>
<rect x="66" y="895" width="1" height="25" fill="#ff0000"/>
<rect x="67" y="887" width="1" height="24" fill="#ff0000"/>
<rect x="68" y="884" width="1" height="20" fill="#ff0000"/>
<rect x="69" y="880" width="1" height="12" fill="#ff0000"/>
<rect x="70" y="874" width="1" height="13" fill="#ff0000"/>
<rect x="71" y="877" width="1" height="21" fill="#0000ff"/>
<rect x="72" y="876" width="1" height="20" fill="#ff0000"/>
<rect x="72" y="881" width="1" height="19" fill="#0000ff"/>
<rect x="73" y="885" width="1" height="16" fill="#0000ff"/>
<rect x="74" y="891" width="1" height="18" fill="#0000ff"/>
<rect x="75" y="902" width="1" height="19" fill="#0000ff"/>
<rect x="76" y="889" width="1" height="23" fill="#ff0000"/>
<rect x="77" y="892" width="1" height="13" fill="#0000ff"/>
<rect x="78" y="885" width="1" height="24" fill="#ff0000"/>
<rect x="78" y="885" width="1" height="13" fill="#ff0000"/>
<rect x="79" y="883" width="1" height="20" fill="#0000ff"/>
<rect x="80" y="887" width="1" height="17" fill="#ff0000"/>
<rect x="81" y="886" width="1" height="20" fill="#0000ff"/>
<rect x="82" y="888" width="1" height="33" fill="#0000ff"/>
<rect x="83" y="904" width="1" height="21" fill="#ff0000"/>
<rect x="84" y="912" width="1" height="38" fill="#0000ff"/>
<rect x="85" y="938" width="1" height="31" fill="#0000ff"/>
<rect x="85" y="960" width="1" height="22" fill="#0000ff"/>
<rect x="86" y="973" width="1" height="22" fill="#0000ff"/>
<rect x="87" y="985" width="1" height="24" fill="#0000ff"/>
<rect x="88" y="998" width="1" height="22" fill="#0000ff"/>
<rect x="89" y="1010" width="1" height="26" fill="#0000ff"/>
<rect x="90" y="1029" width="1" height="25" fill="#0000ff"/>
<rect x="91" y="1034" width="1" height="18" fill="#0000ff"/>
<rect x="91" y="1037" width="1" height="15" fill="#ff0000"/>
<rect x="92" y="1037" width="1" height="20" fill="#0000ff"/>
<rect x="93" y="1048" width="1" height="13" fill="#0000ff"/>
<rect x="94" y="1040" width="1" height="23" fill="#ff0000"/>
<rect x="95" y="1039" width="1" height="15" fill="#ff0000"/>
<rect x="96" y="1030" width="1" height="18" fill="#ff0000"/>
<rect x="97" y="1025" width="1" height="10" fill="#ff0000"/>
<rect x="97" y="1011" width="1" height="27" fill="#ff0000"/>
<rect x="98" y="1003" width="1" height="19" fill="#ff0000"/>
<rect x="99" y="1006" width="1" height="14" fill="#ff0000"/>
<rect x="100" y="998" width="1" height="19" fill="#0000ff"/>
<rect x="101" y="1002" width="1" height="14" fill="#ff0000"/>
<rect x="102" y="1001" width="1" height="21" fill="#0000ff"/>
<rect x="103" y="1007" width="1" height="14" fill="#0000ff"/>
<rect x="103" y="1014" width="1" height="10" fill="#0000ff"/>
<rect x="104" y="1017" width="1" height="10" fill="#ff0000"/>
<rect x="105" y="1017" width="1" height="12" fill="#0000ff"/>
<rect x="106" y="1013" width="1" height="19" fill="#ff0000"/>
<rect x="107" y="997" width="1" height="25" fill="#ff0000"/>
<rect x="108" y="984" width="1" height="27" fill="#ff0000"/>
<rect x="109" y="985" width="1" height="14" fill="#ff0000"/>
<rect x="109" y="983" width="1" height="9" fill="#ff0000"/>
<rect x="110" y="975" width="1" height="17" fill="#ff0000"/>
<rect x="111" y="965" width="1" height="19" fill="#ff0000"/>
<rect x="112" y="971" width="1" height="16" fill="#0000ff"/>
<rect x="113" y="964" width="1" height="22" fill="#ff0000"/>
<rect x="114" y="966" width="1" height="11" fill="#ff0000"/>
<rect x="115" y="967" width="1" height="10" fill="#0000ff"/>
<rect x="115" y="964" width="1" height="14" fill="#ff0000"/>
<rect x="116" y="964" width="1" height="12" fill="#0000ff"/>
<rect x="117" y="954" width="1" height="29" fill="#ff0000"/>
<rect x="118" y="955" width="1" height="16" fill="#0000ff"/>
<rect x="119" y="964" width="1" height="12" fill="#ff0000"/>
<rect x="120" y="958" width="1" height="11" fill="#ff0000"/>
<rect x="121" y="949" width="1" height="17" fill="#ff0000"/>
<rect x="121" y="931" width="1" height="25" fill="#ff0000"/>
<rect x="122" y="932" width="1" height="10" fill="#ff0000"/>
<rect x="123" y="930" width="1" height="14" fill="#0000ff"/>
<rect x="124" y="928" width="1" height="14" fill="#ff0000"/>
<rect x="125" y="932" width="1" height="19" fill="#0000ff"/>
<rect x="126" y="939" width="1" height="13" fill="#0000ff"/>
<rect x="127" y="942" width="1" height="21" fill="#0000ff"/>
<rect x="128" y="946" width="1" height="15" fill="#ff0000"/>
<rect x="128" y="944" width="1" height="13" fill="#0000ff"/>
<rect x="129" y="944" width="1" height="17" fill="#ff0000"/>
<rect x="130" y="941" width="1" height="17" fill="#ff0000"/>
<rect x="131" y="939" width="1" height="27" fill="#0000ff"/>
<rect x="132" y="952" width="1" height="20" fill="#0000ff"/>
<rect x="133" y="959" width="1" height="23" fill="#0000ff"/>
<rect x="134" y="976" width="1" height="16" fill="#0000ff"/>
<rect x="134" y="983" width="1" height="22" fill="#0000ff"/>
<rect x="135" y="993" width="1" height="13" fill="#ff0000"/>
<rect x="136" y="984" width="1" height="17" fill="#ff0000"/>
<rect x="137" y="955" width="1" height="42" fill="#ff0000"/>
<rect x="138" y="956" width="1" height="21" fill="#ff0000"/>
<rect x="139" y="956" width="1" height="8" fill="#0000ff"/>
<rect x="140" y="949" width="1" height="15" fill="#ff0000"/>
<rect x="140" y="945" width="1" height="10" fill="#ff0000"/>
<rect x="141" y="939" width="1" height="23" fill="#0000ff"/>
<rect x="142" y="935" width="1" height="26" fill="#ff0000"/>
<rect x="143" y="940" width="1" height="17" fill="#0000ff"/>
<rect x="144" y="951" width="1" height="16" fill="#0000ff"/>
<rect x="145" y="949" width="1" height="16" fill="#ff0000"/>
<rect x="146" y="947" width="1" height="15" fill="#ff0000"/>
<rect x="146" y="935" width="1" height="21" fill="#ff0000"/>
<rect x="147" y="927" width="1" height="18" fill="#ff0000"/>
<rect x="148" y="929" width="1" height="11" fill="#ff0000"/>
<rect x="149" y="929" width="1" height="10" fill="#0000ff"/>
<rect x="150" y="930" width="1" height="11" fill="#ff0000"/>
<rect x="151" y="926" width="1" height="19" fill="#0000ff"/>
<rect x="152" y="928" width="1" height="8" fill="#ff0000"/>
<rect x="152" y="927" width="1" height="18" fill="#0000ff"/>
<rect x="153" y="932" width="1" height="14" fill="#0000ff"/>
<rect x="154" y="936" width="1" height="25" fill="#0000ff"/>
<rect x="155" y="940" width="1" height="15" fill="#ff0000"/>
<rect x="156" y="941" width="1" height="12" fill="#ff0000"/>
<rect x="157" y="939" width="1" height="21" fill="#0000ff"/>
<rect x="158" y="949" width="1" height="20" fill="#0000ff"/>
<rect x="158" y="959" width="1" height="31" fill="#0000ff"/>
<rect x="159" y="976" width="1" height="16" fill="#ff0000"/>
<rect x="160" y="979" width="1" height="18" fill="#0000ff"/>
<rect x="161" y="987" width="1" height="27" fill="#0000ff"/>
<rect x="162" y="1007" width="1" height="13" fill="#0000ff"/>
<rect x="163" y="1001" width="1" height="16" fill="#ff0000"/>
<rect x="164" y="993" width="1" height="17" fill="#ff0000"/>
<rect x="165" y="993" width="1" height="14" fill="#0000ff"/>
<rect x="165" y="991" width="1" height="16" fill="#ff0000"/>
<rect x="166" y="980" width="1" height="22" fill="#ff0000"/>
<rect x="167" y="981" width="1" height="12" fill="#0000ff"/>
<rect x="168" y="983" width="1" height="16" fill="#0000ff"/>
<rect x="169" y="991" width="1" height="13" fill="#0000ff"/>
<rect x="170" y="990" width="1" height="20" fill="#ff0000"/>
<rect x="171" y="992" width="1" height="19" fill="#0000ff"/>
<rect x="171" y="990" width="1" height="17" fill="#ff0000"/>
<rect x="172" y="988" width="1" height="34" fill="#0000ff"/>
<rect x="173" y="1010" width="1" height="18" fill="#0000ff"/>
<rect x="174" y="1022" width="1" height="17" fill="#0000ff"/>
<rect x="175" y="1028" width="1" height="14" fill="#0000ff"/>
<rect x="176" y="1031" width="1" height="26" fill="#0000ff"/>
<rect x="177" y="1046" width="1" height="11" fill="#ff0000"/>
<rect x="177" y="1047" width="1" height="11" fill="#0000ff"/>
<rect x="178" y="1039" width="1" height="17" fill="#ff0000"/>
<rect x="179" y="1041" width="1" height="19" fill="#0000ff"/>
<rect x="180" y="1035" width="1" height="25" fill="#ff0000"/>
<rect x="181" y="1030" width="1" height="15" fill="#ff0000"/>
<rect x="182" y="1024" width="1" height="14" fill="#ff0000"/>
<rect x="183" y="1021" width="1" height="23" fill="#0000ff"/>
<rect x="183" y="1038" width="1" height="15" fill="#0000ff"/>
<rect x="184" y="1046" width="1" height="22" fill="#0000ff"/>
<rect x="185" y="1054" width="1" height="26" fill="#0000ff"/>
<rect x="186" y="1071" width="1" height="20" fill="#0000ff"/>
<rect x="187" y="1075" width="1" height="18" fill="#ff0000"/>
<rect x="188" y="1072" width="1" height="11" fill="#ff0000"/>
<rect x="189" y="1069" width="1" height="9" fill="#ff0000"/>
<rect x="189" y="1061" width="1" height="15" fill="#ff0000"/>
<rect x="190" y="1052" width="1" height="19" fill="#ff0000"/>
<rect x="191" y="1048" width="1" height="11" fill="#ff0000"/>
<rect x="192" y="1043" width="1" height="10" fill="#ff0000"/>
<rect x="193" y="1036" width="1" height="15" fill="#ff0000"/>
<rect x="194" y="1028" width="1" height="16" fill="#ff0000"/>
<rect x="195" y="1024" width="1" height="13" fill="#ff0000"/>
<rect x="195" y="1024" width="1" height="19" fill="#0000ff"/>
<rect x="196" y="1036" width="1" height="16" fill="#0000ff"/>
<rect x="197" y="1046" width="1" height="9" fill="#0000ff"/>
<rect x="198" y="1048" width="1" height="7" fill="#ff0000"/>
<rect x="199" y="1047" width="1" height="21" fill="#0000ff"/>
<rect x="200" y="1055" width="1" height="15" fill="#0000ff"/>
<rect x="201" y="1061" width="1" height="17" fill="#ff0000"/>
<rect x="201" y="1047" width="1" height="20" fill="#ff0000"/>
<rect x="202" y="1033" width="1" height="21" fill="#ff0000"/>
<rect x="203" y="1034" width="1" height="13" fill="#0000ff"/>
<rect x="204" y="1029" width="1" height="19" fill="#ff0000"/>
<rect x="205" y="1027" width="1" height="18" fill="#0000ff"/>
<rect x="206" y="1037" width="1" height="9" fill="#0000ff"/>
<rect x="207" y="1040" width="1" height="16" fill="#0000ff"/>
<rect x="208" y="1046" width="1" height="21" fill="#0000ff"/>
<rect x="208" y="1051" width="1" height="32" fill="#0000ff"/>
<rect x="209" y="1072" width="1" height="19" fill="#0000ff"/>
<rect x="210" y="1077" width="1" height="25" fill="#0000ff"/>
<rect x="211" y="1093" width="1" height="32" fill="#0000ff"/>
<rect x="212" y="1110" width="1" height="27" fill="#0000ff"/>
<rect x="213" y="1123" width="1" height="20" fill="#0000ff"/>
<rect x="214" y="1126" width="1" height="20" fill="#ff0000"/>
<rect x="214" y="1121" width="1" height="14" fill="#ff0000"/>
<rect x="215" y="1092" width="1" height="38" fill="#ff0000"/>
<rect x="216" y="1095" width="1" height="22" fill="#0000ff"/>
<rect x="217" y="1103" width="1" height="11" fill="#ff0000"/>
<rect x="218" y="1102" width="1" height="18" fill="#0000ff"/>
<rect x="219" y="1111" width="1" height="30" fill="#0000ff"/>
<rect x="220" y="1136" width="1" height="21" fill="#0000ff"/>
<rect x="220" y="1151" width="1" height="15" fill="#0000ff"/>
<rect x="221" y="1147" width="1" height="20" fill="#ff0000"/>
<rect x="222" y="1134" width="1" height="29" fill="#ff0000"/>
<rect x="223" y="1123" width="1" height="25" fill="#ff0000"/>
<rect x="224" y="1112" width="1" height="22" fill="#ff0000"/>
<rect x="225" y="1100" width="1" height="30" fill="#ff0000"/>
<rect x="226" y="1098" width="1" height="16" fill="#ff0000"/>
<rect x="226" y="1090" width="1" height="20" fill="#ff0000"/>
<rect x="227" y="1082" width="1" height="19" fill="#ff0000"/>
<rect x="228" y="1073" width="1" height="16" fill="#ff0000"/>
<rect x="229" y="1071" width="1" height="9" fill="#ff0000"/>
<rect x="230" y="1060" width="1" height="23" fill="#ff0000"/>
<rect x="231" y="1056" width="1" height="11" fill="#ff0000"/>
<rect x="232" y="1042" width="1" height="18" fill="#ff0000"/>
<rect x="232" y="1045" width="1" height="8" fill="#0000ff"/>
<rect x="233" y="1049" width="1" height="10" fill="#0000ff"/>
<rect x="234" y="1052" width="1" height="14" fill="#0000ff"/>
<rect x="235" y="1055" width="1" height="10" fill="#ff0000"/>
<rect x="236" y="1054" width="1" height="16" fill="#0000ff"/>
<rect x="237" y="1057" width="1" height="17" fill="#0000ff"/>
<rect x="238" y="1060" width="1" height="19" fill="#0000ff"/>
<rect x="238" y="1061" width="1" height="18" fill="#ff0000"/>
<rect x="239" y="1063" width="1" height="15" fill="#0000ff"/>
<rect x="240" y="1057" width="1" height="23" fill="#ff0000"/>
<rect x="241" y="1054" width="1" height="11" fill="#ff0000"/>
<rect x="242" y="1046" width="1" height="16" fill="#ff0000"/>
<rect x="243" y="1040" width="1" height="32" fill="#0000ff"/>
<rect x="244" y="1062" width="1" height="17" fill="#0000ff"/>
<rect x="244" y="1070" width="1" height="12" fill="#0000ff"/>
<rect x="245" y="1062" width="1" height="20" fill="#ff0000"/>
<rect x="246" y="1056" width="1" height="23" fill="#ff0000"/>
<rect x="247" y="1047" width="1" height="17" fill="#ff0000"/>
<rect x="248" y="1040" width="1" height="19" fill="#ff0000"/>
<rect x="249" y="1030" width="1" height="19" fill="#ff0000"/>
<rect x="250" y="1030" width="1" height="12" fill="#0000ff"/>
<rect x="251" y="1024" width="1" height="19" fill="#ff0000"/>
<rect x="251" y="1025" width="1" height="19" fill="#ff0000"/>
<rect x="252" y="1028" width="1" height="19" fill="#0000ff"/>
<rect x="253" y="1028" width="1" height="15" fill="#ff0000"/>
<rect x="254" y="1030" width="1" height="12" fill="#ff0000"/>
<rect x="255" y="1029" width="1" height="8" fill="#ff0000"/>
<rect x="256" y="1025" width="1" height="10" fill="#ff0000"/>
<rect x="257" y="1019" width="1" height="14" fill="#ff0000"/>
<rect x="257" y="1020" width="1" height="18" fill="#0000ff"/>
<rect x="258" y="1027" width="1" height="11" fill="#ff0000"/>
<rect x="259" y="1020" width="1" height="19" fill="#ff0000"/>
<rect x="260" y="1016" width="1" height="20" fill="#ff0000"/>
<rect x="261" y="1012" width="1" height="18" fill="#ff0000"/>
<rect x="262" y="1002" width="1" height="16" fill="#ff0000"/>
<rect x="263" y="997" width="1" height="24" fill="#0000ff"/>
<rect x="263" y="1014" width="1" height="17" fill="#0000ff"/>
<rect x="264" y="1017" width="1" height="21" fill="#0000ff"/>
<rect x="265" y="1023" width="1" height="15" fill="#ff0000"/>
<rect x="266" y="1024" width="1" height="18" fill="#0000ff"/>
<rect x="267" y="1035" width="1" height="11" fill="#0000ff"/>
<rect x="268" y="1029" width="1" height="21" fill="#ff0000"/>
<rect x="269" y="1033" width="1" height="9" fill="#ff0000"/>
<rect x="269" y="1025" width="1" height="18" fill="#ff0000"/>
<rect x="270" y="1023" width="1" height="18" fill="#0000ff"/>
<rect x="271" y="1026" width="1" height="17" fill="#ff0000"/>
<rect x="272" y="1019" width="1" height="20" fill="#ff0000"/>
<rect x="273" y="1012" width="1" height="27" fill="#ff0000"/>
<rect x="274" y="1011" width="1" height="15" fill="#0000ff"/>
<rect x="275" y="1002" width="1" height="22" fill="#ff0000"/>
<rect x="275" y="998" width="1" height="28" fill="#0000ff"/>
<rect x="276" y="1010" width="1" height="14" fill="#0000ff"/>
<rect x="277" y="1015" width="1" height="19" fill="#0000ff"/>
<rect x="278" y="1024" width="1" height="19" fill="#0000ff"/>
<rect x="279" y="1019" width="1" height="22" fill="#ff0000"/>
<rect x="280" y="1026" width="1" height="12" fill="#0000ff"/>
<rect x="281" y="1018" width="1" height="19" fill="#ff0000"/>
<rect x="281" y="1018" width="1" height="12" fill="#0000ff"/>
<rect x="282" y="1016" width="1" height="15" fill="#ff0000"/>
<rect x="283" y="1014" width="1" height="11" fill="#0000ff"/>
<rect x="284" y="1014" width="1" height="13" fill="#ff0000"/>
<rect x="285" y="1010" width="1" height="11" fill="#0000ff"/>
<rect x="286" y="1007" width="1" height="17" fill="#ff0000"/>
<rect x="287" y="1001" width="1" height="16" fill="#ff0000"/>
<rect x="287" y="1003" width="1" height="12" fill="#0000ff"/>
<rect x="288" y="1004" width="1" height="20" fill="#0000ff"/>
<rect x="289" y="1016" width="1" height="12" fill="#0000ff"/>
<rect x="290" y="1013" width="1" height="17" fill="#0000ff"/>
<rect x="291" y="1021" width="1" height="8" fill="#ff0000"/>
<rect x="292" y="1018" width="1" height="24" fill="#0000ff"/>
<rect x="293" y="1030" width="1" height="22" fill="#0000ff"/>
<rect x="294" y="1040" width="1" height="21" fill="#0000ff"/>
<rect x="294" y="1045" width="1" height="14" fill="#ff0000"/>
<rect x="295" y="1025" width="1" height="27" fill="#ff0000"/>
<rect x="296" y="1021" width="1" height="19" fill="#ff0000"/>
<rect x="297" y="1007" width="1" height="23" fill="#ff0000"/>
<rect x="298" y="989" width="1" height="27" fill="#ff0000"/>
<rect x="299" y="974" width="1" height="23" fill="#ff0000"/>
<rect x="300" y="971" width="1" height="19" fill="#ff0000"/>
<rect x="300" y="975" width="1" height="27" fill="#0000ff"/>
<rect x="301" y="985" width="1" height="12" fill="#ff0000"/>
<rect x="302" y="986" width="1" height="10" fill="#ff0000"/>
<rect x="303" y="984" width="1" height="16" fill="#0000ff"/>
<rect x="304" y="989" width="1" height="22" fill="#0000ff"/>
<rect x="305" y="996" width="1" height="26" fill="#0000ff"/>
<rect x="306" y="1012" width="1" height="10" fill="#0000ff"/>
<rect x="306" y="1011" width="1" height="17" fill="#0000ff"/>
<rect x="307" y="1020" width="1" height="14" fill="#0000ff"/>
<rect x="308" y="1027" width="1" height="15" fill="#0000ff"/>
<rect x="309" y="1017" width="1" height="18" fill="#ff0000"/>
<rect x="310" y="1010" width="1" height="23" fill="#ff0000"/>
<rect x="311" y="1010" width="1" height="12" fill="#ff0000"/>
<rect x="312" y="997" width="1" height="25" fill="#ff0000"/>
<rect x="312" y="992" width="1" height="17" fill="#ff0000"/>
<rect x="313" y="987" width="1" height="14" fill="#ff0000"/>
<rect x="314" y="981" width="1" height="21" fill="#0000ff"/>
<rect x="315" y="991" width="1" height="10" fill="#0000ff"/>
<rect x="316" y="987" width="1" height="14" fill="#ff0000"/>
<rect x="317" y="986" width="1" height="15" fill="#ff0000"/>
<rect x="318" y="979" width="1" height="15" fill="#ff0000"/>
<rect x="318" y="967" width="1" height="19" fill="#ff0000"/>
<rect x="319" y="956" width="1" height="26" fill="#ff0000"/>
<rect x="320" y="948" width="1" height="18" fill="#ff0000"/>
<rect x="321" y="944" width="1" height="24" fill="#0000ff"/>
<rect x="322" y="955" width="1" height="21" fill="#0000ff"/>
<rect x="323" y="967" width="1" height="20" fill="#0000ff"/>
<rect x="324" y="978" width="1" height="14" fill="#0000ff"/>
<rect x="324" y="985" width="1" height="29" fill="#0000ff"/>
<rect x="325" y="1004" width="1" height="37" fill="#0000ff"/>
<rect x="326" y="1031" width="1" height="29" fill="#0000ff"/>
<rect x="327" y="1056" width="1" height="21" fill="#0000ff"/>
<rect x="328" y="1071" width="1" height="28" fill="#0000ff"/>
<rect x="329" y="1082" width="1" height="40" fill="#0000ff"/>
<rect x="330" y="1115" width="1" height="21" fill="#0000ff"/>
<rect x="330" y="1110" width="1" height="26" fill="#ff0000"/>
<rect x="331" y="1108" width="1" height="20" fill="#0000ff"/>
<rect x="332" y="1120" width="1" height="10" fill="#ff0000"/>
<rect x="333" y="1112" width="1" height="13" fill="#ff0000"/>
<rect x="334" y="1084" width="1" height="41" fill="#ff0000"/>
<rect x="335" y="1064" width="1" height="40" fill="#ff0000"/>
<rect x="336" y="1032" width="1" height="42" fill="#ff0000"/>
<rect x="337" y="1007" width="1" height="32" fill="#ff0000"/>
<rect x="337" y="993" width="1" height="26" fill="#ff0000"/>
<rect x="338" y="972" width="1" height="30" fill="#ff0000"/>
<rect x="339" y="974" width="1" height="21" fill="#0000ff"/>
<rect x="340" y="984" width="1" height="35" fill="#0000ff"/>
<rect x="341" y="1009" width="1" height="37" fill="#0000ff"/>
<rect x="342" y="1037" width="1" height="30" fill="#0000ff"/>
<rect x="343" y="1055" width="1" height="23" fill="#0000ff"/>
<rect x="343" y="1063" width="1" height="17" fill="#ff0000"/>
<rect x="344" y="1040" width="1" height="30" fill="#ff0000"/>
<rect x="345" y="1018" width="1" height="29" fill="#ff0000"/>
<rect x="346" y="1011" width="1" height="14" fill="#ff0000"/>
<rect x="347" y="1011" width="1" height="20" fill="#0000ff"/>
<rect x="348" y="1013" width="1" height="24" fill="#0000ff"/>
<rect x="349" y="1028" width="1" height="18" fill="#0000ff"/>
<rect x="349" y="1037" width="1" height="17" fill="#0000ff"/>
<rect x="350" y="1045" width="1" height="15" fill="#0000ff"/>
<rect x="351" y="1053" width="1" height="20" fill="#0000ff"/>
<rect x="352" y="1059" width="1" height="15" fill="#ff0000"/>
<rect x="353" y="1056" width="1" height="11" fill="#ff0000"/>
<rect x="354" y="1042" width="1" height="22" fill="#ff0000"/>
<rect x="355" y="1046" width="1" height="12" fill="#0000ff"/>
<rect x="355" y="1053" width="1" height="13" fill="#0000ff"/>
<rect x="356" y="1058" width="1" height="20" fill="#0000ff"/>
<rect x="357" y="1067" width="1" height="22" fill="#0000ff"/>
<rect x="358" y="1085" width="1" height="16" fill="#0000ff"/>
<rect x="359" y="1088" width="1" height="10" fill="#ff0000"/>
<rect x="360" y="1080" width="1" height="15" fill="#ff0000"/>
<rect x="361" y="1077" width="1" height="13" fill="#0000ff"/>
<rect x="361" y="1076" width="1" height="12" fill="#ff0000"/>
<rect x="362" y="1068" width="1" height="16" fill="#ff0000"/>
<rect x="363" y="1072" width="1" height="10" fill="#0000ff"/>
<rect x="364" y="1061" width="1" height="18" fill="#ff0000"/>
<rect x="365" y="1059" width="1" height="14" fill="#ff0000"/>
<rect x="366" y="1054" width="1" height="27" fill="#0000ff"/>
<rect x="367" y="1072" width="1" height="27" fill="#0000ff"/>
<rect x="367" y="1083" width="1" height="16" fill="#ff0000"/>
<rect x="368" y="1077" width="1" height="17" fill="#ff0000"/>
<rect x="369" y="1056" width="1" height="28" fill="#ff0000"/>
<rect x="370" y="1058" width="1" height="13" fill="#ff0000"/>
<rect x="371" y="1050" width="1" height="17" fill="#ff0000"/>
<rect x="372" y="1052" width="1" height="11" fill="#ff0000"/>
<rect x="373" y="1054" width="1" height="10" fill="#0000ff"/>
<rect x="373" y="1053" width="1" height="13" fill="#ff0000"/>
<rect x="374" y="1054" width="1" height="12" fill="#0000ff"/>
<rect x="375" y="1046" width="1" height="22" fill="#ff0000"/>
<rect x="376" y="1050" width="1" height="9" fill="#ff0000"/>
<rect x="377" y="1036" width="1" height="26" fill="#ff0000"/>
<rect x="378" y="1034" width="1" height="13" fill="#ff0000"/>
<rect x="379" y="1036" width="1" height="6" fill="#0000ff"/>
<rect x="380" y="1026" width="1" height="17" fill="#ff0000"/>
<rect x="380" y="1024" width="1" height="25" fill="#0000ff"/>
<rect x="381" y="1038" width="1" height="22" fill="#0000ff"/>
<rect x="382" y="1049" width="1" height="13" fill="#0000ff"/>
<rect x="383" y="1053" width="1" height="26" fill="#0000ff"/>
<rect x="384" y="1066" width="1" height="21" fill="#ff0000"/>
<rect x="385" y="1068" width="1" height="12" fill="#0000ff"/>
<rect x="386" y="1065" width="1" height="13" fill="#ff0000"/>
<rect x="386" y="1062" width="1" height="13" fill="#0000ff"/>
<rect x="387" y="1069" width="1" height="18" fill="#0000ff"/>
<rect x="388" y="1078" width="1" height="11" fill="#0000ff"/>
<rect x="389" y="1083" width="1" height="10" fill="#0000ff"/>
<rect x="390" y="1073" width="1" height="21" fill="#ff0000"/>
<rect x="391" y="1065" width="1" height="20" fill="#ff0000"/>
<rect x="392" y="1065" width="1" height="16" fill="#ff0000"/>
<rect x="392" y="1053" width="1" height="21" fill="#ff0000"/>
<rect x="393" y="1052" width="1" height="13" fill="#0000ff"/>
<rect x="394" y="1059" width="1" height="17" fill="#0000ff"/>
<rect x="395" y="1061" width="1" height="17" fill="#0000ff"/>
<rect x="396" y="1063" width="1" height="20" fill="#0000ff"/>
<rect x="397" y="1072" width="1" height="14" fill="#0000ff"/>
<rect x="398" y="1078" width="1" height="16" fill="#0000ff"/>
<rect x="398" y="1087" width="1" height="21" fill="#0000ff"/>
<rect x="399" y="1079" width="1" height="25" fill="#ff0000"/>
<rect x="400" y="1071" width="1" height="23" fill="#ff0000"/>
<rect x="401" y="1073" width="1" height="11" fill="#0000ff"/>
<rect x="402" y="1072" width="1" height="15" fill="#ff0000"/>
<rect x="403" y="1065" width="1" height="17" fill="#ff0000"/>
<rect x="404" y="1069" width="1" height="16" fill="#0000ff"/>
<rect x="404" y="1074" width="1" height="14" fill="#0000ff"/>
<rect x="405" y="1074" width="1" height="18" fill="#0000ff"/>
<rect x="406" y="1080" width="1" height="12" fill="#ff0000"/>
<rect x="407" y="1080" width="1" height="12" fill="#0000ff"/>
<rect x="408" y="1084" width="1" height="13" fill="#0000ff"/>
<rect x="409" y="1092" width="1" height="9" fill="#0000ff"/>
<rect x="410" y="1096" width="1" height="28" fill="#0000ff"/>
<rect x="410" y="1115" width="1" height="23" fill="#0000ff"/>
<rect x="411" y="1131" width="1" height="31" fill="#0000ff"/>
<rect x="412" y="1155" width="1" height="7" fill="#ff0000"/>
<rect x="413" y="1143" width="1" height="25" fill="#ff0000"/>
<rect x="414" y="1133" width="1" height="20" fill="#ff0000"/>
<rect x="415" y="1122" width="1" height="16" fill="#ff0000"/>
<rect x="416" y="1097" width="1" height="31" fill="#ff0000"/>
<rect x="416" y="1093" width="1" height="16" fill="#ff0000"/>
<rect x="417" y="1086" width="1" height="14" fill="#ff0000"/>
<rect x="418" y="1085" width="1" height="22" fill="#0000ff"/>
<rect x="419" y="1094" width="1" height="8" fill="#0000ff"/>
<rect x="420" y="1097" width="1" height="7" fill="#0000ff"/>
<rect x="421" y="1091" width="1" height="31" fill="#0000ff"/>
<rect x="422" y="1111" width="1" height="20" fill="#0000ff"/>
<rect x="423" y="1117" width="1" height="17" fill="#0000ff"/>
<rect x="423" y="1113" width="1" height="28" fill="#ff0000"/>
<rect x="424" y="1109" width="1" height="17" fill="#0000ff"/>
<rect x="425" y="1109" width="1" height="21" fill="#ff0000"/>
<rect x="426" y="1108" width="1" height="11" fill="#0000ff"/>
<rect x="427" y="1111" width="1" height="19" fill="#0000ff"/>
<rect x="428" y="1118" width="1" height="14" fill="#0000ff"/>
<rect x="429" y="1115" width="1" height="23" fill="#ff0000"/>
<rect x="429" y="1110" width="1" height="13" fill="#ff0000"/>
<rect x="430" y="1110" width="1" height="15" fill="#0000ff"/>
<rect x="431" y="1100" width="1" height="19" fill="#ff0000"/>
<rect x="432" y="1099" width="1" height="14" fill="#0000ff"/>
<rect x="433" y="1104" width="1" height="9" fill="#ff0000"/>
<rect x="434" y="1101" width="1" height="18" fill="#0000ff"/>
<rect x="435" y="1112" width="1" height="13" fill="#0000ff"/>
<rect x="435" y="1117" width="1" height="12" fill="#0000ff"/>
<rect x="436" y="1124" width="1" height="21" fill="#0000ff"/>
<rect x="437" y="1135" width="1" height="18" fill="#0000ff"/>
<rect x="438" y="1137" width="1" height="18" fill="#0000ff"/>
<rect x="439" y="1141" width="1" height="14" fill="#ff0000"/>
<rect x="440" y="1134" width="1" height="22" fill="#ff0000"/>
<rect x="441" y="1138" width="1" height="16" fill="#0000ff"/>
<rect x="441" y="1128" width="1" height="26" fill="#ff0000"/>
<rect x="442" y="1127" width="1" height="16" fill="#0000ff"/>
<rect x="443" y="1126" width="1" height="15" fill="#ff0000"/>
<rect x="444" y="1121" width="1" height="14" fill="#ff0000"/>
<rect x="445" y="1119" width="1" height="18" fill="#ff0000"/>
<rect x="446" y="1113" width="1" height="15" fill="#ff0000"/>
<rect x="447" y="1116" width="1" height="17" fill="#0000ff"/>
<rect x="447" y="1123" width="1" height="12" fill="#0000ff"/>
<rect x="448" y="1125" width="1" height="14" fill="#ff0000"/>
<rect x="449" y="1123" width="1" height="15" fill="#ff0000"/>
<rect x="450" y="1112" width="1" height="25" fill="#ff0000"/>
<rect x="451" y="1113" width="1" height="26" fill="#0000ff"/>
<rect x="452" y="1129" width="1" height="14" fill="#0000ff"/>
<rect x="453" y="1124" width="1" height="18" fill="#ff0000"/>
<rect x="453" y="1129" width="1" height="10" fill="#0000ff"/>
<rect x="454" y="1131" width="1" height="11" fill="#0000ff"/>
<rect x="455" y="1131" width="1" height="16" fill="#0000ff"/>
<rect x="456" y="1135" width="1" height="15" fill="#ff0000"/>
<rect x="457" y="1138" width="1" height="17" fill="#0000ff"/>
<rect x="458" y="1146" width="1" height="20" fill="#0000ff"/>
<rect x="459" y="1154" width="1" height="9" fill="#0000ff"/>
<rect x="459" y="1155" width="1" height="16" fill="#0000ff"/>
<rect x="460" y="1158" width="1" height="12" fill="#ff0000"/>
<rect x="461" y="1154" width="1" height="19" fill="#0000ff"/>
<rect x="462" y="1165" width="1" height="10" fill="#ff0000"/>
<rect x="463" y="1143" width="1" height="33" fill="#ff0000"/>
<rect x="464" y="1140" width="1" height="14" fill="#ff0000"/>
<rect x="465" y="1140" width="1" height="14" fill="#0000ff"/>
<rect x="466" y="1141" width="1" height="8" fill="#ff0000"/>
<rect x="466" y="1140" width="1" height="11" fill="#0000ff"/>
<rect x="467" y="1140" width="1" height="10" fill="#ff0000"/>
<rect x="468" y="1138" width="1" height="12" fill="#0000ff"/>
<rect x="469" y="1137" width="1" height="14" fill="#ff0000"/>
<rect x="470" y="1135" width="1" height="14" fill="#0000ff"/>
<rect x="471" y="1143" width="1" height="21" fill="#0000ff"/>
<rect x="472" y="1156" width="1" height="13" fill="#0000ff"/>
<rect x="472" y="1162" width="1" height="22" fill="#0000ff"/>
<rect x="473" y="1168" width="1" height="17" fill="#0000ff"/>
<rect x="474" y="1167" width="1" height="19" fill="#ff0000"/>
<rect x="475" y="1159" width="1" height="18" fill="#ff0000"/>
<rect x="476" y="1152" width="1" height="18" fill="#ff0000"/>
<rect x="477" y="1152" width="1" height="12" fill="#ff0000"/>
<rect x="478" y="1146" width="1" height="25" fill="#0000ff"/>
<rect x="478" y="1163" width="1" height="18" fill="#0000ff"/>
<rect x="479" y="1168" width="1" height="12" fill="#0000ff"/>
<rect x="480" y="1170" width="1" height="9" fill="#ff0000"/>
<rect x="481" y="1166" width="1" height="10" fill="#ff0000"/>
<rect x="482" y="1160" width="1" height="20" fill="#ff0000"/>
<rect x="483" y="1164" width="1" height="14" fill="#0000ff"/>
<rect x="484" y="1163" width="1" height="15" fill="#ff0000"/>
<rect x="484" y="1158" width="1" height="20" fill="#ff0000"/>
<rect x="485" y="1148" width="1" height="21" fill="#ff0000"/>
<rect x="486" y="1153" width="1" height="20" fill="#0000ff"/>
<rect x="487" y="1164" width="1" height="14" fill="#0000ff"/>
<rect x="488" y="1174" width="1" height="15" fill="#0000ff"/>
<rect x="489" y="1181" width="1" height="18" fill="#0000ff"/>
<rect x="490" y="1193" width="1" height="20" fill="#0000ff"/>
<rect x="490" y="1198" width="1" height="13" fill="#ff0000"/>
<rect x="491" y="1188" width="1" height="24" fill="#ff0000"/>
<rect x="492" y="1170" width="1" height="32" fill="#ff0000"/>
<rect x="493" y="1177" width="1" height="11" fill="#0000ff"/>
<rect x="494" y="1177" width="1" height="23" fill="#0000ff"/>
<rect x="495" y="1186" width="1" height="21" fill="#0000ff"/>
<rect x="496" y="1191" width="1" height="9" fill="#ff0000"/>
<rect x="496" y="1191" width="1" height="22" fill="#0000ff"/>
<rect x="497" y="1204" width="1" height="17" fill="#0000ff"/>
<rect x="498" y="1210" width="1" height="12" fill="#0000ff"/>
<rect x="499" y="1205" width="1" height="18" fill="#ff0000"/>
<rect x="500" y="1189" width="1" height="31" fill="#ff0000"/>
<rect x="501" y="1168" width="1" height="31" fill="#ff0000"/>
<rect x="502" y="1167" width="1" height="12" fill="#ff0000"/>
<rect x="502" y="1160" width="1" height="22" fill="#0000ff"/>
<rect x="503" y="1170" width="1" height="12" fill="#0000ff"/>
<rect x="504" y="1172" width="1" height="11" fill="#ff0000"/>
<rect x="505" y="1172" width="1" height="15" fill="#0000ff"/>
<rect x="506" y="1175" width="1" height="16" fill="#0000ff"/>
<rect x="507" y="1185" width="1" height="8" fill="#0000ff"/>
<rect x="508" y="1188" width="1" height="8" fill="#0000ff"/>
<rect x="509" y="1188" width="1" height="13" fill="#0000ff"/>
<rect x="509" y="1175" width="1" height="29" fill="#ff0000"/>
<rect x="510" y="1178" width="1" height="10" fill="#ff0000"/>
<rect x="511" y="1164" width="1" height="21" fill="#ff0000"/>
<rect x="512" y="1160" width="1" height="13" fill="#ff0000"/>
<rect x="513" y="1155" width="1" height="15" fill="#ff0000"/>
<rect x="514" y="1139" width="1" height="23" fill="#ff0000"/>
<rect x="515" y="1136" width="1" height="17" fill="#ff0000"/>
<rect x="515" y="1124" width="1" height="23" fill="#ff0000"/>
<rect x="516" y="1125" width="1" height="22" fill="#0000ff"/>
<rect x="517" y="1141" width="1" height="12" fill="#0000ff"/>
<rect x="518" y="1141" width="1" height="26" fill="#0000ff"/>
<rect x="519" y="1146" width="1" height="23" fill="#ff0000"/>
<rect x="520" y="1138" width="1" height="17" fill="#ff0000"/>
<rect x="521" y="1131" width="1" height="13" fill="#ff0000"/>
<rect x="521" y="1126" width="1" height="14" fill="#ff0000"/>
<rect x="522" y="1124" width="1" height="15" fill="#0000ff"/>
<rect x="523" y="1122" width="1" height="13" fill="#ff0000"/>
<rect x="524" y="1126" width="1" height="10" fill="#0000ff"/>
<rect x="525" y="1123" width="1" height="13" fill="#ff0000"/>
<rect x="526" y="1119" width="1" height="11" fill="#ff0000"/>
<rect x="527" y="1116" width="1" height="11" fill="#ff0000"/>
<rect x="527" y="1113" width="1" height="10" fill="#ff0000"/>
<rect x="528" y="1099" width="1" height="20" fill="#ff0000"/>
<rect x="529" y="1083" width="1" height="24" fill="#ff0000"/>
<rect x="530" y="1059" width="1" height="35" fill="#ff0000"/>
<rect x="531" y="1043" width="1" height="32" fill="#ff0000"/>
<rect x="532" y="1023" width="1" height="26" fill="#ff0000"/>
<rect x="533" y="1022" width="1" height="16" fill="#0000ff"/>
<rect x="533" y="1021" width="1" height="19" fill="#0000ff"/>
<rect x="534" y="1013" width="1" height="27" fill="#ff0000"/>
<rect x="535" y="1012" width="1" height="16" fill="#ff0000"/>
<rect x="536" y="1015" width="1" height="12" fill="#0000ff"/>
<rect x="537" y="1021" width="1" height="10" fill="#0000ff"/>
<rect x="538" y="1023" width="1" height="15" fill="#0000ff"/>
<rect x="539" y="1029" width="1" height="12" fill="#0000ff"/>
<rect x="539" y="1022" width="1" height="19" fill="#ff0000"/>
<rect x="540" y="1017" width="1" height="17" fill="#0000ff"/>
<rect x="541" y="1018" width="1" height="21" fill="#ff0000"/>
<rect x="542" y="1011" width="1" height="17" fill="#ff0000"/>
<rect x="543" y="1000" width="1" height="21" fill="#ff0000"/>
<rect x="544" y="992" width="1" height="20" fill="#ff0000"/>
<rect x="545" y="987" width="1" height="16" fill="#ff0000"/>
<rect x="545" y="978" width="1" height="19" fill="#ff0000"/>
<rect x="546" y="972" width="1" height="24" fill="#ff0000"/>
<rect x="547" y="974" width="1" height="12" fill="#0000ff"/>
<rect x="548" y="970" width="1" height="19" fill="#ff0000"/>
<rect x="549" y="970" width="1" height="28" fill="#0000ff"/>
<rect x="550" y="986" width="1" height="19" fill="#0000ff"/>
<rect x="551" y="999" width="1" height="11" fill="#0000ff"/>
<rect x="552" y="1000" width="1" height="17" fill="#0000ff"/>
<rect x="552" y="1006" width="1" height="25" fill="#0000ff"/>
<rect x="553" y="1017" width="1" height="15" fill="#0000ff"/>
<rect x="554" y="1023" width="1" height="16" fill="#0000ff"/>
<rect x="555" y="1029" width="1" height="23" fill="#0000ff"/>
<rect x="556" y="1032" width="1" height="15" fill="#ff0000"/>
<rect x="557" y="1030" width="1" height="20" fill="#0000ff"/>
<rect x="558" y="1034" width="1" height="12" fill="#ff0000"/>
<rect x="558" y="1035" width="1" height="18" fill="#0000ff"/>
<rect x="559" y="1046" width="1" height="13" fill="#0000ff"/>
<rect x="560" y="1043" width="1" height="24" fill="#ff0000"/>
<rect x="561" y="1033" width="1" height="23" fill="#ff0000"/>
<rect x="562" y="1030" width="1" height="17" fill="#ff0000"/>
<rect x="563" y="1018" width="1" height="20" fill="#ff0000"/>
<rect x="564" y="1021" width="1" height="16" fill="#0000ff"/>
<rect x="564" y="1021" width="1" height="13" fill="#ff0000"/>
<rect x="565" y="1018" width="1" height="12" fill="#ff0000"/>
<rect x="566" y="1016" width="1" height="17" fill="#0000ff"/>
<rect x="567" y="1019" width="1" height="19" fill="#0000ff"/>
<rect x="568" y="1022" width="1" height="22" fill="#0000ff"/>
<rect x="569" y="1022" width="1" height="27" fill="#ff0000"/>
<rect x="570" y="1013" width="1" height="17" fill="#ff0000"/>
<rect x="570" y="1003" width="1" height="22" fill="#ff0000"/>
<rect x="571" y="1005" width="1" height="21" fill="#0000ff"/>
<rect x="572" y="1016" width="1" height="9" fill="#ff0000"/>
<rect x="573" y="1016" width="1" height="14" fill="#0000ff"/>
<rect x="574" y="1018" width="1" height="23" fill="#0000ff"/>
<rect x="575" y="1025" width="1" height="19" fill="#ff0000"/>
<rect x="576" y="1022" width="1" height="10" fill="#ff0000"/>
<rect x="576" y="1009" width="1" height="21" fill="#ff0000"/>
<rect x="577" y="1000" width="1" height="18" fill="#ff0000"/>
<rect x="578" y="998" width="1" height="10" fill="#ff0000"/>
<rect x="579" y="997" width="1" height="9" fill="#ff0000"/>
<rect x="580" y="988" width="1" height="19" fill="#ff0000"/>
<rect x="581" y="992" width="1" height="18" fill="#0000ff"/>
<rect x="582" y="998" width="1" height="19" fill="#ff0000"/>
<rect x="582" y="997" width="1" height="14" fill="#ff0000"/>
<rect x="583" y="998" width="1" height="15" fill="#0000ff"/>
<rect x="584" y="1002" width="1" height="9" fill="#0000ff"/>
<rect x="585" y="992" width="1" height="20" fill="#ff0000"/>
<rect x="586" y="988" width="1" height="16" fill="#ff0000"/>
<rect x="587" y="989" width="1" height="11" fill="#ff0000"/>
<rect x="588" y="981" width="1" height="15" fill="#ff0000"/>
<rect x="588" y="973" width="1" height="20" fill="#ff0000"/>
<rect x="589" y="972" width="1" height="11" fill="#0000ff"/>
<rect x="590" y="975" width="1" height="18" fill="#0000ff"/>
<rect x="591" y="968" width="1" height="23" fill="#ff0000"/>
<rect x="592" y="964" width="1" height="13" fill="#ff0000"/>
<rect x="593" y="965" width="1" height="10" fill="#0000ff"/>
<rect x="594" y="963" width="1" height="13" fill="#ff0000"/>
<rect x="595" y="962" width="1" height="17" fill="#0000ff"/>
<rect x="595" y="964" width="1" height="13" fill="#ff0000"/>
<rect x="596" y="964" width="1" height="12" fill="#0000ff"/>
<rect x="597" y="966" width="1" height="17" fill="#0000ff"/>
<rect x="598" y="963" width="1" height="19" fill="#ff0000"/>
<rect x="599" y="964" width="1" height="24" fill="#0000ff"/>
<rect x="600" y="976" width="1" height="12" fill="#0000ff"/>
<rect x="601" y="971" width="1" height="17" fill="#ff0000"/>
<rect x="601" y="977" width="1" height="14" fill="#ff0000"/>
<rect x="602" y="976" width="1" height="9" fill="#0000ff"/>
<rect x="603" y="972" width="1" height="16" fill="#0000ff"/>
<rect x="604" y="979" width="1" height="19" fill="#0000ff"/>
<rect x="605" y="976" width="1" height="19" fill="#ff0000"/>
<rect x="606" y="976" width="1" height="20" fill="#ff0000"/>
<rect x="607" y="980" width="1" height="18" fill="#0000ff"/>
<rect x="607" y="989" width="1" height="13" fill="#0000ff"/>
<rect x="608" y="994" width="1" height="12" fill="#0000ff"/>
<rect x="609" y="997" width="1" height="12" fill="#0000ff"/>
<rect x="610" y="991" width="1" height="19" fill="#ff0000"/>
<rect x="611" y="992" width="1" height="16" fill="#ff0000"/>
<rect x="612" y="982" width="1" height="20" fill="#ff0000"/>
<rect x="613" y="983" width="1" height="18" fill="#0000ff"/>
<rect x="613" y="992" width="1" height="15" fill="#0000ff"/>
<rect x="614" y="987" width="1" height="13" fill="#0000ff"/>
<rect x="615" y="995" width="1" height="15" fill="#0000ff"/>
<rect x="616" y="1005" width="1" height="18" fill="#0000ff"/>
<rect x="617" y="1010" width="1" height="11" fill="#ff0000"/>
<rect x="618" y="978" width="1" height="40" fill="#ff0000"/>
<rect x="619" y="980" width="1" height="13" fill="#0000ff"/>
<rect x="619" y="986" width="1" height="14" fill="#0000ff"/>
<rect x="620" y="982" width="1" height="17" fill="#ff0000"/>
<rect x="621" y="979" width="1" height="16" fill="#0000ff"/>
<rect x="622" y="979" width="1" height="29" fill="#0000ff"/>
<rect x="623" y="993" width="1" height="20" fill="#0000ff"/>
<rect x="624" y="991" width="1" height="23" fill="#ff0000"/>
<rect x="625" y="986" width="1" height="21" fill="#ff0000"/>
<rect x="625" y="983" width="1" height="13" fill="#0000ff"/>
<rect x="626" y="984" width="1" height="17" fill="#0000ff"/>
<rect x="627" y="990" width="1" height="20" fill="#0000ff"/>
<rect x="628" y="996" width="1" height="13" fill="#0000ff"/>
<rect x="629" y="987" width="1" height="19" fill="#ff0000"/>
<rect x="630" y="982" width="1" height="13" fill="#0000ff"/>
<rect x="631" y="990" width="1" height="8" fill="#0000ff"/>
<rect x="631" y="992" width="1" height="10" fill="#0000ff"/>
<rect x="632" y="990" width="1" height="16" fill="#0000ff"/>
<rect x="633" y="998" width="1" height="10" fill="#0000ff"/>
<rect x="634" y="982" width="1" height="30" fill="#ff0000"/>
<rect x="635" y="983" width="1" height="13" fill="#0000ff"/>
<rect x="636" y="985" width="1" height="16" fill="#0000ff"/>
<rect x="637" y="992" width="1" height="14" fill="#ff0000"/>
<rect x="638" y="991" width="1" height="14" fill="#0000ff"/>
<rect x="638" y="998" width="1" height="18" fill="#0000ff"/>
<rect x="639" y="998" width="1" height="14" fill="#ff0000"/>
<rect x="640" y="997" width="1" height="15" fill="#0000ff"/>
<rect x="641" y="991" width="1" height="24" fill="#ff0000"/>
<rect x="642" y="990" width="1" height="12" fill="#ff0000"/>
<rect x="643" y="988" width="1" height="10" fill="#0000ff"/>
<rect x="644" y="994" width="1" height="29" fill="#0000ff"/>
<rect x="644" y="995" width="1" height="25" fill="#ff0000"/>
<rect x="645" y="973" width="1" height="33" fill="#ff0000"/>
<rect x="646" y="963" width="1" height="20" fill="#ff0000"/>
<rect x="647" y="956" width="1" height="15" fill="#ff0000"/>
<rect x="648" y="954" width="1" height="23" fill="#ff0000"/>
<rect x="649" y="943" width="1" height="21" fill="#ff0000"/>
<rect x="650" y="936" width="1" height="21" fill="#ff0000"/>
<rect x="650" y="929" width="1" height="19" fill="#ff0000"/>
<rect x="651" y="930" width="1" height="8" fill="#ff0000"/>
<rect x="652" y="921" width="1" height="16" fill="#ff0000"/>
<rect x="653" y="894" width="1" height="38" fill="#ff0000"/>
<rect x="654" y="877" width="1" height="26" fill="#ff0000"/>
<rect x="655" y="878" width="1" height="13" fill="#0000ff"/>
<rect x="656" y="882" width="1" height="17" fill="#0000ff"/>
<rect x="656" y="880" width="1" height="19" fill="#ff0000"/>
<rect x="657" y="855" width="1" height="38" fill="#ff0000"/>
<rect x="658" y="849" width="1" height="15" fill="#ff0000"/>
<rect x="659" y="849" width="1" height="20" fill="#0000ff"/>
<rect x="660" y="859" width="1" height="26" fill="#0000ff"/>
<rect x="661" y="872" width="1" height="18" fill="#0000ff"/>
<rect x="662" y="883" width="1" height="11" fill="#0000ff"/>
<rect x="662" y="864" width="1" height="28" fill="#ff0000"/>
<rect x="663" y="861" width="1" height="27" fill="#0000ff"/>
<rect x="664" y="872" width="1" height="14" fill="#0000ff"/>
<rect x="665" y="872" width="1" height="16" fill="#ff0000"/>
<rect x="666" y="864" width="1" height="14" fill="#ff0000"/>
<rect x="667" y="860" width="1" height="15" fill="#ff0000"/>
<rect x="668" y="864" width="1" height="25" fill="#0000ff"/>
<rect x="668" y="880" width="1" height="28" fill="#0000ff"/>
<rect x="669" y="901" width="1" height="19" fill="#0000ff"/>
<rect x="670" y="897" width="1" height="20" fill="#ff0000"/>
<rect x="671" y="881" width="1" height="29" fill="#ff0000"/>
<rect x="672" y="869" width="1" height="25" fill="#ff0000"/>
<rect x="673" y="864" width="1" height="10" fill="#ff0000"/>
<rect x="674" y="855" width="1" height="18" fill="#ff0000"/>
<rect x="674" y="848" width="1" height="13" fill="#ff0000"/>
<rect x="675" y="845" width="1" height="9" fill="#ff0000"/>
<rect x="676" y="840" width="1" height="31" fill="#0000ff"/>
<rect x="677" y="861" width="1" height="9" fill="#ff0000"/>
<rect x="678" y="844" width="1" height="29" fill="#ff0000"/>
<rect x="679" y="828" width="1" height="26" fill="#ff0000"/>
<rect x="680" y="829" width="1" height="18" fill="#0000ff"/>
<rect x="681" y="840" width="1" height="37" fill="#0000ff"/>
<rect x="681" y="869" width="1" height="19" fill="#0000ff"/>
<rect x="682" y="882" width="1" height="26" fill="#0000ff"/>
<rect x="683" y="903" width="1" height="13" fill="#0000ff"/>
<rect x="684" y="893" width="1" height="19" fill="#ff0000"/>
<rect x="685" y="880" width="1" height="28" fill="#ff0000"/>
<rect x="686" y="880" width="1" height="7" fill="#ff0000"/>
<rect x="687" y="879" width="1" height="11" fill="#0000ff"/>
<rect x="687" y="876" width="1" height="15" fill="#ff0000"/>
<rect x="688" y="880" width="1" height="9" fill="#0000ff"/>
<rect x="689" y="872" width="1" height="17" fill="#ff0000"/>
<rect x="690" y="868" width="1" height="20" fill="#ff0000"/>
<rect x="691" y="867" width="1" height="15" fill="#0000ff"/>
<rect x="692" y="869" width="1" height="13" fill="#ff0000"/>
<rect x="693" y="866" width="1" height="16" fill="#0000ff"/>
<rect x="693" y="864" width="1" height="25" fill="#ff0000"/>
<rect x="694" y="851" width="1" height="19" fill="#ff0000"/>
<rect x="695" y="852" width="1" height="9" fill="#0000ff"/>
<rect x="696" y="845" width="1" height="20" fill="#ff0000"/>
<rect x="697" y="837" width="1" height="19" fill="#ff0000"/>
<rect x="698" y="832" width="1" height="22" fill="#ff0000"/>
<rect x="699" y="824" width="1" height="15" fill="#ff0000"/>
<rect x="699" y="823" width="1" height="13" fill="#0000ff"/>
<rect x="700" y="814" width="1" height="19" fill="#ff0000"/>
<rect x="701" y="806" width="1" height="20" fill="#ff0000"/>
<rect x="702" y="801" width="1" height="13" fill="#ff0000"/>
<rect x="703" y="799" width="1" height="14" fill="#0000ff"/>
<rect x="704" y="804" width="1" height="15" fill="#0000ff"/>
<rect x="705" y="809" width="1" height="20" fill="#0000ff"/>
<rect x="705" y="819" width="1" height="11" fill="#0000ff"/>
<rect x="706" y="822" width="1" height="21" fill="#0000ff"/>
<rect x="707" y="837" width="1" height="11" fill="#0000ff"/>
<rect x="708" y="839" width="1" height="11" fill="#0000ff"/>
<rect x="709" y="831" width="1" height="21" fill="#ff0000"/>
<rect x="710" y="829" width="1" height="14" fill="#0000ff"/>
<rect x="711" y="834" width="1" height="17" fill="#0000ff"/>
<rect x="711" y="844" width="1" height="16" fill="#0000ff"/>
<rect x="712" y="849" width="1" height="17" fill="#0000ff"/>
<rect x="713" y="857" width="1" height="21" fill="#0000ff"/>
<rect x="714" y="863" width="1" height="13" fill="#ff0000"/>
<rect x="715" y="835" width="1" height="38" fill="#ff0000"/>
<rect x="716" y="820" width="1" height="25" fill="#ff0000"/>
<rect x="717" y="820" width="1" height="23" fill="#0000ff"/>
<rect x="717" y="832" width="1" height="19" fill="#0000ff"/>
<rect x="718" y="837" width="1" height="19" fill="#0000ff"/>
<rect x="719" y="832" width="1" height="21" fill="#ff0000"/>
<rect x="720" y="823" width="1" height="21" fill="#ff0000"/>
<rect x="721" y="815" width="1" height="22" fill="#ff0000"/>
<rect x="722" y="805" width="1" height="23" fill="#ff0000"/>
<rect x="723" y="802" width="1" height="12" fill="#ff0000"/>
<rect x="724" y="805" width="1" height="12" fill="#0000ff"/>
<rect x="724" y="806" width="1" height="12" fill="#ff0000"/>
<rect x="725" y="803" width="1" height="20" fill="#0000ff"/>
<rect x="726" y="810" width="1" height="9" fill="#0000ff"/>
<rect x="727" y="811" width="1" height="17" fill="#0000ff"/>
<rect x="728" y="822" width="1" height="20" fill="#0000ff"/>
<rect x="729" y="834" width="1" height="21" fill="#0000ff"/>
<rect x="90" y="1045.0" width="1" height="114.5" fill="#ff0000"/>
<rect x="91" y="1030.0" width="1" height="45.0" fill="#0000ff"/>
<rect x="321" y="925.0" width="1" height="85.0" fill="#0000ff"/>
<rect x="322" y="928.0" width="1" height="167.0" fill="#ff0000"/>
<rect x="323" y="980.0" width="1" height="80.0" fill="#0000ff"/>
<rect x="338" y="939.0" width="1" height="171.0" fill="#0000ff"/>
<rect x="339" y="945.0" width="1" height="135.0" fill="#0000ff"/>
<rect x="340" y="952.0" width="1" height="88.0" fill="#ff0000"/>
<rect x="380" y="997.0" width="1" height="43.0" fill="#0000ff"/>
<rect x="381" y="1002.0" width="1" height="93.0" fill="#ff0000"/>
<rect x="327" y="1060.0" width="1" height="120.0" fill="#ff0000"/>
<rect x="328" y="1100.0" width="1" height="90.0" fill="#ff0000"/>
<rect x="329" y="1105.0" width="1" height="71.0" fill="#ff0000"/>
<rect x="330" y="1080.0" width="1" height="161.0" fill="#0000ff"/>
<rect x="330" y="1241.0" width="1" height="26.0" fill="#ff0000"/>
<rect x="331" y="1090.0" width="1" height="118.0" fill="#0000ff"/>
<rect x="332" y="1085.0" width="1" height="79.0" fill="#0000ff"/>
<rect x="333" y="1080.0" width="1" height="83.0" fill="#0000ff"/>
<rect x="334" y="1128.0" width="1" height="15.0" fill="#ff0000"/>
<rect x="701" y="795.8" width="1" height="34.2" fill="#0000ff"/>
<rect x="702" y="800.0" width="1" height="45.0" fill="#ff0000"/>
<rect x="703" y="805.0" width="1" height="45.0" fill="#ff0000"/>
<rect x="679" y="821.3" width="1" height="58.7" fill="#0000ff"/>
<rect x="680" y="826.0" width="1" height="74.0" fill="#ff0000"/>
<rect x="723" y="795.8" width="1" height="44.2" fill="#0000ff"/>
<rect x="724" y="801.0" width="1" height="49.0" fill="#ff0000"/>
<rect x="683" y="880.0" width="1" height="33.5" fill="#ff0000"/>
<rect x="684" y="870.0" width="1" height="35.0" fill="#0000ff"/>
<path d="M0.0 896.5 L3.0 897.2 L6.0 899.5 L9.1 905.6 L11.3 914.6 L12.8 928.2 L15.1 933.5 L18.9 932.8 L21.2 938.1 L24.9 938.8 L28.0 934.3 L30.2 923.7 L33.2 907.1 L36.3 882.9 L38.5 860.2 L40.5 848.1 L43.1 854.2 L46.9 855.7 L51.4 854.9 L53.2 860.2 L55.2 875.3 L56.7 885.9 L58.2 881.4 L59.7 867.8 L61.2 861.0 L63.8 858.5 L67.5 861.0 L73.8 861.0 L77.5 864.8 L80.0 869.8 L82.5 861.0 L85.0 843.5 L87.5 846.0 L90.0 836.0 L92.5 839.8 L94.5 856.0 L95.5 880.0 L96.3 895.1 L97.5 917.8 L99.0 940.5 L100.8 960.1 L103.1 978.2 L105.3 988.8 L107.2 987.3 L109.1 981.3 L111.4 978.2 L113.7 970.7 L116.7 958.6 L119.7 946.5 L122.0 937.4 L124.2 926.9 L126.5 928.4 L129.5 927.6 L132.5 925.3 L134.8 920.8 L137.1 921.6 L140.1 926.9 L143.1 926.1 L145.4 923.8 L147.7 914.8 L149.5 911.0 L151.4 915.5 L153.7 920.0 L156.7 919.3 L159.0 913.2 L161.0 902.7 L162.8 899.6 L164.6 904.2 L166.6 913.2 L168.8 928.4 L171.1 943.5 L173.3 957.1 L175.6 964.6 L177.9 967.7 L180.0 970.7 L183.8 987.0 L186.2 1007.0 L188.8 1017.0 L191.2 1023.2 L195.0 1020.8 L200.0 1024.5 L203.8 1023.2 L206.0 1020.8 L208.5 1005.8 L213.5 1002.0 L217.2 1012.0 L221.0 1037.0 L224.8 1069.5 L227.2 1082.0 L229.8 1062.0 L232.2 1037.0 L234.8 1027.0 L239.8 1028.2 L243.5 1037.0 L248.5 1034.5 L252.2 1017.0 L257.2 1004.5 L261.0 1010.8 L266.0 1012.0 L272.2 1010.8 L276.0 1007.0 L281.0 1008.2 L284.8 999.5 L289.8 994.5 L290.0 996.7 L293.8 993.7 L297.6 989.2 L301.3 977.1 L304.4 972.5 L308.1 973.3 L311.9 975.6 L315.7 974.8 L318.7 978.6 L319.5 960.5 L321.0 940.8 L324.0 937.0 L326.3 930.2 L327.8 915.1 L329.0 900.0 L330.1 881.9 L331.6 871.3 L333.1 869.8 L334.3 884.9 L335.3 900.0 L338.4 909.1 L341.4 907.6 L343.6 912.9 L345.2 909.1 L346.7 924.2 L348.9 939.3 L351.2 943.8 L352.7 957.4 L354.2 975.6 L355.3 998.2 L356.5 1020.9 L359.5 1020.1 L361.0 1028.5 L362.5 1043.6 L365.6 1049.6 L368.6 1054.2 L371.6 1055.7 L374.6 1048.1 L376.9 1036.0 L379.2 1019.4 L380.7 1016.4 L385.2 1016.4 L389.8 1014.1 L393.5 1016.4 L395.0 1028.5 L396.6 1051.1 L398.1 1058.7 L401.8 1060.2 L405.6 1061.0 L407.9 1049.6 L410.0 1039.0 L412.0 1039.5 L412.0 1044.5 L415.8 1057.0 L419.5 1069.5 L423.2 1084.5 L427.0 1087.0 L432.0 1085.8 L435.8 1095.8 L439.5 1085.8 L443.2 1092.0 L447.0 1104.5 L452.0 1114.5 L457.0 1112.0 L460.0 1109.5 L464.5 1112.5 L469.1 1118.6 L472.1 1126.2 L476.6 1129.2 L481.9 1132.2 L484.2 1142.8 L485.7 1157.1 L489.5 1153.3 L493.2 1159.4 L497.8 1167.0 L501.6 1171.5 L505.3 1170.0 L509.1 1169.2 L512.1 1160.9 L514.4 1148.8 L516.7 1138.2 L518.9 1124.6 L521.2 1112.5 L522.7 1108.8 L525.0 1110.3 L527.2 1103.5 L528.8 1091.4 L530.3 1074.8 L531.8 1055.1 L532.5 1040.0 L534.5 1007.0 L537.0 982.0 L540.8 979.5 L544.5 983.2 L547.0 967.0 L550.8 964.5 L555.8 965.0 L558.2 962.0 L559.5 956.0 L561.2 959.8 L562.8 967.0 L564.5 994.5 L568.2 1003.2 L572.0 998.2 L574.5 1002.0 L578.2 999.5 L582.0 989.5 L585.8 983.2 L589.5 972.0 L592.0 967.0 L594.5 962.0 L598.2 942.2 L602.0 947.2 L607.0 944.8 L612.0 951.0 L614.5 962.0 L618.0 977.0 L621.8 969.5 L625.5 967.0 L630.5 972.0 L635.5 974.5 L640.5 979.5 L644.2 982.0 L646.8 962.0 L648.5 940.0 L650.9 919.6 L653.4 895.3 L655.2 871.0 L657.0 848.0 L658.8 833.4 L661.2 826.1 L663.1 822.5 L664.9 821.3 L666.1 824.9 L667.3 834.6 L668.5 845.5 L669.7 851.0 L672.2 849.8 L674.0 848.0 L675.8 840.7 L677.6 828.5 L679.4 822.5 L681.9 820.7 L684.9 819.4 L687.9 821.9 L691.0 826.1 L693.4 832.2 L695.2 843.1 L696.4 852.8 L697.6 845.5 L698.9 837.0 L700.1 828.5 L701.3 810.3 L702.5 798.2 L704.3 795.2 L706.8 795.8 L709.2 801.8 L711.6 800.6 L714.0 798.2 L716.5 797.6 L717.7 804.3 L718.9 815.2 L720.7 817.6 L722.5 814.0 L723.7 804.3 L725.6 799.4 L727.4 800.0 L729.2 805.5" fill="none" stroke="#ff22ee" stroke-width="1.15" stroke-linejoin="round" stroke-linecap="round" />
<path d="M0.0 1000.8 L3.0 990.2 L6.0 979.6 L8.3 978.9 L10.6 985.7 L14.4 987.9 L18.1 989.5 L22.7 987.9 L27.2 987.9 L29.5 984.2 L31.7 978.9 L34.8 981.1 L37.0 982.6 L39.3 981.1 L40.8 969.0 L43.1 955.4 L45.3 947.1 L48.4 946.4 L50.6 947.9 L52.9 953.9 L55.2 949.4 L57.4 941.8 L60.5 944.9 L63.0 935.9 L66.0 929.9 L69.1 919.3 L72.1 913.2 L75.1 917.8 L78.9 918.5 L81.9 917.0 L83.4 940.5 L84.9 970.7 L87.2 1000.9 L89.5 1038.7 L91.0 1068.9 L92.0 1091.6 L94.0 1103.7 L97.0 1091.6 L99.3 1080.1 L101.6 1068.9 L104.6 1059.8 L107.6 1047.8 L110.6 1040.2 L112.9 1032.6 L117.4 1029.6 L120.5 1019.0 L123.5 1008.5 L126.5 996.4 L129.5 985.8 L131.8 981.3 L134.1 985.8 L135.6 993.4 L138.6 992.6 L142.4 991.8 L145.4 994.1 L147.7 996.4 L149.9 988.8 L152.2 970.7 L154.5 960.1 L156.7 961.6 L158.2 970.7 L159.8 985.8 L162.0 1000.9 L164.3 1016.0 L166.6 1025.8 L169.6 1028.9 L171.8 1031.1 L174.1 1040.2 L176.4 1053.8 L177.9 1064.4 L180.0 1070.4 L182.5 1072.0 L186.2 1084.5 L190.0 1082.0 L195.0 1084.5 L200.0 1086.2 L203.8 1082.0 L206.0 1079.5 L207.2 1079.5 L208.5 1097.0 L211.0 1127.0 L214.8 1149.5 L218.5 1159.5 L221.5 1163.2 L223.5 1138.2 L228.5 1137.0 L231.0 1144.5 L234.8 1145.8 L238.5 1132.0 L241.0 1112.0 L243.5 1099.5 L247.2 1092.0 L251.0 1098.2 L256.0 1094.5 L259.8 1082.0 L262.2 1057.0 L266.0 1050.8 L272.2 1052.0 L276.0 1047.0 L281.0 1049.5 L287.2 1043.2 L290.0 1042.1 L293.0 1048.1 L296.1 1052.6 L300.6 1051.1 L305.1 1054.9 L308.9 1053.4 L311.2 1041.3 L314.9 1039.8 L318.0 1039.0 L321.0 1057.2 L324.0 1049.6 L325.5 1066.2 L327.0 1088.9 L327.8 1105.1 L328.5 1120.2 L329.6 1165.6 L330.8 1195.8 L332.3 1210.9 L333.8 1221.5 L335.3 1221.5 L337.6 1216.2 L339.9 1218.5 L342.9 1220.0 L344.4 1210.9 L345.2 1195.8 L345.9 1173.1 L347.4 1142.9 L348.9 1123.2 L350.4 1115.7 L352.0 1118.7 L354.2 1105.1 L355.7 1093.0 L356.8 1094.5 L358.8 1105.1 L361.0 1115.7 L364.1 1114.2 L368.6 1113.4 L373.1 1112.7 L376.9 1111.2 L379.2 1105.1 L381.4 1102.8 L384.5 1103.6 L386.7 1109.7 L389.0 1117.2 L392.0 1120.2 L394.3 1117.2 L395.8 1105.1 L397.3 1099.1 L401.1 1097.6 L404.9 1096.0 L406.4 1099.1 L407.9 1112.7 L410.0 1135.3 L412.0 1162.0 L412.0 1158.0 L415.8 1163.0 L422.0 1158.0 L425.8 1143.0 L429.5 1140.5 L435.8 1134.2 L438.2 1153.0 L442.0 1164.2 L447.0 1161.8 L452.0 1163.0 L457.0 1158.0 L460.0 1176.0 L463.0 1185.1 L466.1 1192.6 L470.6 1194.2 L473.6 1198.7 L476.6 1202.5 L480.4 1204.7 L483.4 1195.7 L485.7 1188.9 L488.0 1194.2 L490.2 1201.0 L494.0 1206.2 L497.0 1212.3 L500.1 1217.6 L503.8 1216.1 L508.4 1213.8 L512.9 1215.3 L516.7 1210.8 L520.5 1207.0 L522.7 1200.2 L524.2 1189.6 L525.7 1179.0 L527.2 1173.0 L528.8 1172.2 L530.3 1179.0 L531.8 1188.1 L533.3 1191.1 L534.8 1183.6 L537.1 1171.5 L538.6 1160.9 L540.1 1145.8 L541.6 1124.6 L542.8 1100.5 L544.0 1085.3 L545.4 1073.2 L546.9 1065.7 L549.2 1058.1 L551.4 1050.6 L554.5 1049.1 L556.7 1055.1 L558.2 1065.7 L559.8 1075.5 L561.3 1077.0 L562.8 1071.7 L565.0 1064.9 L568.1 1062.7 L571.1 1064.9 L572.6 1059.7 L574.1 1049.1 L575.6 1043.0 L577.9 1041.5 L579.5 1039.5 L583.2 1043.2 L587.0 1035.8 L590.8 1034.5 L594.5 1024.5 L599.5 1019.5 L603.2 1007.0 L607.0 1010.8 L610.8 1014.5 L614.5 1015.8 L618.0 1022.0 L623.0 1024.5 L628.0 1023.2 L633.0 1017.0 L638.0 1009.5 L641.8 1014.5 L645.5 1022.0 L649.2 1032.0 L654.2 1039.5 L656.8 1032.0 L659.2 1012.0 L661.8 987.0 L664.2 969.5 L665.5 962.0 L666.1 940.0 L667.3 919.6 L669.1 901.4 L670.3 896.5 L672.8 897.1 L675.2 899.5 L677.6 902.6 L680.0 907.4 L682.5 914.7 L684.9 923.2 L687.9 923.8 L691.0 925.0 L693.4 925.0 L695.2 913.5 L696.4 911.1 L697.6 914.7 L699.5 912.3 L701.3 907.4 L703.1 909.9 L704.3 900.1 L706.1 892.9 L708.0 886.8 L709.8 879.5 L711.6 883.2 L713.4 886.8 L715.9 888.0 L717.7 886.8 L719.5 880.7 L721.3 881.9 L723.1 883.8 L725.0 881.9 L726.8 877.1 L728.0 869.8 L729.2 865.0" fill="none" stroke="#ff22ee" stroke-width="1.15" stroke-linejoin="round" stroke-linecap="round" />
<path d="M0.0 923.7 L3.0 920.7 L6.0 920.4 L9.1 923.7 L11.3 932.8 L13.6 943.4 L16.6 947.1 L20.4 949.4 L24.2 950.9 L27.2 946.4 L30.2 935.8 L33.2 920.7 L36.3 902.5 L38.5 885.9 L40.8 879.1 L45.3 878.1 L49.9 878.7 L52.9 882.9 L55.2 893.5 L57.4 898.0 L59.7 890.5 L61.2 879.8 L66.2 877.2 L72.5 874.0 L77.5 878.5 L81.2 881.0 L82.7 880.0 L87.2 883.0 L90.2 892.1 L92.5 907.2 L94.0 925.3 L95.5 943.5 L97.5 964.6 L99.3 982.8 L101.6 997.9 L103.8 1005.4 L105.3 1007.0 L107.6 1000.9 L110.6 990.3 L113.7 979.8 L117.4 970.7 L120.5 961.6 L123.5 951.0 L126.5 945.0 L130.3 941.2 L134.1 938.9 L137.1 939.7 L140.1 943.5 L143.1 943.5 L146.2 940.5 L149.2 932.9 L152.2 929.9 L156.0 930.6 L158.2 928.4 L160.5 926.1 L162.8 928.4 L165.0 937.4 L167.3 946.5 L170.3 955.6 L173.3 970.7 L176.4 985.8 L180.0 996.4 L183.8 1007.0 L186.2 1024.5 L190.0 1037.0 L193.8 1037.0 L197.5 1038.2 L201.2 1042.0 L206.0 1039.5 L209.8 1030.8 L213.5 1044.5 L218.5 1067.0 L222.2 1087.0 L224.8 1092.0 L228.5 1079.5 L232.2 1062.0 L236.0 1052.0 L241.0 1049.5 L246.0 1050.8 L249.8 1044.5 L253.5 1034.5 L257.2 1024.5 L262.2 1023.2 L267.2 1020.8 L272.2 1022.0 L276.0 1015.8 L281.0 1017.0 L286.0 1009.5 L290.0 1007.3 L293.0 1008.1 L296.8 1004.3 L300.6 993.7 L305.1 993.0 L309.6 993.7 L314.2 990.7 L318.7 991.4 L320.2 975.6 L322.5 966.5 L326.3 963.5 L329.6 952.1 L331.6 957.4 L333.8 969.5 L336.1 981.6 L338.4 986.9 L341.4 989.2 L344.4 983.1 L346.7 982.4 L348.9 985.4 L351.2 987.7 L352.7 999.8 L354.2 1014.9 L355.7 1030.0 L358.0 1040.5 L361.0 1042.8 L363.3 1051.1 L365.6 1063.2 L368.6 1067.8 L372.4 1069.3 L375.4 1064.7 L377.7 1052.6 L379.9 1039.0 L382.9 1037.5 L387.5 1038.3 L391.3 1039.8 L393.5 1042.8 L395.0 1054.2 L397.3 1067.8 L401.8 1070.0 L406.4 1068.5 L410.0 1065.5 L412.0 1073.2 L415.8 1082.0 L419.5 1087.0 L423.2 1097.0 L427.0 1099.5 L430.8 1100.8 L435.8 1107.0 L439.5 1109.5 L443.2 1112.0 L448.2 1122.0 L453.2 1125.8 L458.2 1124.5 L460.0 1125.4 L463.8 1129.2 L467.6 1136.7 L471.3 1144.3 L476.6 1148.1 L481.9 1151.8 L484.9 1160.9 L488.0 1165.4 L491.0 1167.0 L495.5 1174.5 L500.1 1182.1 L503.8 1182.8 L508.4 1180.5 L510.6 1179.8 L512.9 1171.5 L515.2 1160.9 L518.2 1148.8 L521.2 1136.7 L524.2 1129.2 L526.5 1124.6 L528.0 1115.6 L529.8 1100.5 L531.3 1085.3 L532.9 1070.2 L534.4 1055.1 L535.6 1040.0 L535.8 1032.0 L539.5 1012.0 L543.2 1003.2 L547.0 994.5 L549.5 987.0 L554.5 985.8 L559.5 985.8 L562.0 994.5 L564.5 1009.5 L568.2 1022.0 L572.0 1015.8 L575.8 1012.0 L579.5 1010.8 L583.2 1004.5 L587.0 997.0 L590.8 989.5 L594.5 979.5 L598.2 969.5 L602.0 962.0 L605.8 958.2 L609.5 962.0 L613.2 967.0 L618.0 969.5 L618.0 984.5 L623.0 982.0 L628.0 987.0 L633.0 984.5 L638.0 987.0 L643.0 985.8 L645.5 977.0 L648.0 962.0 L651.8 951.0 L652.1 940.0 L654.0 919.6 L656.4 895.3 L658.8 877.1 L661.2 865.0 L663.7 858.9 L665.5 857.1 L667.3 858.3 L669.1 863.7 L671.5 862.5 L674.6 860.7 L676.4 857.7 L678.2 848.0 L680.0 844.9 L682.5 845.5 L685.5 846.1 L688.5 848.0 L691.0 851.0 L693.4 855.2 L695.2 862.5 L696.4 868.0 L698.2 857.7 L700.1 845.5 L701.9 833.4 L703.7 823.7 L705.5 820.7 L708.0 820.7 L711.6 821.3 L715.2 820.0 L717.1 821.3 L718.3 828.5 L720.1 833.4 L721.9 832.2 L723.7 826.1 L725.6 820.0 L727.4 818.8 L729.2 820.7" fill="none" stroke="#22ee22" stroke-width="1.15" stroke-linejoin="round" stroke-linecap="round" />
<path d="M0.0 973.6 L2.3 966.0 L4.5 961.5 L6.8 960.0 L9.1 964.5 L12.1 970.5 L15.1 975.1 L19.6 975.1 L24.2 974.3 L28.0 973.6 L30.2 966.0 L33.2 960.0 L36.3 950.9 L39.3 938.8 L42.3 928.2 L45.3 925.2 L49.1 924.5 L52.9 929.0 L55.9 929.8 L58.9 926.7 L60.0 926.9 L63.0 919.3 L66.8 910.2 L69.8 902.7 L72.8 900.4 L75.9 904.9 L79.7 905.7 L81.9 907.2 L84.2 925.3 L86.5 955.6 L88.7 985.8 L91.0 1013.0 L93.2 1031.1 L95.5 1044.7 L97.0 1047.8 L100.8 1046.2 L104.6 1044.0 L106.8 1037.2 L109.9 1025.1 L112.9 1017.5 L117.4 1010.0 L120.5 1000.9 L123.5 988.8 L126.5 978.2 L129.5 970.7 L132.5 966.1 L134.8 972.2 L137.8 976.0 L142.4 976.0 L146.9 975.2 L149.9 969.2 L152.2 957.1 L154.5 950.3 L156.7 951.0 L158.2 958.6 L160.5 970.7 L162.8 985.8 L165.8 999.4 L168.8 1005.4 L171.8 1016.0 L174.9 1031.1 L177.9 1038.7 L180.0 1043.2 L185.0 1062.0 L188.8 1068.2 L195.0 1068.2 L200.0 1070.8 L203.8 1064.5 L206.0 1062.0 L208.5 1082.0 L212.2 1107.0 L217.2 1124.5 L222.2 1130.8 L226.0 1124.5 L231.0 1122.0 L236.0 1114.5 L239.8 1097.0 L243.5 1084.5 L247.2 1079.5 L252.2 1077.0 L257.2 1069.5 L259.8 1052.0 L263.5 1043.2 L268.5 1042.0 L273.5 1038.2 L278.5 1039.5 L283.5 1037.0 L288.5 1032.0 L290.0 1031.5 L294.5 1037.5 L299.1 1034.5 L305.1 1033.0 L308.9 1033.8 L311.2 1025.4 L314.9 1023.2 L318.7 1024.7 L321.0 1028.5 L323.6 1020.9 L325.5 1025.4 L327.0 1043.6 L328.5 1066.2 L330.1 1088.9 L330.1 1112.7 L332.3 1132.3 L334.6 1139.9 L337.6 1139.1 L340.6 1142.1 L342.9 1142.9 L344.4 1135.3 L345.9 1112.7 L347.4 1090.0 L348.2 1081.4 L349.7 1073.8 L352.0 1072.3 L354.2 1079.1 L356.5 1075.3 L358.0 1081.4 L361.0 1088.9 L364.1 1096.5 L368.6 1098.0 L372.4 1097.2 L376.1 1095.0 L378.4 1085.9 L380.7 1081.4 L384.5 1082.1 L387.5 1090.4 L391.3 1093.5 L395.0 1091.9 L398.1 1088.2 L401.8 1088.9 L405.6 1086.7 L407.9 1090.4 L410.0 1100.1 L412.0 1127.0 L412.0 1135.5 L417.0 1139.2 L422.0 1138.0 L427.0 1130.5 L432.0 1125.5 L435.8 1128.0 L439.5 1140.5 L443.2 1148.0 L449.5 1149.2 L454.5 1146.8 L458.2 1153.0 L460.0 1154.9 L463.0 1165.4 L466.1 1173.0 L470.6 1175.3 L475.1 1182.1 L479.6 1185.1 L484.2 1180.5 L487.2 1185.1 L490.2 1192.6 L494.0 1198.7 L497.8 1204.7 L501.6 1205.5 L505.3 1203.2 L509.9 1202.5 L513.6 1198.7 L517.4 1192.6 L520.5 1187.4 L523.5 1177.5 L525.7 1165.4 L528.0 1154.9 L530.3 1151.8 L532.5 1152.6 L534.1 1145.8 L535.6 1136.7 L537.8 1124.6 L540.1 1109.5 L542.4 1085.3 L543.9 1070.2 L545.4 1055.1 L546.9 1044.5 L547.7 1040.0 L549.5 1034.5 L553.2 1030.8 L557.0 1039.5 L560.8 1049.5 L564.5 1047.0 L569.5 1047.0 L573.2 1042.0 L577.0 1032.0 L582.0 1029.5 L585.8 1023.2 L590.8 1019.5 L594.5 1012.0 L599.5 1002.0 L603.2 989.5 L607.0 994.5 L612.0 999.5 L618.0 1009.5 L623.0 1012.0 L628.0 1013.2 L633.0 1009.5 L638.0 1005.8 L643.0 1008.2 L648.0 1009.5 L653.0 1002.0 L656.8 987.0 L659.2 972.0 L661.0 962.0 L662.5 940.0 L664.3 919.6 L666.7 901.4 L669.1 889.2 L671.0 885.6 L674.0 885.6 L676.4 885.0 L678.8 885.6 L681.3 889.2 L683.1 895.3 L684.9 898.3 L687.3 898.3 L689.8 900.1 L692.8 901.4 L695.8 898.3 L698.2 892.9 L700.7 886.8 L703.1 879.5 L705.5 869.8 L707.4 863.7 L709.2 859.5 L711.0 861.3 L712.8 865.0 L715.2 865.6 L718.9 865.6 L722.5 864.3 L725.0 860.7 L727.4 855.2 L729.6 849.2" fill="none" stroke="#22ee22" stroke-width="1.15" stroke-linejoin="round" stroke-linecap="round" />
<path d="M0.0 949.4 L0.8 947.7 L2.3 944.3 L3.8 942.0 L5.3 940.9 L6.8 941.8 L8.3 944.9 L9.8 948.6 L11.3 953.2 L12.8 956.8 L14.4 959.4 L16.2 961.2 L18.5 962.2 L20.8 962.8 L23.0 962.9 L25.1 961.9 L27.0 959.6 L28.7 956.2 L30.2 951.7 L31.7 946.0 L33.3 939.2 L34.8 932.4 L36.3 925.6 L37.8 918.8 L39.3 912.0 L40.8 907.1 L42.3 904.1 L44.0 902.2 L45.9 901.4 L47.6 901.4 L49.1 902.2 L50.6 904.1 L52.1 907.1 L53.7 909.7 L55.2 912.0 L56.5 912.9 L57.6 912.6 L58.8 911.0 L59.9 908.4 L61.5 904.5 L63.5 899.2 L65.7 895.1 L67.9 892.1 L70.0 889.8 L71.9 888.3 L73.8 888.9 L75.7 891.5 L77.9 893.2 L80.6 894.0 L82.7 897.2 L84.2 902.9 L85.7 909.8 L87.2 918.2 L88.5 926.9 L89.7 935.9 L90.8 945.0 L91.9 954.1 L93.1 963.1 L94.2 972.2 L95.3 981.3 L96.5 990.3 L97.6 998.6 L98.7 1006.2 L100.0 1012.6 L101.6 1017.9 L102.9 1021.3 L104.0 1022.8 L105.1 1022.4 L106.3 1020.2 L107.6 1016.4 L109.1 1011.1 L110.8 1005.8 L112.7 1000.5 L114.6 996.0 L116.5 992.2 L118.2 988.8 L119.7 985.8 L121.2 981.6 L122.7 976.3 L124.4 971.1 L126.3 965.8 L128.0 961.4 L129.5 958.0 L130.8 955.8 L132.0 954.6 L133.3 954.8 L134.8 956.3 L136.7 957.6 L139.0 958.8 L141.2 959.2 L143.5 958.8 L145.6 957.5 L147.5 955.2 L149.4 951.8 L151.2 947.3 L152.9 943.9 L154.5 941.6 L156.0 941.0 L157.5 942.2 L159.0 944.8 L160.5 949.0 L162.0 954.1 L163.5 960.1 L165.0 965.8 L166.5 971.1 L168.1 976.7 L169.6 982.8 L171.1 989.2 L172.6 996.0 L174.1 1002.4 L175.6 1008.5 L177.3 1013.8 L179.1 1018.3 L181.2 1025.9 L183.8 1036.6 L185.9 1044.8 L187.8 1050.4 L190.0 1052.9 L192.5 1052.3 L194.7 1052.3 L196.6 1052.9 L198.1 1053.9 L199.4 1055.1 L200.9 1054.2 L202.8 1051.1 L204.3 1049.2 L205.4 1048.6 L206.9 1051.7 L208.8 1058.6 L210.7 1066.4 L212.6 1075.1 L214.4 1083.2 L216.3 1090.8 L218.2 1097.6 L220.1 1103.9 L221.9 1108.2 L223.8 1110.8 L225.7 1110.1 L227.6 1106.4 L229.4 1101.4 L231.3 1095.1 L233.2 1088.9 L235.1 1082.6 L236.9 1076.7 L238.8 1071.1 L240.7 1067.3 L242.6 1065.4 L244.8 1064.2 L247.2 1063.6 L249.8 1061.7 L252.2 1058.6 L254.4 1054.5 L256.3 1049.5 L258.2 1043.9 L260.1 1037.6 L262.2 1033.6 L264.8 1031.7 L267.2 1030.8 L269.8 1030.8 L272.2 1029.5 L274.8 1027.0 L277.2 1026.4 L279.8 1027.6 L282.2 1026.7 L284.8 1023.6 L287.0 1021.4 L289.0 1020.0 L291.1 1020.2 L293.4 1021.7 L295.7 1020.9 L297.9 1017.9 L300.6 1015.4 L303.6 1013.5 L306.2 1012.4 L308.5 1012.0 L310.8 1010.7 L313.0 1008.4 L315.1 1007.5 L317.0 1007.9 L318.7 1006.4 L320.2 1003.0 L321.6 999.6 L322.9 996.2 L324.2 995.0 L325.6 996.2 L326.7 999.8 L327.6 1005.8 L328.6 1013.4 L329.6 1022.4 L330.6 1031.5 L331.8 1040.6 L333.1 1048.5 L334.6 1055.3 L336.3 1060.0 L338.2 1062.7 L339.9 1064.5 L341.4 1065.7 L342.8 1064.7 L344.1 1061.7 L345.3 1055.7 L346.5 1046.6 L347.7 1039.4 L348.7 1034.1 L349.7 1031.5 L350.7 1031.5 L351.7 1034.9 L352.7 1041.7 L353.8 1048.1 L355.1 1054.2 L356.5 1058.7 L358.0 1061.7 L359.5 1064.7 L361.0 1067.8 L362.5 1071.5 L364.1 1076.1 L365.8 1079.5 L367.6 1081.7 L369.5 1083.1 L371.4 1083.4 L373.3 1082.7 L375.2 1080.8 L376.7 1077.2 L377.8 1071.9 L379.0 1067.0 L380.1 1062.5 L381.4 1060.0 L382.9 1059.6 L384.6 1060.2 L386.5 1061.7 L388.4 1063.8 L390.3 1066.4 L392.2 1069.3 L394.1 1072.3 L395.8 1074.9 L397.3 1077.2 L399.2 1078.5 L401.5 1078.9 L403.5 1079.3 L405.4 1079.7 L407.3 1083.2 L409.1 1090.1 L410.5 1095.6 L411.5 1099.9 L412.9 1103.2 L414.8 1105.8 L416.7 1108.9 L418.6 1112.6 L420.4 1116.1 L422.3 1119.2 L424.2 1119.5 L426.1 1117.0 L427.9 1114.8 L429.8 1112.9 L431.7 1112.9 L433.6 1114.8 L435.4 1117.9 L437.3 1122.3 L439.5 1125.8 L442.0 1128.2 L444.5 1130.8 L447.0 1133.2 L449.2 1135.1 L451.1 1136.4 L452.9 1136.4 L454.8 1135.1 L456.7 1135.8 L458.6 1138.2 L459.6 1139.2 L459.9 1138.6 L461.1 1141.6 L463.4 1148.4 L465.7 1153.7 L467.9 1157.5 L470.6 1160.9 L473.6 1163.9 L477.0 1166.4 L480.8 1168.3 L484.2 1171.5 L487.2 1176.0 L490.2 1180.6 L493.2 1185.1 L495.9 1188.9 L498.2 1191.9 L500.2 1193.8 L502.1 1194.5 L504.0 1194.3 L505.9 1193.2 L507.8 1191.9 L509.7 1190.4 L511.2 1187.7 L512.3 1184.0 L513.7 1180.0 L515.2 1175.8 L516.9 1171.7 L518.8 1167.5 L520.6 1162.4 L522.5 1156.4 L524.2 1151.1 L525.7 1146.5 L527.1 1141.6 L528.2 1136.3 L529.5 1130.3 L531.0 1123.5 L532.4 1116.7 L533.5 1109.9 L534.6 1102.7 L535.8 1095.2 L536.9 1087.2 L538.0 1078.9 L539.2 1071.0 L540.3 1063.4 L541.4 1056.6 L542.3 1050.6 L543.1 1045.7 L543.7 1041.9 L544.5 1035.5 L545.3 1026.5 L546.7 1019.2 L548.6 1013.6 L550.4 1009.8 L552.3 1007.9 L554.2 1007.6 L556.1 1008.9 L557.9 1012.0 L559.8 1017.0 L561.7 1021.7 L563.6 1026.1 L565.4 1029.5 L567.3 1032.0 L569.2 1032.3 L571.1 1030.4 L572.9 1027.9 L574.8 1024.8 L576.7 1021.7 L578.6 1018.6 L580.8 1016.4 L583.2 1015.1 L585.4 1012.9 L587.3 1009.8 L589.2 1006.1 L591.1 1001.7 L592.9 997.0 L594.8 992.0 L596.7 987.0 L598.6 982.0 L600.4 977.9 L602.3 974.8 L604.2 974.2 L606.1 976.1 L607.9 978.6 L609.8 981.7 L611.7 985.4 L613.6 989.8 L615.4 993.2 L617.1 995.8 L619.2 996.7 L621.8 996.1 L624.2 996.7 L626.8 998.6 L629.2 998.9 L631.8 997.6 L634.2 996.7 L636.8 996.1 L639.2 996.1 L641.8 996.7 L643.9 995.8 L645.8 993.2 L647.7 988.9 L649.6 982.6 L651.4 976.4 L653.3 970.1 L654.6 965.8 L655.2 963.2 L655.6 956.5 L655.7 945.5 L656.4 936.4 L657.6 929.2 L658.8 922.0 L660.0 914.7 L661.2 908.0 L662.5 902.0 L663.7 896.5 L664.9 891.6 L666.1 886.8 L667.3 881.9 L668.5 878.3 L669.7 875.9 L671.1 874.4 L672.6 873.8 L674.1 873.1 L675.6 872.5 L676.9 871.5 L677.8 870.0 L678.7 868.3 L679.6 866.5 L680.5 866.3 L681.4 867.8 L682.3 869.2 L683.2 870.4 L684.3 870.9 L685.5 870.6 L686.7 871.0 L687.9 872.2 L689.1 873.6 L690.4 875.1 L691.6 876.8 L692.8 878.6 L694.0 880.4 L695.2 882.2 L696.4 881.3 L697.6 877.7 L698.9 873.1 L700.1 867.7 L701.3 862.2 L702.5 856.8 L703.7 852.1 L704.9 848.1 L706.1 845.1 L707.4 843.0 L708.3 841.3 L709.1 840.1 L710.0 839.9 L711.1 840.8 L712.2 841.6 L713.4 842.2 L714.6 842.7 L715.9 843.0 L716.9 844.3 L717.8 846.7 L718.7 848.3 L719.6 848.9 L720.7 848.9 L721.9 848.3 L723.1 846.4 L724.3 843.4 L725.6 840.8 L726.8 838.7 L727.9 837.0 L729.0 835.8 L729.6 835.2" fill="none" stroke="#ff6a12" stroke-width="2.15" stroke-linejoin="round" stroke-linecap="round" />
</g>
<rect x="768.2" y="756" width="1.05" height="535.5" fill="#3a4676"/>
<rect x="1" y="1290.5" width="768.2" height="1.0" fill="#3a4676"/>
<rect x="769" y="775.0" width="5" height="1" fill="#3a4676"/>
<rect x="769" y="806.0" width="5" height="1" fill="#3a4676"/>
<rect x="769" y="837.0" width="5" height="1" fill="#3a4676"/>
<rect x="769" y="868.0" width="5" height="1" fill="#3a4676"/>
<rect x="769" y="899.0" width="5" height="1" fill="#3a4676"/>
<rect x="769" y="930.0" width="5" height="1" fill="#3a4676"/>
<rect x="769" y="961.0" width="5" height="1" fill="#3a4676"/>
<rect x="769" y="992.0" width="5" height="1" fill="#3a4676"/>
<rect x="769" y="1023.0" width="5" height="1" fill="#3a4676"/>
<rect x="769" y="1054.0" width="5" height="1" fill="#3a4676"/>
<rect x="769" y="1085.0" width="5" height="1" fill="#3a4676"/>
<rect x="769" y="1116.0" width="5" height="1" fill="#3a4676"/>
<rect x="769" y="1147.0" width="5" height="1" fill="#3a4676"/>
<rect x="769" y="1178.0" width="5" height="1" fill="#3a4676"/>
<rect x="769" y="1209.0" width="5" height="1" fill="#3a4676"/>
<rect x="769" y="1240.0" width="5" height="1" fill="#3a4676"/>
<rect x="769" y="1271.0" width="5" height="1" fill="#3a4676"/>
<text x="783.0" y="997.4" font-size="10" fill="#5c6b96" font-weight="normal" text-anchor="start" textLength="35.7" lengthAdjust="spacingAndGlyphs" >110.000</text>
<rect x="37.0" y="1291" width="1" height="4.5" fill="#3a4676"/>
<rect x="89.0" y="1291" width="1" height="4.5" fill="#3a4676"/>
<rect x="137.8" y="1291" width="1" height="4.5" fill="#3a4676"/>
<rect x="189.0" y="1291" width="1" height="4.5" fill="#3a4676"/>
<rect x="241.0" y="1291" width="1" height="4.5" fill="#3a4676"/>
<rect x="292.0" y="1291" width="1" height="4.5" fill="#3a4676"/>
<rect x="342.0" y="1291" width="1" height="4.5" fill="#3a4676"/>
<rect x="393.0" y="1291" width="1" height="4.5" fill="#3a4676"/>
<rect x="444.8" y="1291" width="1" height="4.5" fill="#3a4676"/>
<rect x="497.0" y="1291" width="1" height="4.5" fill="#3a4676"/>
<rect x="546.0" y="1291" width="1" height="4.5" fill="#3a4676"/>
<rect x="597.0" y="1291" width="1" height="4.5" fill="#3a4676"/>
<rect x="648.8" y="1291" width="1" height="4.5" fill="#3a4676"/>
<rect x="700.0" y="1291" width="1" height="4.5" fill="#3a4676"/>
<text x="89.0" y="1310.8" font-size="10" fill="#5c6788" font-weight="normal" text-anchor="middle" textLength="52.0" lengthAdjust="spacingAndGlyphs" >2019-01-02</text>
<text x="292.0" y="1310.8" font-size="10" fill="#5c6788" font-weight="normal" text-anchor="middle" textLength="52.0" lengthAdjust="spacingAndGlyphs" >2020-01-02</text>
<text x="497.0" y="1310.8" font-size="10" fill="#5c6788" font-weight="normal" text-anchor="middle" textLength="52.0" lengthAdjust="spacingAndGlyphs" >2021-01-04</text>
<text x="700.0" y="1310.8" font-size="10" fill="#5c6788" font-weight="normal" text-anchor="middle" textLength="52.0" lengthAdjust="spacingAndGlyphs" >2022-01-03</text>
<path d="M769.5 847.5 L775 840.8 H824 V854.6 H775 Z" fill="#c9dbfb"/>
<text x="778.0" y="851.3" font-size="10" fill="#39446a" font-weight="normal" text-anchor="start" textLength="35.5" lengthAdjust="spacingAndGlyphs" >114.670</text>
<text x="113.8" y="833.3" font-size="15.6" fill="#111" textLength="174.2" lengthAdjust="spacingAndGlyphs" xml:space="preserve"><tspan>2018/10/4</tspan><tspan font-size="13.9">高値</tspan><tspan> 114.55</tspan><tspan font-size="13.9">円</tspan></text>
<text x="212.3" y="872.3" font-size="15.6" fill="#111" textLength="174.2" lengthAdjust="spacingAndGlyphs" xml:space="preserve"><tspan>2019/4/24</tspan><tspan font-size="13.9">高値</tspan><tspan> 112.40</tspan><tspan font-size="13.9">円</tspan></text>
<text x="393.0" y="917.2" font-size="15.6" fill="#111" textLength="174.0" lengthAdjust="spacingAndGlyphs" xml:space="preserve"><tspan>2020/2/20</tspan><tspan font-size="13.9">高値</tspan><tspan> 112.22</tspan><tspan font-size="13.9">円</tspan></text>
<text x="414.0" y="800.3" font-size="15.6" fill="#111" textLength="165.0" lengthAdjust="spacingAndGlyphs" xml:space="preserve"><tspan>2022/1/4</tspan><tspan font-size="13.9">高値</tspan><tspan> 116.35</tspan><tspan font-size="13.9">円</tspan></text>
<text x="376.8" y="826.1" font-size="15.6" fill="#111" textLength="183.2" lengthAdjust="spacingAndGlyphs" xml:space="preserve"><tspan>2021/11/24</tspan><tspan font-size="13.9">高値</tspan><tspan> 115.51</tspan><tspan font-size="13.9">円</tspan></text>
<text x="582.8" y="1112.0" font-size="15.6" fill="#111" textLength="183.2" lengthAdjust="spacingAndGlyphs" xml:space="preserve"><tspan>2021/11/30</tspan><tspan font-size="13.9">安値</tspan><tspan> 112.53</tspan><tspan font-size="13.9">円</tspan></text>
<path d="M109.0 828.5 L43.8 846.5 M51.1 840.5 L43.8 846.5 L53.2 847.9" fill="none" stroke="#1a1a1a" stroke-width="1.1" stroke-linecap="round" stroke-linejoin="round"/>
<path d="M206.0 872.3 L156.3 912.3 M160.6 903.8 L156.3 912.3 L165.5 909.9" fill="none" stroke="#1a1a1a" stroke-width="1.1" stroke-linecap="round" stroke-linejoin="round"/>
<path d="M386.5 915.3 L323.0 922.3 M331.2 917.5 L323.0 922.3 L332.0 925.2" fill="none" stroke="#1a1a1a" stroke-width="1.1" stroke-linecap="round" stroke-linejoin="round"/>
<path d="M590.8 794.8 L699.8 794.8 M691.1 798.7 L699.8 794.8 L691.1 790.9" fill="none" stroke="#1a1a1a" stroke-width="1.1" stroke-linecap="round" stroke-linejoin="round"/>
<path d="M569.0 820.5 L678.0 820.5 M669.3 824.4 L678.0 820.5 L669.3 816.6" fill="none" stroke="#1a1a1a" stroke-width="1.1" stroke-linecap="round" stroke-linejoin="round"/>
<path d="M668.0 1097.0 L683.5 914.8 M686.6 923.8 L683.5 914.8 L678.9 923.1" fill="none" stroke="#1a1a1a" stroke-width="1.1" stroke-linecap="round" stroke-linejoin="round"/>
</g>
</svg></body></html>
